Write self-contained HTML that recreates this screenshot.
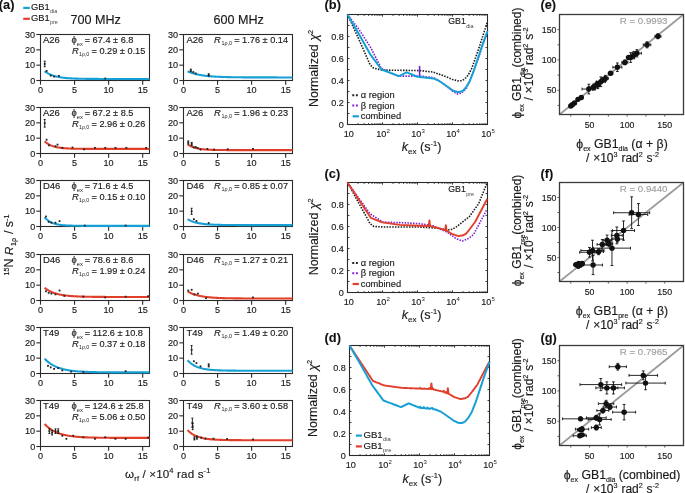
<!DOCTYPE html><html><head><meta charset="utf-8"><style>html,body{margin:0;padding:0;background:#fff;width:685px;height:493px;overflow:hidden}</style></head><body><div style="will-change:transform;width:685px;height:493px"><svg width="685" height="493" viewBox="0 0 685 493" style="display:block">
<rect width="685" height="493" fill="#fff"/>
<g font-family="'Liberation Sans', sans-serif">
<text x="-1.20" y="8.90" font-size="12.8" text-anchor="start" font-weight="bold" fill="#111" stroke="#111" stroke-width="0.1" >(a)</text>
<line x1="23.20" y1="7.90" x2="29.80" y2="7.90" stroke="#17a0d5" stroke-width="2.2" />
<text x="31.00" y="9.80" font-size="9.4" text-anchor="start" font-weight="normal" fill="#1a1a1a" stroke="#1a1a1a" stroke-width="0.15" >GB1</text>
<text x="50.00" y="13.00" font-size="5.4" text-anchor="start" font-weight="normal" fill="#444" stroke="#444" stroke-width="0" >dia</text>
<line x1="23.20" y1="18.80" x2="29.80" y2="18.80" stroke="#e23f2b" stroke-width="2.2" />
<text x="31.00" y="20.70" font-size="9.4" text-anchor="start" font-weight="normal" fill="#1a1a1a" stroke="#1a1a1a" stroke-width="0.15" >GB1</text>
<text x="50.00" y="23.90" font-size="5.4" text-anchor="start" font-weight="normal" fill="#444" stroke="#444" stroke-width="0" >pre</text>
<text x="70.50" y="23.90" font-size="12.6" text-anchor="start" font-weight="normal" fill="#1a1a1a" stroke="#1a1a1a" stroke-width="0.15" >700 MHz</text>
<text x="213.50" y="23.90" font-size="12.6" text-anchor="start" font-weight="normal" fill="#1a1a1a" stroke="#1a1a1a" stroke-width="0.15" >600 MHz</text>
<rect x="40.5" y="34.5" width="109" height="46" fill="none" stroke="#2a2a2a" stroke-width="1.1"/>
<line x1="36.30" y1="80.50" x2="40.50" y2="80.50" stroke="#2a2a2a" stroke-width="1.1" />
<text x="35.20" y="83.80" font-size="9.1" text-anchor="end" font-weight="normal" fill="#1a1a1a" stroke="#1a1a1a" stroke-width="0.15" >0</text>
<line x1="36.30" y1="65.17" x2="40.50" y2="65.17" stroke="#2a2a2a" stroke-width="1.1" />
<text x="35.20" y="68.47" font-size="9.1" text-anchor="end" font-weight="normal" fill="#1a1a1a" stroke="#1a1a1a" stroke-width="0.15" >10</text>
<line x1="36.30" y1="49.83" x2="40.50" y2="49.83" stroke="#2a2a2a" stroke-width="1.1" />
<text x="35.20" y="53.13" font-size="9.1" text-anchor="end" font-weight="normal" fill="#1a1a1a" stroke="#1a1a1a" stroke-width="0.15" >20</text>
<line x1="36.30" y1="34.50" x2="40.50" y2="34.50" stroke="#2a2a2a" stroke-width="1.1" />
<text x="35.20" y="37.80" font-size="9.1" text-anchor="end" font-weight="normal" fill="#1a1a1a" stroke="#1a1a1a" stroke-width="0.15" >30</text>
<line x1="40.50" y1="80.50" x2="40.50" y2="84.70" stroke="#2a2a2a" stroke-width="1.1" />
<text x="40.50" y="93.20" font-size="9.1" text-anchor="middle" font-weight="normal" fill="#1a1a1a" stroke="#1a1a1a" stroke-width="0.15" >0</text>
<line x1="74.56" y1="80.50" x2="74.56" y2="84.70" stroke="#2a2a2a" stroke-width="1.1" />
<text x="74.56" y="93.20" font-size="9.1" text-anchor="middle" font-weight="normal" fill="#1a1a1a" stroke="#1a1a1a" stroke-width="0.15" >5</text>
<line x1="108.62" y1="80.50" x2="108.62" y2="84.70" stroke="#2a2a2a" stroke-width="1.1" />
<text x="108.62" y="93.20" font-size="9.1" text-anchor="middle" font-weight="normal" fill="#1a1a1a" stroke="#1a1a1a" stroke-width="0.15" >10</text>
<line x1="142.69" y1="80.50" x2="142.69" y2="84.70" stroke="#2a2a2a" stroke-width="1.1" />
<text x="142.69" y="93.20" font-size="9.1" text-anchor="middle" font-weight="normal" fill="#1a1a1a" stroke="#1a1a1a" stroke-width="0.15" >15</text>
<polyline points="44.59,71.15 45.46,71.79 46.34,72.38 47.21,72.92 48.08,73.41 48.96,73.87 49.83,74.29 50.71,74.67 51.58,75.02 52.46,75.35 53.33,75.64 54.20,75.92 55.08,76.17 55.95,76.40 56.83,76.61 57.70,76.80 58.58,76.98 59.45,77.14 60.32,77.29 61.20,77.43 62.07,77.55 62.95,77.67 63.82,77.78 64.70,77.87 65.57,77.96 66.44,78.05 67.32,78.12 68.19,78.19 69.07,78.25 69.94,78.31 70.82,78.37 71.69,78.42 72.56,78.46 73.44,78.50 74.31,78.54 75.19,78.58 76.06,78.61 76.94,78.64 77.81,78.66 78.68,78.69 79.56,78.71 80.43,78.73 81.31,78.75 82.18,78.77 83.06,78.79 83.93,78.80 84.80,78.81 85.68,78.83 86.55,78.84 87.43,78.85 88.30,78.86 89.18,78.87 90.05,78.88 90.92,78.88 91.80,78.89 92.67,78.90 93.55,78.90 94.42,78.91 95.30,78.91 96.17,78.92 97.04,78.92 97.92,78.92 98.79,78.93 99.67,78.93 100.54,78.93 101.42,78.94 102.29,78.94 103.16,78.94 104.04,78.94 104.91,78.95 105.79,78.95 106.66,78.95 107.53,78.95 108.41,78.95 109.28,78.95 110.16,78.95 111.03,78.95 111.91,78.96 112.78,78.96 113.65,78.96 114.53,78.96 115.40,78.96 116.28,78.96 117.15,78.96 118.03,78.96 118.90,78.96 119.77,78.96 120.65,78.96 121.52,78.96 122.40,78.96 123.27,78.96 124.15,78.96 125.02,78.96 125.89,78.96 126.77,78.96 127.64,78.96 128.52,78.96 129.39,78.96 130.27,78.96 131.14,78.97 132.01,78.97 132.89,78.97 133.76,78.97 134.64,78.97 135.51,78.97 136.39,78.97 137.26,78.97 138.13,78.97 139.01,78.97 139.88,78.97 140.76,78.97 141.63,78.97 142.51,78.97 143.38,78.97 144.25,78.97 145.13,78.97 146.00,78.97 146.88,78.97 147.75,78.97 148.63,78.97 149.50,78.97" fill="none" stroke="#17a0d5" stroke-width="2.1" stroke-linejoin="round" />
<line x1="44.72" y1="61.18" x2="44.72" y2="66.70" stroke="#111" stroke-width="0.9" />
<line x1="43.72" y1="61.18" x2="45.72" y2="61.18" stroke="#111" stroke-width="0.9" />
<line x1="43.72" y1="66.70" x2="45.72" y2="66.70" stroke="#111" stroke-width="0.9" />
<rect x="43.82" y="63.04" width="1.8" height="1.8" fill="#222"/>
<rect x="45.73" y="70.09" width="1.8" height="1.8" fill="#222"/>
<rect x="49.82" y="74.69" width="1.8" height="1.8" fill="#222"/>
<rect x="53.23" y="75.61" width="1.8" height="1.8" fill="#222"/>
<rect x="57.99" y="75.00" width="1.8" height="1.8" fill="#222"/>
<rect x="104.32" y="77.61" width="1.8" height="1.8" fill="#222"/>
<text x="42.90" y="42.60" font-size="9.5" text-anchor="start" font-weight="normal" fill="#1a1a1a" stroke="#1a1a1a" stroke-width="0.15" >A26</text>
<text x="71.50" y="42.60" font-size="9.4" text-anchor="start" font-weight="normal" fill="#1a1a1a" stroke="#1a1a1a" stroke-width="0.15" >ϕ</text>
<text x="76.80" y="45.80" font-size="5.8" text-anchor="start" font-weight="normal" fill="#1a1a1a" stroke="#1a1a1a" stroke-width="0" >ex</text>
<text x="84.70" y="42.60" font-size="9.2" text-anchor="start" font-weight="normal" fill="#1a1a1a" stroke="#1a1a1a" stroke-width="0.15" >= 67.4 ± 6.8</text>
<text x="71.90" y="54.00" font-size="9.4" text-anchor="start" font-weight="normal" fill="#1a1a1a" stroke="#1a1a1a" stroke-width="0.15" font-style="italic">R</text>
<text x="79.10" y="56.30" font-size="5.2" text-anchor="start" font-weight="normal" fill="#1a1a1a" stroke="#1a1a1a" stroke-width="0" >1ρ,0</text>
<text x="91.50" y="54.00" font-size="9.2" text-anchor="start" font-weight="normal" fill="#1a1a1a" stroke="#1a1a1a" stroke-width="0.15" >= 0.29 ± 0.15</text>
<rect x="183.5" y="34.5" width="109" height="46" fill="none" stroke="#2a2a2a" stroke-width="1.1"/>
<line x1="179.30" y1="80.50" x2="183.50" y2="80.50" stroke="#2a2a2a" stroke-width="1.1" />
<text x="178.20" y="83.80" font-size="9.1" text-anchor="end" font-weight="normal" fill="#1a1a1a" stroke="#1a1a1a" stroke-width="0.15" >0</text>
<line x1="179.30" y1="65.17" x2="183.50" y2="65.17" stroke="#2a2a2a" stroke-width="1.1" />
<text x="178.20" y="68.47" font-size="9.1" text-anchor="end" font-weight="normal" fill="#1a1a1a" stroke="#1a1a1a" stroke-width="0.15" >10</text>
<line x1="179.30" y1="49.83" x2="183.50" y2="49.83" stroke="#2a2a2a" stroke-width="1.1" />
<text x="178.20" y="53.13" font-size="9.1" text-anchor="end" font-weight="normal" fill="#1a1a1a" stroke="#1a1a1a" stroke-width="0.15" >20</text>
<line x1="179.30" y1="34.50" x2="183.50" y2="34.50" stroke="#2a2a2a" stroke-width="1.1" />
<text x="178.20" y="37.80" font-size="9.1" text-anchor="end" font-weight="normal" fill="#1a1a1a" stroke="#1a1a1a" stroke-width="0.15" >30</text>
<line x1="183.50" y1="80.50" x2="183.50" y2="84.70" stroke="#2a2a2a" stroke-width="1.1" />
<text x="183.50" y="93.20" font-size="9.1" text-anchor="middle" font-weight="normal" fill="#1a1a1a" stroke="#1a1a1a" stroke-width="0.15" >0</text>
<line x1="217.56" y1="80.50" x2="217.56" y2="84.70" stroke="#2a2a2a" stroke-width="1.1" />
<text x="217.56" y="93.20" font-size="9.1" text-anchor="middle" font-weight="normal" fill="#1a1a1a" stroke="#1a1a1a" stroke-width="0.15" >5</text>
<line x1="251.62" y1="80.50" x2="251.62" y2="84.70" stroke="#2a2a2a" stroke-width="1.1" />
<text x="251.62" y="93.20" font-size="9.1" text-anchor="middle" font-weight="normal" fill="#1a1a1a" stroke="#1a1a1a" stroke-width="0.15" >10</text>
<line x1="285.69" y1="80.50" x2="285.69" y2="84.70" stroke="#2a2a2a" stroke-width="1.1" />
<text x="285.69" y="93.20" font-size="9.1" text-anchor="middle" font-weight="normal" fill="#1a1a1a" stroke="#1a1a1a" stroke-width="0.15" >15</text>
<polyline points="187.59,71.30 188.46,71.68 189.34,72.04 190.21,72.37 191.08,72.69 191.96,72.98 192.83,73.26 193.71,73.52 194.58,73.76 195.46,73.99 196.33,74.20 197.20,74.41 198.08,74.59 198.95,74.77 199.83,74.94 200.70,75.09 201.58,75.24 202.45,75.37 203.32,75.50 204.20,75.62 205.07,75.73 205.95,75.84 206.82,75.94 207.70,76.03 208.57,76.12 209.44,76.20 210.32,76.28 211.19,76.35 212.07,76.42 212.94,76.48 213.82,76.54 214.69,76.59 215.56,76.65 216.44,76.70 217.31,76.74 218.19,76.78 219.06,76.82 219.94,76.86 220.81,76.90 221.68,76.93 222.56,76.96 223.43,76.99 224.31,77.02 225.18,77.04 226.06,77.07 226.93,77.09 227.80,77.11 228.68,77.13 229.55,77.15 230.43,77.17 231.30,77.19 232.18,77.20 233.05,77.22 233.92,77.23 234.80,77.24 235.67,77.25 236.55,77.26 237.42,77.28 238.30,77.28 239.17,77.29 240.04,77.30 240.92,77.31 241.79,77.32 242.67,77.33 243.54,77.33 244.42,77.34 245.29,77.34 246.16,77.35 247.04,77.36 247.91,77.36 248.79,77.36 249.66,77.37 250.53,77.37 251.41,77.38 252.28,77.38 253.16,77.38 254.03,77.39 254.91,77.39 255.78,77.39 256.65,77.39 257.53,77.40 258.40,77.40 259.28,77.40 260.15,77.40 261.03,77.41 261.90,77.41 262.77,77.41 263.65,77.41 264.52,77.41 265.40,77.41 266.27,77.41 267.15,77.42 268.02,77.42 268.89,77.42 269.77,77.42 270.64,77.42 271.52,77.42 272.39,77.42 273.27,77.42 274.14,77.42 275.01,77.42 275.89,77.42 276.76,77.42 277.64,77.43 278.51,77.43 279.39,77.43 280.26,77.43 281.13,77.43 282.01,77.43 282.88,77.43 283.76,77.43 284.63,77.43 285.51,77.43 286.38,77.43 287.25,77.43 288.13,77.43 289.00,77.43 289.88,77.43 290.75,77.43 291.63,77.43 292.50,77.43" fill="none" stroke="#17a0d5" stroke-width="2.1" stroke-linejoin="round" />
<line x1="190.79" y1="69.15" x2="190.79" y2="71.61" stroke="#111" stroke-width="0.9" />
<line x1="189.79" y1="69.15" x2="191.79" y2="69.15" stroke="#111" stroke-width="0.9" />
<line x1="189.79" y1="71.61" x2="191.79" y2="71.61" stroke="#111" stroke-width="0.9" />
<rect x="189.89" y="69.48" width="1.8" height="1.8" fill="#222"/>
<rect x="192.41" y="71.17" width="1.8" height="1.8" fill="#222"/>
<rect x="194.86" y="72.55" width="1.8" height="1.8" fill="#222"/>
<line x1="208.71" y1="73.75" x2="208.71" y2="76.21" stroke="#111" stroke-width="0.9" />
<line x1="207.71" y1="73.75" x2="209.71" y2="73.75" stroke="#111" stroke-width="0.9" />
<line x1="207.71" y1="76.21" x2="209.71" y2="76.21" stroke="#111" stroke-width="0.9" />
<rect x="207.81" y="74.08" width="1.8" height="1.8" fill="#222"/>
<text x="186.50" y="42.60" font-size="9.5" text-anchor="start" font-weight="normal" fill="#1a1a1a" stroke="#1a1a1a" stroke-width="0.15" >A26</text>
<text x="214.10" y="42.60" font-size="9.4" text-anchor="start" font-weight="normal" fill="#1a1a1a" stroke="#1a1a1a" stroke-width="0.15" font-style="italic">R</text>
<text x="221.50" y="45.10" font-size="5.4" text-anchor="start" font-weight="normal" fill="#1a1a1a" stroke="#1a1a1a" stroke-width="0" >1ρ,0</text>
<text x="234.20" y="42.60" font-size="9.2" text-anchor="start" font-weight="normal" fill="#1a1a1a" stroke="#1a1a1a" stroke-width="0.15" >= 1.76 ± 0.14</text>
<rect x="40.5" y="107.5" width="109" height="46" fill="none" stroke="#2a2a2a" stroke-width="1.1"/>
<line x1="36.30" y1="153.50" x2="40.50" y2="153.50" stroke="#2a2a2a" stroke-width="1.1" />
<text x="35.20" y="156.80" font-size="9.1" text-anchor="end" font-weight="normal" fill="#1a1a1a" stroke="#1a1a1a" stroke-width="0.15" >0</text>
<line x1="36.30" y1="138.17" x2="40.50" y2="138.17" stroke="#2a2a2a" stroke-width="1.1" />
<text x="35.20" y="141.47" font-size="9.1" text-anchor="end" font-weight="normal" fill="#1a1a1a" stroke="#1a1a1a" stroke-width="0.15" >10</text>
<line x1="36.30" y1="122.83" x2="40.50" y2="122.83" stroke="#2a2a2a" stroke-width="1.1" />
<text x="35.20" y="126.13" font-size="9.1" text-anchor="end" font-weight="normal" fill="#1a1a1a" stroke="#1a1a1a" stroke-width="0.15" >20</text>
<line x1="36.30" y1="107.50" x2="40.50" y2="107.50" stroke="#2a2a2a" stroke-width="1.1" />
<text x="35.20" y="110.80" font-size="9.1" text-anchor="end" font-weight="normal" fill="#1a1a1a" stroke="#1a1a1a" stroke-width="0.15" >30</text>
<line x1="40.50" y1="153.50" x2="40.50" y2="157.70" stroke="#2a2a2a" stroke-width="1.1" />
<text x="40.50" y="166.20" font-size="9.1" text-anchor="middle" font-weight="normal" fill="#1a1a1a" stroke="#1a1a1a" stroke-width="0.15" >0</text>
<line x1="74.56" y1="153.50" x2="74.56" y2="157.70" stroke="#2a2a2a" stroke-width="1.1" />
<text x="74.56" y="166.20" font-size="9.1" text-anchor="middle" font-weight="normal" fill="#1a1a1a" stroke="#1a1a1a" stroke-width="0.15" >5</text>
<line x1="108.62" y1="153.50" x2="108.62" y2="157.70" stroke="#2a2a2a" stroke-width="1.1" />
<text x="108.62" y="166.20" font-size="9.1" text-anchor="middle" font-weight="normal" fill="#1a1a1a" stroke="#1a1a1a" stroke-width="0.15" >10</text>
<line x1="142.69" y1="153.50" x2="142.69" y2="157.70" stroke="#2a2a2a" stroke-width="1.1" />
<text x="142.69" y="166.20" font-size="9.1" text-anchor="middle" font-weight="normal" fill="#1a1a1a" stroke="#1a1a1a" stroke-width="0.15" >15</text>
<polyline points="44.59,141.23 45.46,142.01 46.34,142.71 47.21,143.34 48.08,143.90 48.96,144.41 49.83,144.86 50.71,145.27 51.58,145.64 52.46,145.97 53.33,146.27 54.20,146.54 55.08,146.78 55.95,146.99 56.83,147.18 57.70,147.36 58.58,147.51 59.45,147.66 60.32,147.78 61.20,147.90 62.07,148.00 62.95,148.09 63.82,148.17 64.70,148.24 65.57,148.31 66.44,148.37 67.32,148.42 68.19,148.47 69.07,148.52 69.94,148.56 70.82,148.59 71.69,148.62 72.56,148.65 73.44,148.68 74.31,148.70 75.19,148.72 76.06,148.74 76.94,148.75 77.81,148.77 78.68,148.78 79.56,148.79 80.43,148.80 81.31,148.81 82.18,148.82 83.06,148.83 83.93,148.84 84.80,148.84 85.68,148.85 86.55,148.85 87.43,148.86 88.30,148.86 89.18,148.87 90.05,148.87 90.92,148.87 91.80,148.88 92.67,148.88 93.55,148.88 94.42,148.88 95.30,148.88 96.17,148.89 97.04,148.89 97.92,148.89 98.79,148.89 99.67,148.89 100.54,148.89 101.42,148.89 102.29,148.89 103.16,148.89 104.04,148.89 104.91,148.90 105.79,148.90 106.66,148.90 107.53,148.90 108.41,148.90 109.28,148.90 110.16,148.90 111.03,148.90 111.91,148.90 112.78,148.90 113.65,148.90 114.53,148.90 115.40,148.90 116.28,148.90 117.15,148.90 118.03,148.90 118.90,148.90 119.77,148.90 120.65,148.90 121.52,148.90 122.40,148.90 123.27,148.90 124.15,148.90 125.02,148.90 125.89,148.90 126.77,148.90 127.64,148.90 128.52,148.90 129.39,148.90 130.27,148.90 131.14,148.90 132.01,148.90 132.89,148.90 133.76,148.90 134.64,148.90 135.51,148.90 136.39,148.90 137.26,148.90 138.13,148.90 139.01,148.90 139.88,148.90 140.76,148.90 141.63,148.90 142.51,148.90 143.38,148.90 144.25,148.90 145.13,148.90 146.00,148.90 146.88,148.90 147.75,148.90 148.63,148.90 149.50,148.90" fill="none" stroke="#e23f2b" stroke-width="2.1" stroke-linejoin="round" />
<line x1="44.72" y1="119.46" x2="44.72" y2="127.13" stroke="#111" stroke-width="0.9" />
<line x1="43.72" y1="119.46" x2="45.72" y2="119.46" stroke="#111" stroke-width="0.9" />
<line x1="43.72" y1="127.13" x2="45.72" y2="127.13" stroke="#111" stroke-width="0.9" />
<rect x="43.82" y="122.39" width="1.8" height="1.8" fill="#222"/>
<rect x="45.73" y="138.80" width="1.8" height="1.8" fill="#222"/>
<rect x="48.12" y="144.47" width="1.8" height="1.8" fill="#222"/>
<rect x="54.59" y="145.39" width="1.8" height="1.8" fill="#222"/>
<rect x="56.63" y="143.71" width="1.8" height="1.8" fill="#222"/>
<rect x="61.40" y="146.93" width="1.8" height="1.8" fill="#222"/>
<rect x="71.62" y="146.62" width="1.8" height="1.8" fill="#222"/>
<rect x="83.20" y="148.46" width="1.8" height="1.8" fill="#222"/>
<rect x="94.10" y="146.93" width="1.8" height="1.8" fill="#222"/>
<rect x="104.32" y="146.93" width="1.8" height="1.8" fill="#222"/>
<rect x="114.54" y="146.93" width="1.8" height="1.8" fill="#222"/>
<rect x="125.44" y="146.93" width="1.8" height="1.8" fill="#222"/>
<rect x="145.19" y="146.93" width="1.8" height="1.8" fill="#222"/>
<text x="42.90" y="115.60" font-size="9.5" text-anchor="start" font-weight="normal" fill="#1a1a1a" stroke="#1a1a1a" stroke-width="0.15" >A26</text>
<text x="71.50" y="115.60" font-size="9.4" text-anchor="start" font-weight="normal" fill="#1a1a1a" stroke="#1a1a1a" stroke-width="0.15" >ϕ</text>
<text x="76.80" y="118.80" font-size="5.8" text-anchor="start" font-weight="normal" fill="#1a1a1a" stroke="#1a1a1a" stroke-width="0" >ex</text>
<text x="84.70" y="115.60" font-size="9.2" text-anchor="start" font-weight="normal" fill="#1a1a1a" stroke="#1a1a1a" stroke-width="0.15" >= 67.2 ± 8.5</text>
<text x="71.90" y="127.00" font-size="9.4" text-anchor="start" font-weight="normal" fill="#1a1a1a" stroke="#1a1a1a" stroke-width="0.15" font-style="italic">R</text>
<text x="79.10" y="129.30" font-size="5.2" text-anchor="start" font-weight="normal" fill="#1a1a1a" stroke="#1a1a1a" stroke-width="0" >1ρ,0</text>
<text x="91.50" y="127.00" font-size="9.2" text-anchor="start" font-weight="normal" fill="#1a1a1a" stroke="#1a1a1a" stroke-width="0.15" >= 2.96 ± 0.26</text>
<rect x="183.5" y="107.5" width="109" height="46" fill="none" stroke="#2a2a2a" stroke-width="1.1"/>
<line x1="179.30" y1="153.50" x2="183.50" y2="153.50" stroke="#2a2a2a" stroke-width="1.1" />
<text x="178.20" y="156.80" font-size="9.1" text-anchor="end" font-weight="normal" fill="#1a1a1a" stroke="#1a1a1a" stroke-width="0.15" >0</text>
<line x1="179.30" y1="138.17" x2="183.50" y2="138.17" stroke="#2a2a2a" stroke-width="1.1" />
<text x="178.20" y="141.47" font-size="9.1" text-anchor="end" font-weight="normal" fill="#1a1a1a" stroke="#1a1a1a" stroke-width="0.15" >10</text>
<line x1="179.30" y1="122.83" x2="183.50" y2="122.83" stroke="#2a2a2a" stroke-width="1.1" />
<text x="178.20" y="126.13" font-size="9.1" text-anchor="end" font-weight="normal" fill="#1a1a1a" stroke="#1a1a1a" stroke-width="0.15" >20</text>
<line x1="179.30" y1="107.50" x2="183.50" y2="107.50" stroke="#2a2a2a" stroke-width="1.1" />
<text x="178.20" y="110.80" font-size="9.1" text-anchor="end" font-weight="normal" fill="#1a1a1a" stroke="#1a1a1a" stroke-width="0.15" >30</text>
<line x1="183.50" y1="153.50" x2="183.50" y2="157.70" stroke="#2a2a2a" stroke-width="1.1" />
<text x="183.50" y="166.20" font-size="9.1" text-anchor="middle" font-weight="normal" fill="#1a1a1a" stroke="#1a1a1a" stroke-width="0.15" >0</text>
<line x1="217.56" y1="153.50" x2="217.56" y2="157.70" stroke="#2a2a2a" stroke-width="1.1" />
<text x="217.56" y="166.20" font-size="9.1" text-anchor="middle" font-weight="normal" fill="#1a1a1a" stroke="#1a1a1a" stroke-width="0.15" >5</text>
<line x1="251.62" y1="153.50" x2="251.62" y2="157.70" stroke="#2a2a2a" stroke-width="1.1" />
<text x="251.62" y="166.20" font-size="9.1" text-anchor="middle" font-weight="normal" fill="#1a1a1a" stroke="#1a1a1a" stroke-width="0.15" >10</text>
<line x1="285.69" y1="153.50" x2="285.69" y2="157.70" stroke="#2a2a2a" stroke-width="1.1" />
<text x="285.69" y="166.20" font-size="9.1" text-anchor="middle" font-weight="normal" fill="#1a1a1a" stroke="#1a1a1a" stroke-width="0.15" >15</text>
<polyline points="187.59,144.30 188.46,144.89 189.34,145.42 190.21,145.90 191.08,146.33 191.96,146.71 192.83,147.06 193.71,147.37 194.58,147.65 195.46,147.90 196.33,148.13 197.20,148.33 198.08,148.51 198.95,148.68 199.83,148.82 200.70,148.96 201.58,149.07 202.45,149.18 203.32,149.28 204.20,149.36 205.07,149.44 205.95,149.51 206.82,149.57 207.70,149.63 208.57,149.68 209.44,149.72 210.32,149.77 211.19,149.80 212.07,149.83 212.94,149.86 213.82,149.89 214.69,149.92 215.56,149.94 216.44,149.96 217.31,149.97 218.19,149.99 219.06,150.00 219.94,150.02 220.81,150.03 221.68,150.04 222.56,150.05 223.43,150.05 224.31,150.06 225.18,150.07 226.06,150.07 226.93,150.08 227.80,150.08 228.68,150.09 229.55,150.09 230.43,150.10 231.30,150.10 232.18,150.10 233.05,150.10 233.92,150.11 234.80,150.11 235.67,150.11 236.55,150.11 237.42,150.11 238.30,150.11 239.17,150.12 240.04,150.12 240.92,150.12 241.79,150.12 242.67,150.12 243.54,150.12 244.42,150.12 245.29,150.12 246.16,150.12 247.04,150.12 247.91,150.12 248.79,150.12 249.66,150.12 250.53,150.12 251.41,150.12 252.28,150.12 253.16,150.12 254.03,150.12 254.91,150.13 255.78,150.13 256.65,150.13 257.53,150.13 258.40,150.13 259.28,150.13 260.15,150.13 261.03,150.13 261.90,150.13 262.77,150.13 263.65,150.13 264.52,150.13 265.40,150.13 266.27,150.13 267.15,150.13 268.02,150.13 268.89,150.13 269.77,150.13 270.64,150.13 271.52,150.13 272.39,150.13 273.27,150.13 274.14,150.13 275.01,150.13 275.89,150.13 276.76,150.13 277.64,150.13 278.51,150.13 279.39,150.13 280.26,150.13 281.13,150.13 282.01,150.13 282.88,150.13 283.76,150.13 284.63,150.13 285.51,150.13 286.38,150.13 287.25,150.13 288.13,150.13 289.00,150.13 289.88,150.13 290.75,150.13 291.63,150.13 292.50,150.13" fill="none" stroke="#e23f2b" stroke-width="2.1" stroke-linejoin="round" />
<line x1="188.27" y1="140.93" x2="188.27" y2="143.99" stroke="#111" stroke-width="0.9" />
<line x1="187.27" y1="140.93" x2="189.27" y2="140.93" stroke="#111" stroke-width="0.9" />
<line x1="187.27" y1="143.99" x2="189.27" y2="143.99" stroke="#111" stroke-width="0.9" />
<rect x="187.37" y="141.56" width="1.8" height="1.8" fill="#222"/>
<line x1="191.68" y1="142.46" x2="191.68" y2="145.53" stroke="#111" stroke-width="0.9" />
<line x1="190.68" y1="142.46" x2="192.68" y2="142.46" stroke="#111" stroke-width="0.9" />
<line x1="190.68" y1="145.53" x2="192.68" y2="145.53" stroke="#111" stroke-width="0.9" />
<rect x="190.78" y="143.09" width="1.8" height="1.8" fill="#222"/>
<rect x="192.82" y="146.47" width="1.8" height="1.8" fill="#222"/>
<rect x="194.86" y="146.16" width="1.8" height="1.8" fill="#222"/>
<rect x="196.91" y="147.23" width="1.8" height="1.8" fill="#222"/>
<rect x="199.63" y="148.77" width="1.8" height="1.8" fill="#222"/>
<rect x="206.44" y="148.00" width="1.8" height="1.8" fill="#222"/>
<rect x="213.26" y="148.77" width="1.8" height="1.8" fill="#222"/>
<rect x="226.88" y="148.31" width="1.8" height="1.8" fill="#222"/>
<rect x="252.09" y="148.00" width="1.8" height="1.8" fill="#222"/>
<text x="186.50" y="115.60" font-size="9.5" text-anchor="start" font-weight="normal" fill="#1a1a1a" stroke="#1a1a1a" stroke-width="0.15" >A26</text>
<text x="214.10" y="115.60" font-size="9.4" text-anchor="start" font-weight="normal" fill="#1a1a1a" stroke="#1a1a1a" stroke-width="0.15" font-style="italic">R</text>
<text x="221.50" y="118.10" font-size="5.4" text-anchor="start" font-weight="normal" fill="#1a1a1a" stroke="#1a1a1a" stroke-width="0" >1ρ,0</text>
<text x="234.20" y="115.60" font-size="9.2" text-anchor="start" font-weight="normal" fill="#1a1a1a" stroke="#1a1a1a" stroke-width="0.15" >= 1.96 ± 0.23</text>
<rect x="40.5" y="180.5" width="109" height="46" fill="none" stroke="#2a2a2a" stroke-width="1.1"/>
<line x1="36.30" y1="226.50" x2="40.50" y2="226.50" stroke="#2a2a2a" stroke-width="1.1" />
<text x="35.20" y="229.80" font-size="9.1" text-anchor="end" font-weight="normal" fill="#1a1a1a" stroke="#1a1a1a" stroke-width="0.15" >0</text>
<line x1="36.30" y1="211.17" x2="40.50" y2="211.17" stroke="#2a2a2a" stroke-width="1.1" />
<text x="35.20" y="214.47" font-size="9.1" text-anchor="end" font-weight="normal" fill="#1a1a1a" stroke="#1a1a1a" stroke-width="0.15" >10</text>
<line x1="36.30" y1="195.83" x2="40.50" y2="195.83" stroke="#2a2a2a" stroke-width="1.1" />
<text x="35.20" y="199.13" font-size="9.1" text-anchor="end" font-weight="normal" fill="#1a1a1a" stroke="#1a1a1a" stroke-width="0.15" >20</text>
<line x1="36.30" y1="180.50" x2="40.50" y2="180.50" stroke="#2a2a2a" stroke-width="1.1" />
<text x="35.20" y="183.80" font-size="9.1" text-anchor="end" font-weight="normal" fill="#1a1a1a" stroke="#1a1a1a" stroke-width="0.15" >30</text>
<line x1="40.50" y1="226.50" x2="40.50" y2="230.70" stroke="#2a2a2a" stroke-width="1.1" />
<text x="40.50" y="239.20" font-size="9.1" text-anchor="middle" font-weight="normal" fill="#1a1a1a" stroke="#1a1a1a" stroke-width="0.15" >0</text>
<line x1="74.56" y1="226.50" x2="74.56" y2="230.70" stroke="#2a2a2a" stroke-width="1.1" />
<text x="74.56" y="239.20" font-size="9.1" text-anchor="middle" font-weight="normal" fill="#1a1a1a" stroke="#1a1a1a" stroke-width="0.15" >5</text>
<line x1="108.62" y1="226.50" x2="108.62" y2="230.70" stroke="#2a2a2a" stroke-width="1.1" />
<text x="108.62" y="239.20" font-size="9.1" text-anchor="middle" font-weight="normal" fill="#1a1a1a" stroke="#1a1a1a" stroke-width="0.15" >10</text>
<line x1="142.69" y1="226.50" x2="142.69" y2="230.70" stroke="#2a2a2a" stroke-width="1.1" />
<text x="142.69" y="239.20" font-size="9.1" text-anchor="middle" font-weight="normal" fill="#1a1a1a" stroke="#1a1a1a" stroke-width="0.15" >15</text>
<polyline points="44.59,217.15 45.46,218.13 46.34,219.00 47.21,219.77 48.08,220.45 48.96,221.06 49.83,221.60 50.71,222.08 51.58,222.51 52.46,222.89 53.33,223.22 54.20,223.52 55.08,223.79 55.95,224.02 56.83,224.23 57.70,224.42 58.58,224.58 59.45,224.73 60.32,224.86 61.20,224.97 62.07,225.07 62.95,225.17 63.82,225.25 64.70,225.32 65.57,225.38 66.44,225.44 67.32,225.49 68.19,225.53 69.07,225.57 69.94,225.61 70.82,225.64 71.69,225.67 72.56,225.69 73.44,225.71 74.31,225.73 75.19,225.75 76.06,225.77 76.94,225.78 77.81,225.79 78.68,225.80 79.56,225.81 80.43,225.82 81.31,225.83 82.18,225.83 83.06,225.84 83.93,225.85 84.80,225.85 85.68,225.85 86.55,225.86 87.43,225.86 88.30,225.86 89.18,225.87 90.05,225.87 90.92,225.87 91.80,225.87 92.67,225.87 93.55,225.88 94.42,225.88 95.30,225.88 96.17,225.88 97.04,225.88 97.92,225.88 98.79,225.88 99.67,225.88 100.54,225.88 101.42,225.88 102.29,225.88 103.16,225.88 104.04,225.88 104.91,225.88 105.79,225.88 106.66,225.88 107.53,225.88 108.41,225.89 109.28,225.89 110.16,225.89 111.03,225.89 111.91,225.89 112.78,225.89 113.65,225.89 114.53,225.89 115.40,225.89 116.28,225.89 117.15,225.89 118.03,225.89 118.90,225.89 119.77,225.89 120.65,225.89 121.52,225.89 122.40,225.89 123.27,225.89 124.15,225.89 125.02,225.89 125.89,225.89 126.77,225.89 127.64,225.89 128.52,225.89 129.39,225.89 130.27,225.89 131.14,225.89 132.01,225.89 132.89,225.89 133.76,225.89 134.64,225.89 135.51,225.89 136.39,225.89 137.26,225.89 138.13,225.89 139.01,225.89 139.88,225.89 140.76,225.89 141.63,225.89 142.51,225.89 143.38,225.89 144.25,225.89 145.13,225.89 146.00,225.89 146.88,225.89 147.75,225.89 148.63,225.89 149.50,225.89" fill="none" stroke="#17a0d5" stroke-width="2.1" stroke-linejoin="round" />
<rect x="45.05" y="215.63" width="1.8" height="1.8" fill="#222"/>
<rect x="47.77" y="221.00" width="1.8" height="1.8" fill="#222"/>
<rect x="50.50" y="221.77" width="1.8" height="1.8" fill="#222"/>
<rect x="54.59" y="221.77" width="1.8" height="1.8" fill="#222"/>
<rect x="58.68" y="220.23" width="1.8" height="1.8" fill="#222"/>
<rect x="83.88" y="224.68" width="1.8" height="1.8" fill="#222"/>
<rect x="124.76" y="224.68" width="1.8" height="1.8" fill="#222"/>
<text x="42.90" y="188.60" font-size="9.5" text-anchor="start" font-weight="normal" fill="#1a1a1a" stroke="#1a1a1a" stroke-width="0.15" >D46</text>
<text x="71.50" y="188.60" font-size="9.4" text-anchor="start" font-weight="normal" fill="#1a1a1a" stroke="#1a1a1a" stroke-width="0.15" >ϕ</text>
<text x="76.80" y="191.80" font-size="5.8" text-anchor="start" font-weight="normal" fill="#1a1a1a" stroke="#1a1a1a" stroke-width="0" >ex</text>
<text x="84.70" y="188.60" font-size="9.2" text-anchor="start" font-weight="normal" fill="#1a1a1a" stroke="#1a1a1a" stroke-width="0.15" >= 71.6 ± 4.5</text>
<text x="71.90" y="200.00" font-size="9.4" text-anchor="start" font-weight="normal" fill="#1a1a1a" stroke="#1a1a1a" stroke-width="0.15" font-style="italic">R</text>
<text x="79.10" y="202.30" font-size="5.2" text-anchor="start" font-weight="normal" fill="#1a1a1a" stroke="#1a1a1a" stroke-width="0" >1ρ,0</text>
<text x="91.50" y="200.00" font-size="9.2" text-anchor="start" font-weight="normal" fill="#1a1a1a" stroke="#1a1a1a" stroke-width="0.15" >= 0.15 ± 0.10</text>
<rect x="183.5" y="180.5" width="109" height="46" fill="none" stroke="#2a2a2a" stroke-width="1.1"/>
<line x1="179.30" y1="226.50" x2="183.50" y2="226.50" stroke="#2a2a2a" stroke-width="1.1" />
<text x="178.20" y="229.80" font-size="9.1" text-anchor="end" font-weight="normal" fill="#1a1a1a" stroke="#1a1a1a" stroke-width="0.15" >0</text>
<line x1="179.30" y1="211.17" x2="183.50" y2="211.17" stroke="#2a2a2a" stroke-width="1.1" />
<text x="178.20" y="214.47" font-size="9.1" text-anchor="end" font-weight="normal" fill="#1a1a1a" stroke="#1a1a1a" stroke-width="0.15" >10</text>
<line x1="179.30" y1="195.83" x2="183.50" y2="195.83" stroke="#2a2a2a" stroke-width="1.1" />
<text x="178.20" y="199.13" font-size="9.1" text-anchor="end" font-weight="normal" fill="#1a1a1a" stroke="#1a1a1a" stroke-width="0.15" >20</text>
<line x1="179.30" y1="180.50" x2="183.50" y2="180.50" stroke="#2a2a2a" stroke-width="1.1" />
<text x="178.20" y="183.80" font-size="9.1" text-anchor="end" font-weight="normal" fill="#1a1a1a" stroke="#1a1a1a" stroke-width="0.15" >30</text>
<line x1="183.50" y1="226.50" x2="183.50" y2="230.70" stroke="#2a2a2a" stroke-width="1.1" />
<text x="183.50" y="239.20" font-size="9.1" text-anchor="middle" font-weight="normal" fill="#1a1a1a" stroke="#1a1a1a" stroke-width="0.15" >0</text>
<line x1="217.56" y1="226.50" x2="217.56" y2="230.70" stroke="#2a2a2a" stroke-width="1.1" />
<text x="217.56" y="239.20" font-size="9.1" text-anchor="middle" font-weight="normal" fill="#1a1a1a" stroke="#1a1a1a" stroke-width="0.15" >5</text>
<line x1="251.62" y1="226.50" x2="251.62" y2="230.70" stroke="#2a2a2a" stroke-width="1.1" />
<text x="251.62" y="239.20" font-size="9.1" text-anchor="middle" font-weight="normal" fill="#1a1a1a" stroke="#1a1a1a" stroke-width="0.15" >10</text>
<line x1="285.69" y1="226.50" x2="285.69" y2="230.70" stroke="#2a2a2a" stroke-width="1.1" />
<text x="285.69" y="239.20" font-size="9.1" text-anchor="middle" font-weight="normal" fill="#1a1a1a" stroke="#1a1a1a" stroke-width="0.15" >15</text>
<polyline points="187.59,219.14 188.46,219.64 189.34,220.10 190.21,220.53 191.08,220.91 191.96,221.27 192.83,221.59 193.71,221.89 194.58,222.16 195.46,222.41 196.33,222.64 197.20,222.85 198.08,223.04 198.95,223.21 199.83,223.37 200.70,223.52 201.58,223.65 202.45,223.78 203.32,223.89 204.20,223.99 205.07,224.09 205.95,224.18 206.82,224.26 207.70,224.33 208.57,224.39 209.44,224.46 210.32,224.51 211.19,224.56 212.07,224.61 212.94,224.65 213.82,224.69 214.69,224.73 215.56,224.76 216.44,224.79 217.31,224.82 218.19,224.84 219.06,224.87 219.94,224.89 220.81,224.91 221.68,224.93 222.56,224.94 223.43,224.96 224.31,224.97 225.18,224.98 226.06,224.99 226.93,225.01 227.80,225.02 228.68,225.02 229.55,225.03 230.43,225.04 231.30,225.05 232.18,225.05 233.05,225.06 233.92,225.06 234.80,225.07 235.67,225.07 236.55,225.08 237.42,225.08 238.30,225.08 239.17,225.09 240.04,225.09 240.92,225.09 241.79,225.09 242.67,225.10 243.54,225.10 244.42,225.10 245.29,225.10 246.16,225.10 247.04,225.10 247.91,225.11 248.79,225.11 249.66,225.11 250.53,225.11 251.41,225.11 252.28,225.11 253.16,225.11 254.03,225.11 254.91,225.11 255.78,225.11 256.65,225.11 257.53,225.11 258.40,225.12 259.28,225.12 260.15,225.12 261.03,225.12 261.90,225.12 262.77,225.12 263.65,225.12 264.52,225.12 265.40,225.12 266.27,225.12 267.15,225.12 268.02,225.12 268.89,225.12 269.77,225.12 270.64,225.12 271.52,225.12 272.39,225.12 273.27,225.12 274.14,225.12 275.01,225.12 275.89,225.12 276.76,225.12 277.64,225.12 278.51,225.12 279.39,225.12 280.26,225.12 281.13,225.12 282.01,225.12 282.88,225.12 283.76,225.12 284.63,225.12 285.51,225.12 286.38,225.12 287.25,225.12 288.13,225.12 289.00,225.12 289.88,225.12 290.75,225.12 291.63,225.12 292.50,225.12" fill="none" stroke="#17a0d5" stroke-width="2.1" stroke-linejoin="round" />
<line x1="191.61" y1="208.25" x2="191.61" y2="214.39" stroke="#111" stroke-width="0.9" />
<line x1="190.61" y1="208.25" x2="192.61" y2="208.25" stroke="#111" stroke-width="0.9" />
<line x1="190.61" y1="214.39" x2="192.61" y2="214.39" stroke="#111" stroke-width="0.9" />
<rect x="190.71" y="210.42" width="1.8" height="1.8" fill="#222"/>
<rect x="192.95" y="218.24" width="1.8" height="1.8" fill="#222"/>
<rect x="195.54" y="220.08" width="1.8" height="1.8" fill="#222"/>
<rect x="207.81" y="222.07" width="1.8" height="1.8" fill="#222"/>
<text x="186.50" y="188.60" font-size="9.5" text-anchor="start" font-weight="normal" fill="#1a1a1a" stroke="#1a1a1a" stroke-width="0.15" >D46</text>
<text x="214.10" y="188.60" font-size="9.4" text-anchor="start" font-weight="normal" fill="#1a1a1a" stroke="#1a1a1a" stroke-width="0.15" font-style="italic">R</text>
<text x="221.50" y="191.10" font-size="5.4" text-anchor="start" font-weight="normal" fill="#1a1a1a" stroke="#1a1a1a" stroke-width="0" >1ρ,0</text>
<text x="234.20" y="188.60" font-size="9.2" text-anchor="start" font-weight="normal" fill="#1a1a1a" stroke="#1a1a1a" stroke-width="0.15" >= 0.85 ± 0.07</text>
<rect x="40.5" y="254.5" width="109" height="46" fill="none" stroke="#2a2a2a" stroke-width="1.1"/>
<line x1="36.30" y1="300.50" x2="40.50" y2="300.50" stroke="#2a2a2a" stroke-width="1.1" />
<text x="35.20" y="303.80" font-size="9.1" text-anchor="end" font-weight="normal" fill="#1a1a1a" stroke="#1a1a1a" stroke-width="0.15" >0</text>
<line x1="36.30" y1="285.17" x2="40.50" y2="285.17" stroke="#2a2a2a" stroke-width="1.1" />
<text x="35.20" y="288.47" font-size="9.1" text-anchor="end" font-weight="normal" fill="#1a1a1a" stroke="#1a1a1a" stroke-width="0.15" >10</text>
<line x1="36.30" y1="269.83" x2="40.50" y2="269.83" stroke="#2a2a2a" stroke-width="1.1" />
<text x="35.20" y="273.13" font-size="9.1" text-anchor="end" font-weight="normal" fill="#1a1a1a" stroke="#1a1a1a" stroke-width="0.15" >20</text>
<line x1="36.30" y1="254.50" x2="40.50" y2="254.50" stroke="#2a2a2a" stroke-width="1.1" />
<text x="35.20" y="257.80" font-size="9.1" text-anchor="end" font-weight="normal" fill="#1a1a1a" stroke="#1a1a1a" stroke-width="0.15" >30</text>
<line x1="40.50" y1="300.50" x2="40.50" y2="304.70" stroke="#2a2a2a" stroke-width="1.1" />
<text x="40.50" y="313.20" font-size="9.1" text-anchor="middle" font-weight="normal" fill="#1a1a1a" stroke="#1a1a1a" stroke-width="0.15" >0</text>
<line x1="74.56" y1="300.50" x2="74.56" y2="304.70" stroke="#2a2a2a" stroke-width="1.1" />
<text x="74.56" y="313.20" font-size="9.1" text-anchor="middle" font-weight="normal" fill="#1a1a1a" stroke="#1a1a1a" stroke-width="0.15" >5</text>
<line x1="108.62" y1="300.50" x2="108.62" y2="304.70" stroke="#2a2a2a" stroke-width="1.1" />
<text x="108.62" y="313.20" font-size="9.1" text-anchor="middle" font-weight="normal" fill="#1a1a1a" stroke="#1a1a1a" stroke-width="0.15" >10</text>
<line x1="142.69" y1="300.50" x2="142.69" y2="304.70" stroke="#2a2a2a" stroke-width="1.1" />
<text x="142.69" y="313.20" font-size="9.1" text-anchor="middle" font-weight="normal" fill="#1a1a1a" stroke="#1a1a1a" stroke-width="0.15" >15</text>
<polyline points="44.59,287.77 45.46,288.44 46.34,289.06 47.21,289.64 48.08,290.17 48.96,290.67 49.83,291.12 50.71,291.55 51.58,291.94 52.46,292.31 53.33,292.65 54.20,292.96 55.08,293.25 55.95,293.53 56.83,293.78 57.70,294.01 58.58,294.22 59.45,294.42 60.32,294.61 61.20,294.78 62.07,294.94 62.95,295.09 63.82,295.23 64.70,295.35 65.57,295.47 66.44,295.58 67.32,295.68 68.19,295.77 69.07,295.86 69.94,295.94 70.82,296.02 71.69,296.09 72.56,296.15 73.44,296.21 74.31,296.27 75.19,296.32 76.06,296.37 76.94,296.41 77.81,296.45 78.68,296.49 79.56,296.52 80.43,296.56 81.31,296.59 82.18,296.62 83.06,296.64 83.93,296.67 84.80,296.69 85.68,296.71 86.55,296.73 87.43,296.75 88.30,296.76 89.18,296.78 90.05,296.79 90.92,296.80 91.80,296.82 92.67,296.83 93.55,296.84 94.42,296.85 95.30,296.86 96.17,296.87 97.04,296.87 97.92,296.88 98.79,296.89 99.67,296.89 100.54,296.90 101.42,296.91 102.29,296.91 103.16,296.91 104.04,296.92 104.91,296.92 105.79,296.93 106.66,296.93 107.53,296.93 108.41,296.94 109.28,296.94 110.16,296.94 111.03,296.94 111.91,296.95 112.78,296.95 113.65,296.95 114.53,296.95 115.40,296.95 116.28,296.95 117.15,296.96 118.03,296.96 118.90,296.96 119.77,296.96 120.65,296.96 121.52,296.96 122.40,296.96 123.27,296.96 124.15,296.96 125.02,296.96 125.89,296.97 126.77,296.97 127.64,296.97 128.52,296.97 129.39,296.97 130.27,296.97 131.14,296.97 132.01,296.97 132.89,296.97 133.76,296.97 134.64,296.97 135.51,296.97 136.39,296.97 137.26,296.97 138.13,296.97 139.01,296.97 139.88,296.97 140.76,296.97 141.63,296.97 142.51,296.97 143.38,296.97 144.25,296.97 145.13,296.97 146.00,296.97 146.88,296.97 147.75,296.97 148.63,296.97 149.50,296.97" fill="none" stroke="#e23f2b" stroke-width="2.1" stroke-linejoin="round" />
<rect x="45.05" y="290.40" width="1.8" height="1.8" fill="#222"/>
<rect x="47.77" y="291.93" width="1.8" height="1.8" fill="#222"/>
<rect x="50.50" y="292.70" width="1.8" height="1.8" fill="#222"/>
<rect x="54.59" y="293.47" width="1.8" height="1.8" fill="#222"/>
<rect x="58.68" y="289.63" width="1.8" height="1.8" fill="#222"/>
<rect x="63.44" y="295.00" width="1.8" height="1.8" fill="#222"/>
<rect x="82.52" y="295.77" width="1.8" height="1.8" fill="#222"/>
<rect x="104.32" y="296.53" width="1.8" height="1.8" fill="#222"/>
<rect x="124.76" y="295.77" width="1.8" height="1.8" fill="#222"/>
<rect x="147.24" y="295.31" width="1.8" height="1.8" fill="#222"/>
<text x="42.90" y="262.60" font-size="9.5" text-anchor="start" font-weight="normal" fill="#1a1a1a" stroke="#1a1a1a" stroke-width="0.15" >D46</text>
<text x="71.50" y="262.60" font-size="9.4" text-anchor="start" font-weight="normal" fill="#1a1a1a" stroke="#1a1a1a" stroke-width="0.15" >ϕ</text>
<text x="76.80" y="265.80" font-size="5.8" text-anchor="start" font-weight="normal" fill="#1a1a1a" stroke="#1a1a1a" stroke-width="0" >ex</text>
<text x="84.70" y="262.60" font-size="9.2" text-anchor="start" font-weight="normal" fill="#1a1a1a" stroke="#1a1a1a" stroke-width="0.15" >= 78.6 ± 8.6</text>
<text x="71.90" y="274.00" font-size="9.4" text-anchor="start" font-weight="normal" fill="#1a1a1a" stroke="#1a1a1a" stroke-width="0.15" font-style="italic">R</text>
<text x="79.10" y="276.30" font-size="5.2" text-anchor="start" font-weight="normal" fill="#1a1a1a" stroke="#1a1a1a" stroke-width="0" >1ρ,0</text>
<text x="91.50" y="274.00" font-size="9.2" text-anchor="start" font-weight="normal" fill="#1a1a1a" stroke="#1a1a1a" stroke-width="0.15" >= 1.99 ± 0.24</text>
<rect x="183.5" y="254.5" width="109" height="46" fill="none" stroke="#2a2a2a" stroke-width="1.1"/>
<line x1="179.30" y1="300.50" x2="183.50" y2="300.50" stroke="#2a2a2a" stroke-width="1.1" />
<text x="178.20" y="303.80" font-size="9.1" text-anchor="end" font-weight="normal" fill="#1a1a1a" stroke="#1a1a1a" stroke-width="0.15" >0</text>
<line x1="179.30" y1="285.17" x2="183.50" y2="285.17" stroke="#2a2a2a" stroke-width="1.1" />
<text x="178.20" y="288.47" font-size="9.1" text-anchor="end" font-weight="normal" fill="#1a1a1a" stroke="#1a1a1a" stroke-width="0.15" >10</text>
<line x1="179.30" y1="269.83" x2="183.50" y2="269.83" stroke="#2a2a2a" stroke-width="1.1" />
<text x="178.20" y="273.13" font-size="9.1" text-anchor="end" font-weight="normal" fill="#1a1a1a" stroke="#1a1a1a" stroke-width="0.15" >20</text>
<line x1="179.30" y1="254.50" x2="183.50" y2="254.50" stroke="#2a2a2a" stroke-width="1.1" />
<text x="178.20" y="257.80" font-size="9.1" text-anchor="end" font-weight="normal" fill="#1a1a1a" stroke="#1a1a1a" stroke-width="0.15" >30</text>
<line x1="183.50" y1="300.50" x2="183.50" y2="304.70" stroke="#2a2a2a" stroke-width="1.1" />
<text x="183.50" y="313.20" font-size="9.1" text-anchor="middle" font-weight="normal" fill="#1a1a1a" stroke="#1a1a1a" stroke-width="0.15" >0</text>
<line x1="217.56" y1="300.50" x2="217.56" y2="304.70" stroke="#2a2a2a" stroke-width="1.1" />
<text x="217.56" y="313.20" font-size="9.1" text-anchor="middle" font-weight="normal" fill="#1a1a1a" stroke="#1a1a1a" stroke-width="0.15" >5</text>
<line x1="251.62" y1="300.50" x2="251.62" y2="304.70" stroke="#2a2a2a" stroke-width="1.1" />
<text x="251.62" y="313.20" font-size="9.1" text-anchor="middle" font-weight="normal" fill="#1a1a1a" stroke="#1a1a1a" stroke-width="0.15" >10</text>
<line x1="285.69" y1="300.50" x2="285.69" y2="304.70" stroke="#2a2a2a" stroke-width="1.1" />
<text x="285.69" y="313.20" font-size="9.1" text-anchor="middle" font-weight="normal" fill="#1a1a1a" stroke="#1a1a1a" stroke-width="0.15" >15</text>
<polyline points="187.59,291.45 188.46,291.94 189.34,292.39 190.21,292.81 191.08,293.20 191.96,293.57 192.83,293.91 193.71,294.22 194.58,294.52 195.46,294.79 196.33,295.05 197.20,295.29 198.08,295.51 198.95,295.71 199.83,295.91 200.70,296.09 201.58,296.25 202.45,296.41 203.32,296.55 204.20,296.69 205.07,296.81 205.95,296.93 206.82,297.04 207.70,297.14 208.57,297.23 209.44,297.32 210.32,297.40 211.19,297.48 212.07,297.55 212.94,297.61 213.82,297.68 214.69,297.73 215.56,297.79 216.44,297.84 217.31,297.88 218.19,297.93 219.06,297.97 219.94,298.00 220.81,298.04 221.68,298.07 222.56,298.10 223.43,298.13 224.31,298.15 225.18,298.18 226.06,298.20 226.93,298.22 227.80,298.24 228.68,298.26 229.55,298.28 230.43,298.29 231.30,298.31 232.18,298.32 233.05,298.33 233.92,298.35 234.80,298.36 235.67,298.37 236.55,298.38 237.42,298.39 238.30,298.39 239.17,298.40 240.04,298.41 240.92,298.42 241.79,298.42 242.67,298.43 243.54,298.43 244.42,298.44 245.29,298.44 246.16,298.45 247.04,298.45 247.91,298.46 248.79,298.46 249.66,298.46 250.53,298.47 251.41,298.47 252.28,298.47 253.16,298.47 254.03,298.48 254.91,298.48 255.78,298.48 256.65,298.48 257.53,298.48 258.40,298.48 259.28,298.49 260.15,298.49 261.03,298.49 261.90,298.49 262.77,298.49 263.65,298.49 264.52,298.49 265.40,298.49 266.27,298.50 267.15,298.50 268.02,298.50 268.89,298.50 269.77,298.50 270.64,298.50 271.52,298.50 272.39,298.50 273.27,298.50 274.14,298.50 275.01,298.50 275.89,298.50 276.76,298.50 277.64,298.50 278.51,298.50 279.39,298.50 280.26,298.50 281.13,298.50 282.01,298.50 282.88,298.50 283.76,298.50 284.63,298.50 285.51,298.50 286.38,298.50 287.25,298.50 288.13,298.50 289.00,298.50 289.88,298.50 290.75,298.51 291.63,298.51 292.50,298.51" fill="none" stroke="#e23f2b" stroke-width="2.1" stroke-linejoin="round" />
<rect x="187.37" y="289.63" width="1.8" height="1.8" fill="#222"/>
<rect x="190.78" y="288.87" width="1.8" height="1.8" fill="#222"/>
<rect x="193.50" y="293.47" width="1.8" height="1.8" fill="#222"/>
<rect x="196.91" y="292.70" width="1.8" height="1.8" fill="#222"/>
<rect x="205.08" y="297.30" width="1.8" height="1.8" fill="#222"/>
<rect x="252.09" y="296.53" width="1.8" height="1.8" fill="#222"/>
<text x="186.50" y="262.60" font-size="9.5" text-anchor="start" font-weight="normal" fill="#1a1a1a" stroke="#1a1a1a" stroke-width="0.15" >D46</text>
<text x="214.10" y="262.60" font-size="9.4" text-anchor="start" font-weight="normal" fill="#1a1a1a" stroke="#1a1a1a" stroke-width="0.15" font-style="italic">R</text>
<text x="221.50" y="265.10" font-size="5.4" text-anchor="start" font-weight="normal" fill="#1a1a1a" stroke="#1a1a1a" stroke-width="0" >1ρ,0</text>
<text x="234.20" y="262.60" font-size="9.2" text-anchor="start" font-weight="normal" fill="#1a1a1a" stroke="#1a1a1a" stroke-width="0.15" >= 1.27 ± 0.21</text>
<rect x="40.5" y="327.5" width="109" height="46" fill="none" stroke="#2a2a2a" stroke-width="1.1"/>
<line x1="36.30" y1="373.50" x2="40.50" y2="373.50" stroke="#2a2a2a" stroke-width="1.1" />
<text x="35.20" y="376.80" font-size="9.1" text-anchor="end" font-weight="normal" fill="#1a1a1a" stroke="#1a1a1a" stroke-width="0.15" >0</text>
<line x1="36.30" y1="358.17" x2="40.50" y2="358.17" stroke="#2a2a2a" stroke-width="1.1" />
<text x="35.20" y="361.47" font-size="9.1" text-anchor="end" font-weight="normal" fill="#1a1a1a" stroke="#1a1a1a" stroke-width="0.15" >10</text>
<line x1="36.30" y1="342.83" x2="40.50" y2="342.83" stroke="#2a2a2a" stroke-width="1.1" />
<text x="35.20" y="346.13" font-size="9.1" text-anchor="end" font-weight="normal" fill="#1a1a1a" stroke="#1a1a1a" stroke-width="0.15" >20</text>
<line x1="36.30" y1="327.50" x2="40.50" y2="327.50" stroke="#2a2a2a" stroke-width="1.1" />
<text x="35.20" y="330.80" font-size="9.1" text-anchor="end" font-weight="normal" fill="#1a1a1a" stroke="#1a1a1a" stroke-width="0.15" >30</text>
<line x1="40.50" y1="373.50" x2="40.50" y2="377.70" stroke="#2a2a2a" stroke-width="1.1" />
<text x="40.50" y="386.20" font-size="9.1" text-anchor="middle" font-weight="normal" fill="#1a1a1a" stroke="#1a1a1a" stroke-width="0.15" >0</text>
<line x1="74.56" y1="373.50" x2="74.56" y2="377.70" stroke="#2a2a2a" stroke-width="1.1" />
<text x="74.56" y="386.20" font-size="9.1" text-anchor="middle" font-weight="normal" fill="#1a1a1a" stroke="#1a1a1a" stroke-width="0.15" >5</text>
<line x1="108.62" y1="373.50" x2="108.62" y2="377.70" stroke="#2a2a2a" stroke-width="1.1" />
<text x="108.62" y="386.20" font-size="9.1" text-anchor="middle" font-weight="normal" fill="#1a1a1a" stroke="#1a1a1a" stroke-width="0.15" >10</text>
<line x1="142.69" y1="373.50" x2="142.69" y2="377.70" stroke="#2a2a2a" stroke-width="1.1" />
<text x="142.69" y="386.20" font-size="9.1" text-anchor="middle" font-weight="normal" fill="#1a1a1a" stroke="#1a1a1a" stroke-width="0.15" >15</text>
<polyline points="44.59,358.63 45.46,359.53 46.34,360.37 47.21,361.16 48.08,361.89 48.96,362.58 49.83,363.22 50.71,363.83 51.58,364.39 52.46,364.91 53.33,365.40 54.20,365.86 55.08,366.29 55.95,366.69 56.83,367.07 57.70,367.42 58.58,367.74 59.45,368.05 60.32,368.34 61.20,368.60 62.07,368.85 62.95,369.09 63.82,369.30 64.70,369.51 65.57,369.70 66.44,369.88 67.32,370.04 68.19,370.20 69.07,370.34 69.94,370.48 70.82,370.61 71.69,370.73 72.56,370.84 73.44,370.94 74.31,371.04 75.19,371.13 76.06,371.21 76.94,371.29 77.81,371.37 78.68,371.44 79.56,371.50 80.43,371.56 81.31,371.62 82.18,371.67 83.06,371.72 83.93,371.77 84.80,371.81 85.68,371.85 86.55,371.89 87.43,371.92 88.30,371.96 89.18,371.99 90.05,372.02 90.92,372.04 91.80,372.07 92.67,372.09 93.55,372.11 94.42,372.13 95.30,372.15 96.17,372.17 97.04,372.19 97.92,372.20 98.79,372.22 99.67,372.23 100.54,372.24 101.42,372.26 102.29,372.27 103.16,372.28 104.04,372.29 104.91,372.30 105.79,372.30 106.66,372.31 107.53,372.32 108.41,372.33 109.28,372.33 110.16,372.34 111.03,372.35 111.91,372.35 112.78,372.36 113.65,372.36 114.53,372.36 115.40,372.37 116.28,372.37 117.15,372.38 118.03,372.38 118.90,372.38 119.77,372.39 120.65,372.39 121.52,372.39 122.40,372.39 123.27,372.40 124.15,372.40 125.02,372.40 125.89,372.40 126.77,372.40 127.64,372.40 128.52,372.41 129.39,372.41 130.27,372.41 131.14,372.41 132.01,372.41 132.89,372.41 133.76,372.41 134.64,372.41 135.51,372.41 136.39,372.42 137.26,372.42 138.13,372.42 139.01,372.42 139.88,372.42 140.76,372.42 141.63,372.42 142.51,372.42 143.38,372.42 144.25,372.42 145.13,372.42 146.00,372.42 146.88,372.42 147.75,372.42 148.63,372.42 149.50,372.42" fill="none" stroke="#17a0d5" stroke-width="2.1" stroke-linejoin="round" />
<rect x="47.09" y="364.93" width="1.8" height="1.8" fill="#222"/>
<rect x="49.82" y="366.47" width="1.8" height="1.8" fill="#222"/>
<rect x="53.23" y="368.00" width="1.8" height="1.8" fill="#222"/>
<rect x="57.31" y="367.23" width="1.8" height="1.8" fill="#222"/>
<rect x="61.40" y="369.53" width="1.8" height="1.8" fill="#222"/>
<rect x="70.26" y="370.76" width="1.8" height="1.8" fill="#222"/>
<rect x="82.52" y="371.07" width="1.8" height="1.8" fill="#222"/>
<rect x="124.76" y="370.30" width="1.8" height="1.8" fill="#222"/>
<text x="42.90" y="335.60" font-size="9.5" text-anchor="start" font-weight="normal" fill="#1a1a1a" stroke="#1a1a1a" stroke-width="0.15" >T49</text>
<text x="71.50" y="335.60" font-size="9.4" text-anchor="start" font-weight="normal" fill="#1a1a1a" stroke="#1a1a1a" stroke-width="0.15" >ϕ</text>
<text x="76.80" y="338.80" font-size="5.8" text-anchor="start" font-weight="normal" fill="#1a1a1a" stroke="#1a1a1a" stroke-width="0" >ex</text>
<text x="84.70" y="335.60" font-size="9.2" text-anchor="start" font-weight="normal" fill="#1a1a1a" stroke="#1a1a1a" stroke-width="0.15" >= 112.6 ± 10.8</text>
<text x="71.90" y="347.00" font-size="9.4" text-anchor="start" font-weight="normal" fill="#1a1a1a" stroke="#1a1a1a" stroke-width="0.15" font-style="italic">R</text>
<text x="79.10" y="349.30" font-size="5.2" text-anchor="start" font-weight="normal" fill="#1a1a1a" stroke="#1a1a1a" stroke-width="0" >1ρ,0</text>
<text x="91.50" y="347.00" font-size="9.2" text-anchor="start" font-weight="normal" fill="#1a1a1a" stroke="#1a1a1a" stroke-width="0.15" >= 0.37 ± 0.18</text>
<rect x="183.5" y="327.5" width="109" height="46" fill="none" stroke="#2a2a2a" stroke-width="1.1"/>
<line x1="179.30" y1="373.50" x2="183.50" y2="373.50" stroke="#2a2a2a" stroke-width="1.1" />
<text x="178.20" y="376.80" font-size="9.1" text-anchor="end" font-weight="normal" fill="#1a1a1a" stroke="#1a1a1a" stroke-width="0.15" >0</text>
<line x1="179.30" y1="358.17" x2="183.50" y2="358.17" stroke="#2a2a2a" stroke-width="1.1" />
<text x="178.20" y="361.47" font-size="9.1" text-anchor="end" font-weight="normal" fill="#1a1a1a" stroke="#1a1a1a" stroke-width="0.15" >10</text>
<line x1="179.30" y1="342.83" x2="183.50" y2="342.83" stroke="#2a2a2a" stroke-width="1.1" />
<text x="178.20" y="346.13" font-size="9.1" text-anchor="end" font-weight="normal" fill="#1a1a1a" stroke="#1a1a1a" stroke-width="0.15" >20</text>
<line x1="179.30" y1="327.50" x2="183.50" y2="327.50" stroke="#2a2a2a" stroke-width="1.1" />
<text x="178.20" y="330.80" font-size="9.1" text-anchor="end" font-weight="normal" fill="#1a1a1a" stroke="#1a1a1a" stroke-width="0.15" >30</text>
<line x1="183.50" y1="373.50" x2="183.50" y2="377.70" stroke="#2a2a2a" stroke-width="1.1" />
<text x="183.50" y="386.20" font-size="9.1" text-anchor="middle" font-weight="normal" fill="#1a1a1a" stroke="#1a1a1a" stroke-width="0.15" >0</text>
<line x1="217.56" y1="373.50" x2="217.56" y2="377.70" stroke="#2a2a2a" stroke-width="1.1" />
<text x="217.56" y="386.20" font-size="9.1" text-anchor="middle" font-weight="normal" fill="#1a1a1a" stroke="#1a1a1a" stroke-width="0.15" >5</text>
<line x1="251.62" y1="373.50" x2="251.62" y2="377.70" stroke="#2a2a2a" stroke-width="1.1" />
<text x="251.62" y="386.20" font-size="9.1" text-anchor="middle" font-weight="normal" fill="#1a1a1a" stroke="#1a1a1a" stroke-width="0.15" >10</text>
<line x1="285.69" y1="373.50" x2="285.69" y2="377.70" stroke="#2a2a2a" stroke-width="1.1" />
<text x="285.69" y="386.20" font-size="9.1" text-anchor="middle" font-weight="normal" fill="#1a1a1a" stroke="#1a1a1a" stroke-width="0.15" >15</text>
<polyline points="187.59,360.31 188.46,361.23 189.34,362.06 190.21,362.82 191.08,363.51 191.96,364.15 192.83,364.72 193.71,365.25 194.58,365.73 195.46,366.17 196.33,366.57 197.20,366.94 198.08,367.27 198.95,367.57 199.83,367.85 200.70,368.10 201.58,368.33 202.45,368.55 203.32,368.74 204.20,368.91 205.07,369.07 205.95,369.22 206.82,369.35 207.70,369.47 208.57,369.58 209.44,369.69 210.32,369.78 211.19,369.86 212.07,369.94 212.94,370.01 213.82,370.07 214.69,370.13 215.56,370.19 216.44,370.23 217.31,370.28 218.19,370.32 219.06,370.36 219.94,370.39 220.81,370.42 221.68,370.45 222.56,370.47 223.43,370.50 224.31,370.52 225.18,370.54 226.06,370.56 226.93,370.57 227.80,370.59 228.68,370.60 229.55,370.61 230.43,370.62 231.30,370.63 232.18,370.64 233.05,370.65 233.92,370.66 234.80,370.67 235.67,370.67 236.55,370.68 237.42,370.68 238.30,370.69 239.17,370.69 240.04,370.70 240.92,370.70 241.79,370.70 242.67,370.71 243.54,370.71 244.42,370.71 245.29,370.72 246.16,370.72 247.04,370.72 247.91,370.72 248.79,370.72 249.66,370.72 250.53,370.73 251.41,370.73 252.28,370.73 253.16,370.73 254.03,370.73 254.91,370.73 255.78,370.73 256.65,370.73 257.53,370.73 258.40,370.73 259.28,370.73 260.15,370.73 261.03,370.74 261.90,370.74 262.77,370.74 263.65,370.74 264.52,370.74 265.40,370.74 266.27,370.74 267.15,370.74 268.02,370.74 268.89,370.74 269.77,370.74 270.64,370.74 271.52,370.74 272.39,370.74 273.27,370.74 274.14,370.74 275.01,370.74 275.89,370.74 276.76,370.74 277.64,370.74 278.51,370.74 279.39,370.74 280.26,370.74 281.13,370.74 282.01,370.74 282.88,370.74 283.76,370.74 284.63,370.74 285.51,370.74 286.38,370.74 287.25,370.74 288.13,370.74 289.00,370.74 289.88,370.74 290.75,370.74 291.63,370.74 292.50,370.74" fill="none" stroke="#17a0d5" stroke-width="2.1" stroke-linejoin="round" />
<line x1="191.61" y1="345.59" x2="191.61" y2="354.18" stroke="#111" stroke-width="0.9" />
<line x1="190.61" y1="345.59" x2="192.61" y2="345.59" stroke="#111" stroke-width="0.9" />
<line x1="190.61" y1="354.18" x2="192.61" y2="354.18" stroke="#111" stroke-width="0.9" />
<rect x="190.71" y="348.99" width="1.8" height="1.8" fill="#222"/>
<rect x="192.95" y="360.33" width="1.8" height="1.8" fill="#222"/>
<rect x="195.54" y="362.17" width="1.8" height="1.8" fill="#222"/>
<rect x="199.63" y="365.39" width="1.8" height="1.8" fill="#222"/>
<line x1="208.71" y1="363.84" x2="208.71" y2="366.91" stroke="#111" stroke-width="0.9" />
<line x1="207.71" y1="363.84" x2="209.71" y2="363.84" stroke="#111" stroke-width="0.9" />
<line x1="207.71" y1="366.91" x2="209.71" y2="366.91" stroke="#111" stroke-width="0.9" />
<rect x="207.81" y="364.47" width="1.8" height="1.8" fill="#222"/>
<text x="186.50" y="335.60" font-size="9.5" text-anchor="start" font-weight="normal" fill="#1a1a1a" stroke="#1a1a1a" stroke-width="0.15" >T49</text>
<text x="214.10" y="335.60" font-size="9.4" text-anchor="start" font-weight="normal" fill="#1a1a1a" stroke="#1a1a1a" stroke-width="0.15" font-style="italic">R</text>
<text x="221.50" y="338.10" font-size="5.4" text-anchor="start" font-weight="normal" fill="#1a1a1a" stroke="#1a1a1a" stroke-width="0" >1ρ,0</text>
<text x="234.20" y="335.60" font-size="9.2" text-anchor="start" font-weight="normal" fill="#1a1a1a" stroke="#1a1a1a" stroke-width="0.15" >= 1.49 ± 0.20</text>
<rect x="40.5" y="400.5" width="109" height="46" fill="none" stroke="#2a2a2a" stroke-width="1.1"/>
<line x1="36.30" y1="446.50" x2="40.50" y2="446.50" stroke="#2a2a2a" stroke-width="1.1" />
<text x="35.20" y="449.80" font-size="9.1" text-anchor="end" font-weight="normal" fill="#1a1a1a" stroke="#1a1a1a" stroke-width="0.15" >0</text>
<line x1="36.30" y1="431.17" x2="40.50" y2="431.17" stroke="#2a2a2a" stroke-width="1.1" />
<text x="35.20" y="434.47" font-size="9.1" text-anchor="end" font-weight="normal" fill="#1a1a1a" stroke="#1a1a1a" stroke-width="0.15" >10</text>
<line x1="36.30" y1="415.83" x2="40.50" y2="415.83" stroke="#2a2a2a" stroke-width="1.1" />
<text x="35.20" y="419.13" font-size="9.1" text-anchor="end" font-weight="normal" fill="#1a1a1a" stroke="#1a1a1a" stroke-width="0.15" >20</text>
<line x1="36.30" y1="400.50" x2="40.50" y2="400.50" stroke="#2a2a2a" stroke-width="1.1" />
<text x="35.20" y="403.80" font-size="9.1" text-anchor="end" font-weight="normal" fill="#1a1a1a" stroke="#1a1a1a" stroke-width="0.15" >30</text>
<line x1="40.50" y1="446.50" x2="40.50" y2="450.70" stroke="#2a2a2a" stroke-width="1.1" />
<text x="40.50" y="459.20" font-size="9.1" text-anchor="middle" font-weight="normal" fill="#1a1a1a" stroke="#1a1a1a" stroke-width="0.15" >0</text>
<line x1="74.56" y1="446.50" x2="74.56" y2="450.70" stroke="#2a2a2a" stroke-width="1.1" />
<text x="74.56" y="459.20" font-size="9.1" text-anchor="middle" font-weight="normal" fill="#1a1a1a" stroke="#1a1a1a" stroke-width="0.15" >5</text>
<line x1="108.62" y1="446.50" x2="108.62" y2="450.70" stroke="#2a2a2a" stroke-width="1.1" />
<text x="108.62" y="459.20" font-size="9.1" text-anchor="middle" font-weight="normal" fill="#1a1a1a" stroke="#1a1a1a" stroke-width="0.15" >10</text>
<line x1="142.69" y1="446.50" x2="142.69" y2="450.70" stroke="#2a2a2a" stroke-width="1.1" />
<text x="142.69" y="459.20" font-size="9.1" text-anchor="middle" font-weight="normal" fill="#1a1a1a" stroke="#1a1a1a" stroke-width="0.15" >15</text>
<polyline points="44.59,423.96 45.46,424.87 46.34,425.72 47.21,426.52 48.08,427.26 48.96,427.96 49.83,428.61 50.71,429.22 51.58,429.78 52.46,430.32 53.33,430.81 54.20,431.28 55.08,431.71 55.95,432.11 56.83,432.49 57.70,432.85 58.58,433.18 59.45,433.49 60.32,433.78 61.20,434.05 62.07,434.30 62.95,434.54 63.82,434.76 64.70,434.96 65.57,435.15 66.44,435.34 67.32,435.50 68.19,435.66 69.07,435.81 69.94,435.95 70.82,436.07 71.69,436.19 72.56,436.31 73.44,436.41 74.31,436.51 75.19,436.60 76.06,436.69 76.94,436.77 77.81,436.84 78.68,436.91 79.56,436.98 80.43,437.04 81.31,437.10 82.18,437.15 83.06,437.20 83.93,437.25 84.80,437.29 85.68,437.33 86.55,437.37 87.43,437.40 88.30,437.44 89.18,437.47 90.05,437.50 90.92,437.52 91.80,437.55 92.67,437.57 93.55,437.60 94.42,437.62 95.30,437.64 96.17,437.65 97.04,437.67 97.92,437.69 98.79,437.70 99.67,437.72 100.54,437.73 101.42,437.74 102.29,437.75 103.16,437.76 104.04,437.77 104.91,437.78 105.79,437.79 106.66,437.80 107.53,437.81 108.41,437.81 109.28,437.82 110.16,437.83 111.03,437.83 111.91,437.84 112.78,437.84 113.65,437.85 114.53,437.85 115.40,437.85 116.28,437.86 117.15,437.86 118.03,437.87 118.90,437.87 119.77,437.87 120.65,437.87 121.52,437.88 122.40,437.88 123.27,437.88 124.15,437.88 125.02,437.89 125.89,437.89 126.77,437.89 127.64,437.89 128.52,437.89 129.39,437.89 130.27,437.89 131.14,437.90 132.01,437.90 132.89,437.90 133.76,437.90 134.64,437.90 135.51,437.90 136.39,437.90 137.26,437.90 138.13,437.90 139.01,437.90 139.88,437.90 140.76,437.91 141.63,437.91 142.51,437.91 143.38,437.91 144.25,437.91 145.13,437.91 146.00,437.91 146.88,437.91 147.75,437.91 148.63,437.91 149.50,437.91" fill="none" stroke="#e23f2b" stroke-width="2.1" stroke-linejoin="round" />
<line x1="49.36" y1="428.87" x2="49.36" y2="433.47" stroke="#111" stroke-width="0.9" />
<line x1="48.36" y1="428.87" x2="50.36" y2="428.87" stroke="#111" stroke-width="0.9" />
<line x1="48.36" y1="433.47" x2="50.36" y2="433.47" stroke="#111" stroke-width="0.9" />
<rect x="48.46" y="430.27" width="1.8" height="1.8" fill="#222"/>
<line x1="52.08" y1="430.40" x2="52.08" y2="435.00" stroke="#111" stroke-width="0.9" />
<line x1="51.08" y1="430.40" x2="53.08" y2="430.40" stroke="#111" stroke-width="0.9" />
<line x1="51.08" y1="435.00" x2="53.08" y2="435.00" stroke="#111" stroke-width="0.9" />
<rect x="51.18" y="431.80" width="1.8" height="1.8" fill="#222"/>
<line x1="55.49" y1="428.87" x2="55.49" y2="433.47" stroke="#111" stroke-width="0.9" />
<line x1="54.49" y1="428.87" x2="56.49" y2="428.87" stroke="#111" stroke-width="0.9" />
<line x1="54.49" y1="433.47" x2="56.49" y2="433.47" stroke="#111" stroke-width="0.9" />
<rect x="54.59" y="430.27" width="1.8" height="1.8" fill="#222"/>
<line x1="58.21" y1="428.87" x2="58.21" y2="433.47" stroke="#111" stroke-width="0.9" />
<line x1="57.21" y1="428.87" x2="59.21" y2="428.87" stroke="#111" stroke-width="0.9" />
<line x1="57.21" y1="433.47" x2="59.21" y2="433.47" stroke="#111" stroke-width="0.9" />
<rect x="57.31" y="430.27" width="1.8" height="1.8" fill="#222"/>
<rect x="61.40" y="434.87" width="1.8" height="1.8" fill="#222"/>
<rect x="65.49" y="437.93" width="1.8" height="1.8" fill="#222"/>
<rect x="72.30" y="434.87" width="1.8" height="1.8" fill="#222"/>
<rect x="82.52" y="436.40" width="1.8" height="1.8" fill="#222"/>
<rect x="94.10" y="437.93" width="1.8" height="1.8" fill="#222"/>
<rect x="104.32" y="436.40" width="1.8" height="1.8" fill="#222"/>
<rect x="114.54" y="437.93" width="1.8" height="1.8" fill="#222"/>
<rect x="124.76" y="437.93" width="1.8" height="1.8" fill="#222"/>
<rect x="147.24" y="436.71" width="1.8" height="1.8" fill="#222"/>
<text x="42.90" y="408.60" font-size="9.5" text-anchor="start" font-weight="normal" fill="#1a1a1a" stroke="#1a1a1a" stroke-width="0.15" >T49</text>
<text x="71.50" y="408.60" font-size="9.4" text-anchor="start" font-weight="normal" fill="#1a1a1a" stroke="#1a1a1a" stroke-width="0.15" >ϕ</text>
<text x="76.80" y="411.80" font-size="5.8" text-anchor="start" font-weight="normal" fill="#1a1a1a" stroke="#1a1a1a" stroke-width="0" >ex</text>
<text x="84.70" y="408.60" font-size="9.2" text-anchor="start" font-weight="normal" fill="#1a1a1a" stroke="#1a1a1a" stroke-width="0.15" >= 124.6 ± 25.8</text>
<text x="71.90" y="420.00" font-size="9.4" text-anchor="start" font-weight="normal" fill="#1a1a1a" stroke="#1a1a1a" stroke-width="0.15" font-style="italic">R</text>
<text x="79.10" y="422.30" font-size="5.2" text-anchor="start" font-weight="normal" fill="#1a1a1a" stroke="#1a1a1a" stroke-width="0" >1ρ,0</text>
<text x="91.50" y="420.00" font-size="9.2" text-anchor="start" font-weight="normal" fill="#1a1a1a" stroke="#1a1a1a" stroke-width="0.15" >= 5.06 ± 0.50</text>
<rect x="183.5" y="400.5" width="109" height="46" fill="none" stroke="#2a2a2a" stroke-width="1.1"/>
<line x1="179.30" y1="446.50" x2="183.50" y2="446.50" stroke="#2a2a2a" stroke-width="1.1" />
<text x="178.20" y="449.80" font-size="9.1" text-anchor="end" font-weight="normal" fill="#1a1a1a" stroke="#1a1a1a" stroke-width="0.15" >0</text>
<line x1="179.30" y1="431.17" x2="183.50" y2="431.17" stroke="#2a2a2a" stroke-width="1.1" />
<text x="178.20" y="434.47" font-size="9.1" text-anchor="end" font-weight="normal" fill="#1a1a1a" stroke="#1a1a1a" stroke-width="0.15" >10</text>
<line x1="179.30" y1="415.83" x2="183.50" y2="415.83" stroke="#2a2a2a" stroke-width="1.1" />
<text x="178.20" y="419.13" font-size="9.1" text-anchor="end" font-weight="normal" fill="#1a1a1a" stroke="#1a1a1a" stroke-width="0.15" >20</text>
<line x1="179.30" y1="400.50" x2="183.50" y2="400.50" stroke="#2a2a2a" stroke-width="1.1" />
<text x="178.20" y="403.80" font-size="9.1" text-anchor="end" font-weight="normal" fill="#1a1a1a" stroke="#1a1a1a" stroke-width="0.15" >30</text>
<line x1="183.50" y1="446.50" x2="183.50" y2="450.70" stroke="#2a2a2a" stroke-width="1.1" />
<text x="183.50" y="459.20" font-size="9.1" text-anchor="middle" font-weight="normal" fill="#1a1a1a" stroke="#1a1a1a" stroke-width="0.15" >0</text>
<line x1="217.56" y1="446.50" x2="217.56" y2="450.70" stroke="#2a2a2a" stroke-width="1.1" />
<text x="217.56" y="459.20" font-size="9.1" text-anchor="middle" font-weight="normal" fill="#1a1a1a" stroke="#1a1a1a" stroke-width="0.15" >5</text>
<line x1="251.62" y1="446.50" x2="251.62" y2="450.70" stroke="#2a2a2a" stroke-width="1.1" />
<text x="251.62" y="459.20" font-size="9.1" text-anchor="middle" font-weight="normal" fill="#1a1a1a" stroke="#1a1a1a" stroke-width="0.15" >10</text>
<line x1="285.69" y1="446.50" x2="285.69" y2="450.70" stroke="#2a2a2a" stroke-width="1.1" />
<text x="285.69" y="459.20" font-size="9.1" text-anchor="middle" font-weight="normal" fill="#1a1a1a" stroke="#1a1a1a" stroke-width="0.15" >15</text>
<polyline points="187.59,430.09 188.46,430.97 189.34,431.77 190.21,432.50 191.08,433.16 191.96,433.77 192.83,434.33 193.71,434.84 194.58,435.30 195.46,435.73 196.33,436.11 197.20,436.47 198.08,436.79 198.95,437.09 199.83,437.36 200.70,437.60 201.58,437.83 202.45,438.04 203.32,438.22 204.20,438.40 205.07,438.55 205.95,438.70 206.82,438.83 207.70,438.95 208.57,439.06 209.44,439.16 210.32,439.25 211.19,439.33 212.07,439.41 212.94,439.48 213.82,439.54 214.69,439.60 215.56,439.65 216.44,439.70 217.31,439.74 218.19,439.79 219.06,439.82 219.94,439.86 220.81,439.89 221.68,439.92 222.56,439.94 223.43,439.96 224.31,439.99 225.18,440.01 226.06,440.02 226.93,440.04 227.80,440.05 228.68,440.07 229.55,440.08 230.43,440.09 231.30,440.10 232.18,440.11 233.05,440.12 233.92,440.13 234.80,440.14 235.67,440.14 236.55,440.15 237.42,440.15 238.30,440.16 239.17,440.16 240.04,440.17 240.92,440.17 241.79,440.18 242.67,440.18 243.54,440.18 244.42,440.18 245.29,440.19 246.16,440.19 247.04,440.19 247.91,440.19 248.79,440.20 249.66,440.20 250.53,440.20 251.41,440.20 252.28,440.20 253.16,440.20 254.03,440.20 254.91,440.20 255.78,440.20 256.65,440.21 257.53,440.21 258.40,440.21 259.28,440.21 260.15,440.21 261.03,440.21 261.90,440.21 262.77,440.21 263.65,440.21 264.52,440.21 265.40,440.21 266.27,440.21 267.15,440.21 268.02,440.21 268.89,440.21 269.77,440.21 270.64,440.21 271.52,440.21 272.39,440.21 273.27,440.21 274.14,440.21 275.01,440.21 275.89,440.21 276.76,440.21 277.64,440.21 278.51,440.21 279.39,440.21 280.26,440.21 281.13,440.21 282.01,440.21 282.88,440.21 283.76,440.21 284.63,440.21 285.51,440.21 286.38,440.21 287.25,440.21 288.13,440.21 289.00,440.21 289.88,440.21 290.75,440.21 291.63,440.21 292.50,440.21" fill="none" stroke="#e23f2b" stroke-width="2.1" stroke-linejoin="round" />
<line x1="192.36" y1="418.13" x2="192.36" y2="427.33" stroke="#111" stroke-width="0.9" />
<line x1="191.36" y1="418.13" x2="193.36" y2="418.13" stroke="#111" stroke-width="0.9" />
<line x1="191.36" y1="427.33" x2="193.36" y2="427.33" stroke="#111" stroke-width="0.9" />
<rect x="191.46" y="421.83" width="1.8" height="1.8" fill="#222"/>
<line x1="192.70" y1="423.50" x2="192.70" y2="429.63" stroke="#111" stroke-width="0.9" />
<line x1="191.70" y1="423.50" x2="193.70" y2="423.50" stroke="#111" stroke-width="0.9" />
<line x1="191.70" y1="429.63" x2="193.70" y2="429.63" stroke="#111" stroke-width="0.9" />
<rect x="191.80" y="425.67" width="1.8" height="1.8" fill="#222"/>
<line x1="194.40" y1="436.84" x2="194.40" y2="439.91" stroke="#111" stroke-width="0.9" />
<line x1="193.40" y1="436.84" x2="195.40" y2="436.84" stroke="#111" stroke-width="0.9" />
<line x1="193.40" y1="439.91" x2="195.40" y2="439.91" stroke="#111" stroke-width="0.9" />
<rect x="193.50" y="437.47" width="1.8" height="1.8" fill="#222"/>
<line x1="196.92" y1="436.07" x2="196.92" y2="439.14" stroke="#111" stroke-width="0.9" />
<line x1="195.92" y1="436.07" x2="197.92" y2="436.07" stroke="#111" stroke-width="0.9" />
<line x1="195.92" y1="439.14" x2="197.92" y2="439.14" stroke="#111" stroke-width="0.9" />
<rect x="196.02" y="436.71" width="1.8" height="1.8" fill="#222"/>
<rect x="200.31" y="436.71" width="1.8" height="1.8" fill="#222"/>
<rect x="204.60" y="437.78" width="1.8" height="1.8" fill="#222"/>
<rect x="212.57" y="437.78" width="1.8" height="1.8" fill="#222"/>
<rect x="226.20" y="438.09" width="1.8" height="1.8" fill="#222"/>
<rect x="252.09" y="438.55" width="1.8" height="1.8" fill="#222"/>
<text x="186.50" y="408.60" font-size="9.5" text-anchor="start" font-weight="normal" fill="#1a1a1a" stroke="#1a1a1a" stroke-width="0.15" >T49</text>
<text x="214.10" y="408.60" font-size="9.4" text-anchor="start" font-weight="normal" fill="#1a1a1a" stroke="#1a1a1a" stroke-width="0.15" font-style="italic">R</text>
<text x="221.50" y="411.10" font-size="5.4" text-anchor="start" font-weight="normal" fill="#1a1a1a" stroke="#1a1a1a" stroke-width="0" >1ρ,0</text>
<text x="234.20" y="408.60" font-size="9.2" text-anchor="start" font-weight="normal" fill="#1a1a1a" stroke="#1a1a1a" stroke-width="0.15" >= 3.60 ± 0.58</text>
<text transform="translate(13.2,245) rotate(-90)" font-size="12.4" text-anchor="middle" fill="#1a1a1a" stroke="#1a1a1a" stroke-width="0.15"><tspan font-size="7.2" dy="-4.6">15</tspan><tspan dy="4.6">N </tspan><tspan font-style="italic" font-size="11.6">R</tspan><tspan font-size="7.2" dy="3" dx="0.6">1ρ</tspan><tspan dy="-3" dx="0.4"> / s</tspan><tspan font-size="7.2" dy="-4.6">-1</tspan></text>
<text x="167.80" y="477.60" font-size="11.6" text-anchor="middle" font-weight="normal" fill="#1a1a1a" stroke="#1a1a1a" stroke-width="0.15" letter-spacing="0.15">ω<tspan font-size="7.5" dy="3">rf</tspan><tspan dy="-3"> / ×10</tspan><tspan font-size="7.5" dy="-4.5">4</tspan><tspan dy="4.5"> rad s</tspan><tspan font-size="7.5" dy="-4.5">-1</tspan></text>
<text x="324.60" y="8.70" font-size="12.8" text-anchor="start" font-weight="bold" fill="#111" stroke="#111" stroke-width="0.1" >(b)</text>
<rect x="347.5" y="14.5" width="140.00" height="110.00" fill="none" stroke="#2a2a2a" stroke-width="1.1"/>
<line x1="347.50" y1="113.50" x2="349.50" y2="113.50" stroke="#2a2a2a" stroke-width="0.9" />
<line x1="485.50" y1="113.50" x2="487.50" y2="113.50" stroke="#2a2a2a" stroke-width="0.9" />
<line x1="347.50" y1="102.50" x2="349.50" y2="102.50" stroke="#2a2a2a" stroke-width="0.9" />
<line x1="485.50" y1="102.50" x2="487.50" y2="102.50" stroke="#2a2a2a" stroke-width="0.9" />
<line x1="347.50" y1="91.50" x2="349.50" y2="91.50" stroke="#2a2a2a" stroke-width="0.9" />
<line x1="485.50" y1="91.50" x2="487.50" y2="91.50" stroke="#2a2a2a" stroke-width="0.9" />
<line x1="347.50" y1="80.50" x2="349.50" y2="80.50" stroke="#2a2a2a" stroke-width="0.9" />
<line x1="485.50" y1="80.50" x2="487.50" y2="80.50" stroke="#2a2a2a" stroke-width="0.9" />
<line x1="347.50" y1="69.50" x2="349.50" y2="69.50" stroke="#2a2a2a" stroke-width="0.9" />
<line x1="485.50" y1="69.50" x2="487.50" y2="69.50" stroke="#2a2a2a" stroke-width="0.9" />
<line x1="347.50" y1="58.50" x2="349.50" y2="58.50" stroke="#2a2a2a" stroke-width="0.9" />
<line x1="485.50" y1="58.50" x2="487.50" y2="58.50" stroke="#2a2a2a" stroke-width="0.9" />
<line x1="347.50" y1="47.50" x2="349.50" y2="47.50" stroke="#2a2a2a" stroke-width="0.9" />
<line x1="485.50" y1="47.50" x2="487.50" y2="47.50" stroke="#2a2a2a" stroke-width="0.9" />
<line x1="347.50" y1="36.50" x2="349.50" y2="36.50" stroke="#2a2a2a" stroke-width="0.9" />
<line x1="485.50" y1="36.50" x2="487.50" y2="36.50" stroke="#2a2a2a" stroke-width="0.9" />
<line x1="347.50" y1="25.50" x2="349.50" y2="25.50" stroke="#2a2a2a" stroke-width="0.9" />
<line x1="485.50" y1="25.50" x2="487.50" y2="25.50" stroke="#2a2a2a" stroke-width="0.9" />
<text x="343.90" y="127.70" font-size="9.1" text-anchor="end" font-weight="normal" fill="#1a1a1a" stroke="#1a1a1a" stroke-width="0.15" >0</text>
<text x="343.90" y="105.70" font-size="9.1" text-anchor="end" font-weight="normal" fill="#1a1a1a" stroke="#1a1a1a" stroke-width="0.15" >0.2</text>
<text x="343.90" y="83.70" font-size="9.1" text-anchor="end" font-weight="normal" fill="#1a1a1a" stroke="#1a1a1a" stroke-width="0.15" >0.4</text>
<text x="343.90" y="61.70" font-size="9.1" text-anchor="end" font-weight="normal" fill="#1a1a1a" stroke="#1a1a1a" stroke-width="0.15" >0.6</text>
<text x="343.90" y="39.70" font-size="9.1" text-anchor="end" font-weight="normal" fill="#1a1a1a" stroke="#1a1a1a" stroke-width="0.15" >0.8</text>
<line x1="358.04" y1="124.50" x2="358.04" y2="123.10" stroke="#2a2a2a" stroke-width="0.9" />
<line x1="358.04" y1="14.50" x2="358.04" y2="15.90" stroke="#2a2a2a" stroke-width="0.9" />
<line x1="364.20" y1="124.50" x2="364.20" y2="123.10" stroke="#2a2a2a" stroke-width="0.9" />
<line x1="364.20" y1="14.50" x2="364.20" y2="15.90" stroke="#2a2a2a" stroke-width="0.9" />
<line x1="368.57" y1="124.50" x2="368.57" y2="123.10" stroke="#2a2a2a" stroke-width="0.9" />
<line x1="368.57" y1="14.50" x2="368.57" y2="15.90" stroke="#2a2a2a" stroke-width="0.9" />
<line x1="371.96" y1="124.50" x2="371.96" y2="123.10" stroke="#2a2a2a" stroke-width="0.9" />
<line x1="371.96" y1="14.50" x2="371.96" y2="15.90" stroke="#2a2a2a" stroke-width="0.9" />
<line x1="374.74" y1="124.50" x2="374.74" y2="123.10" stroke="#2a2a2a" stroke-width="0.9" />
<line x1="374.74" y1="14.50" x2="374.74" y2="15.90" stroke="#2a2a2a" stroke-width="0.9" />
<line x1="377.08" y1="124.50" x2="377.08" y2="123.10" stroke="#2a2a2a" stroke-width="0.9" />
<line x1="377.08" y1="14.50" x2="377.08" y2="15.90" stroke="#2a2a2a" stroke-width="0.9" />
<line x1="379.11" y1="124.50" x2="379.11" y2="123.10" stroke="#2a2a2a" stroke-width="0.9" />
<line x1="379.11" y1="14.50" x2="379.11" y2="15.90" stroke="#2a2a2a" stroke-width="0.9" />
<line x1="380.90" y1="124.50" x2="380.90" y2="123.10" stroke="#2a2a2a" stroke-width="0.9" />
<line x1="380.90" y1="14.50" x2="380.90" y2="15.90" stroke="#2a2a2a" stroke-width="0.9" />
<line x1="382.50" y1="124.50" x2="382.50" y2="122.30" stroke="#2a2a2a" stroke-width="0.9" />
<line x1="382.50" y1="14.50" x2="382.50" y2="16.70" stroke="#2a2a2a" stroke-width="0.9" />
<line x1="393.04" y1="124.50" x2="393.04" y2="123.10" stroke="#2a2a2a" stroke-width="0.9" />
<line x1="393.04" y1="14.50" x2="393.04" y2="15.90" stroke="#2a2a2a" stroke-width="0.9" />
<line x1="399.20" y1="124.50" x2="399.20" y2="123.10" stroke="#2a2a2a" stroke-width="0.9" />
<line x1="399.20" y1="14.50" x2="399.20" y2="15.90" stroke="#2a2a2a" stroke-width="0.9" />
<line x1="403.57" y1="124.50" x2="403.57" y2="123.10" stroke="#2a2a2a" stroke-width="0.9" />
<line x1="403.57" y1="14.50" x2="403.57" y2="15.90" stroke="#2a2a2a" stroke-width="0.9" />
<line x1="406.96" y1="124.50" x2="406.96" y2="123.10" stroke="#2a2a2a" stroke-width="0.9" />
<line x1="406.96" y1="14.50" x2="406.96" y2="15.90" stroke="#2a2a2a" stroke-width="0.9" />
<line x1="409.74" y1="124.50" x2="409.74" y2="123.10" stroke="#2a2a2a" stroke-width="0.9" />
<line x1="409.74" y1="14.50" x2="409.74" y2="15.90" stroke="#2a2a2a" stroke-width="0.9" />
<line x1="412.08" y1="124.50" x2="412.08" y2="123.10" stroke="#2a2a2a" stroke-width="0.9" />
<line x1="412.08" y1="14.50" x2="412.08" y2="15.90" stroke="#2a2a2a" stroke-width="0.9" />
<line x1="414.11" y1="124.50" x2="414.11" y2="123.10" stroke="#2a2a2a" stroke-width="0.9" />
<line x1="414.11" y1="14.50" x2="414.11" y2="15.90" stroke="#2a2a2a" stroke-width="0.9" />
<line x1="415.90" y1="124.50" x2="415.90" y2="123.10" stroke="#2a2a2a" stroke-width="0.9" />
<line x1="415.90" y1="14.50" x2="415.90" y2="15.90" stroke="#2a2a2a" stroke-width="0.9" />
<line x1="417.50" y1="124.50" x2="417.50" y2="122.30" stroke="#2a2a2a" stroke-width="0.9" />
<line x1="417.50" y1="14.50" x2="417.50" y2="16.70" stroke="#2a2a2a" stroke-width="0.9" />
<line x1="428.04" y1="124.50" x2="428.04" y2="123.10" stroke="#2a2a2a" stroke-width="0.9" />
<line x1="428.04" y1="14.50" x2="428.04" y2="15.90" stroke="#2a2a2a" stroke-width="0.9" />
<line x1="434.20" y1="124.50" x2="434.20" y2="123.10" stroke="#2a2a2a" stroke-width="0.9" />
<line x1="434.20" y1="14.50" x2="434.20" y2="15.90" stroke="#2a2a2a" stroke-width="0.9" />
<line x1="438.57" y1="124.50" x2="438.57" y2="123.10" stroke="#2a2a2a" stroke-width="0.9" />
<line x1="438.57" y1="14.50" x2="438.57" y2="15.90" stroke="#2a2a2a" stroke-width="0.9" />
<line x1="441.96" y1="124.50" x2="441.96" y2="123.10" stroke="#2a2a2a" stroke-width="0.9" />
<line x1="441.96" y1="14.50" x2="441.96" y2="15.90" stroke="#2a2a2a" stroke-width="0.9" />
<line x1="444.74" y1="124.50" x2="444.74" y2="123.10" stroke="#2a2a2a" stroke-width="0.9" />
<line x1="444.74" y1="14.50" x2="444.74" y2="15.90" stroke="#2a2a2a" stroke-width="0.9" />
<line x1="447.08" y1="124.50" x2="447.08" y2="123.10" stroke="#2a2a2a" stroke-width="0.9" />
<line x1="447.08" y1="14.50" x2="447.08" y2="15.90" stroke="#2a2a2a" stroke-width="0.9" />
<line x1="449.11" y1="124.50" x2="449.11" y2="123.10" stroke="#2a2a2a" stroke-width="0.9" />
<line x1="449.11" y1="14.50" x2="449.11" y2="15.90" stroke="#2a2a2a" stroke-width="0.9" />
<line x1="450.90" y1="124.50" x2="450.90" y2="123.10" stroke="#2a2a2a" stroke-width="0.9" />
<line x1="450.90" y1="14.50" x2="450.90" y2="15.90" stroke="#2a2a2a" stroke-width="0.9" />
<line x1="452.50" y1="124.50" x2="452.50" y2="122.30" stroke="#2a2a2a" stroke-width="0.9" />
<line x1="452.50" y1="14.50" x2="452.50" y2="16.70" stroke="#2a2a2a" stroke-width="0.9" />
<line x1="463.04" y1="124.50" x2="463.04" y2="123.10" stroke="#2a2a2a" stroke-width="0.9" />
<line x1="463.04" y1="14.50" x2="463.04" y2="15.90" stroke="#2a2a2a" stroke-width="0.9" />
<line x1="469.20" y1="124.50" x2="469.20" y2="123.10" stroke="#2a2a2a" stroke-width="0.9" />
<line x1="469.20" y1="14.50" x2="469.20" y2="15.90" stroke="#2a2a2a" stroke-width="0.9" />
<line x1="473.57" y1="124.50" x2="473.57" y2="123.10" stroke="#2a2a2a" stroke-width="0.9" />
<line x1="473.57" y1="14.50" x2="473.57" y2="15.90" stroke="#2a2a2a" stroke-width="0.9" />
<line x1="476.96" y1="124.50" x2="476.96" y2="123.10" stroke="#2a2a2a" stroke-width="0.9" />
<line x1="476.96" y1="14.50" x2="476.96" y2="15.90" stroke="#2a2a2a" stroke-width="0.9" />
<line x1="479.74" y1="124.50" x2="479.74" y2="123.10" stroke="#2a2a2a" stroke-width="0.9" />
<line x1="479.74" y1="14.50" x2="479.74" y2="15.90" stroke="#2a2a2a" stroke-width="0.9" />
<line x1="482.08" y1="124.50" x2="482.08" y2="123.10" stroke="#2a2a2a" stroke-width="0.9" />
<line x1="482.08" y1="14.50" x2="482.08" y2="15.90" stroke="#2a2a2a" stroke-width="0.9" />
<line x1="484.11" y1="124.50" x2="484.11" y2="123.10" stroke="#2a2a2a" stroke-width="0.9" />
<line x1="484.11" y1="14.50" x2="484.11" y2="15.90" stroke="#2a2a2a" stroke-width="0.9" />
<line x1="485.90" y1="124.50" x2="485.90" y2="123.10" stroke="#2a2a2a" stroke-width="0.9" />
<line x1="485.90" y1="14.50" x2="485.90" y2="15.90" stroke="#2a2a2a" stroke-width="0.9" />
<text x="348.70" y="136.50" font-size="9.1" text-anchor="middle" font-weight="normal" fill="#1a1a1a" stroke="#1a1a1a" stroke-width="0.15" >10</text>
<text x="381.20" y="136.50" font-size="9.1" text-anchor="middle" font-weight="normal" fill="#1a1a1a" stroke="#1a1a1a" stroke-width="0.15" >10</text>
<text x="386.50" y="132.70" font-size="6.0" text-anchor="start" font-weight="normal" fill="#1a1a1a" stroke="#1a1a1a" stroke-width="0" >2</text>
<text x="416.20" y="136.50" font-size="9.1" text-anchor="middle" font-weight="normal" fill="#1a1a1a" stroke="#1a1a1a" stroke-width="0.15" >10</text>
<text x="421.50" y="132.70" font-size="6.0" text-anchor="start" font-weight="normal" fill="#1a1a1a" stroke="#1a1a1a" stroke-width="0" >3</text>
<text x="451.20" y="136.50" font-size="9.1" text-anchor="middle" font-weight="normal" fill="#1a1a1a" stroke="#1a1a1a" stroke-width="0.15" >10</text>
<text x="456.50" y="132.70" font-size="6.0" text-anchor="start" font-weight="normal" fill="#1a1a1a" stroke="#1a1a1a" stroke-width="0" >4</text>
<text x="486.20" y="136.50" font-size="9.1" text-anchor="middle" font-weight="normal" fill="#1a1a1a" stroke="#1a1a1a" stroke-width="0.15" >10</text>
<text x="491.50" y="132.70" font-size="6.0" text-anchor="start" font-weight="normal" fill="#1a1a1a" stroke="#1a1a1a" stroke-width="0" >5</text>
<text transform="translate(318.4,68.4) rotate(-90)" font-size="12.4" text-anchor="middle" fill="#1a1a1a" stroke="#1a1a1a" stroke-width="0.15">Normalized <tspan font-style="italic">χ</tspan><tspan font-size="7.5" dy="-5.5">2</tspan></text>
<text x="421.60" y="151.20" font-size="12.6" text-anchor="middle" font-weight="normal" fill="#1a1a1a" stroke="#1a1a1a" stroke-width="0.15" ><tspan font-style="italic">k</tspan><tspan font-size="8" dy="3">ex</tspan><tspan dy="-3"> (s</tspan><tspan font-size="7.5" dy="-5">-1</tspan><tspan dy="5">)</tspan></text>
<text x="324.60" y="178.30" font-size="12.8" text-anchor="start" font-weight="bold" fill="#111" stroke="#111" stroke-width="0.1" >(c)</text>
<rect x="347.5" y="182.5" width="140.00" height="110.00" fill="none" stroke="#2a2a2a" stroke-width="1.1"/>
<line x1="347.50" y1="281.50" x2="349.50" y2="281.50" stroke="#2a2a2a" stroke-width="0.9" />
<line x1="485.50" y1="281.50" x2="487.50" y2="281.50" stroke="#2a2a2a" stroke-width="0.9" />
<line x1="347.50" y1="270.50" x2="349.50" y2="270.50" stroke="#2a2a2a" stroke-width="0.9" />
<line x1="485.50" y1="270.50" x2="487.50" y2="270.50" stroke="#2a2a2a" stroke-width="0.9" />
<line x1="347.50" y1="259.50" x2="349.50" y2="259.50" stroke="#2a2a2a" stroke-width="0.9" />
<line x1="485.50" y1="259.50" x2="487.50" y2="259.50" stroke="#2a2a2a" stroke-width="0.9" />
<line x1="347.50" y1="248.50" x2="349.50" y2="248.50" stroke="#2a2a2a" stroke-width="0.9" />
<line x1="485.50" y1="248.50" x2="487.50" y2="248.50" stroke="#2a2a2a" stroke-width="0.9" />
<line x1="347.50" y1="237.50" x2="349.50" y2="237.50" stroke="#2a2a2a" stroke-width="0.9" />
<line x1="485.50" y1="237.50" x2="487.50" y2="237.50" stroke="#2a2a2a" stroke-width="0.9" />
<line x1="347.50" y1="226.50" x2="349.50" y2="226.50" stroke="#2a2a2a" stroke-width="0.9" />
<line x1="485.50" y1="226.50" x2="487.50" y2="226.50" stroke="#2a2a2a" stroke-width="0.9" />
<line x1="347.50" y1="215.50" x2="349.50" y2="215.50" stroke="#2a2a2a" stroke-width="0.9" />
<line x1="485.50" y1="215.50" x2="487.50" y2="215.50" stroke="#2a2a2a" stroke-width="0.9" />
<line x1="347.50" y1="204.50" x2="349.50" y2="204.50" stroke="#2a2a2a" stroke-width="0.9" />
<line x1="485.50" y1="204.50" x2="487.50" y2="204.50" stroke="#2a2a2a" stroke-width="0.9" />
<line x1="347.50" y1="193.50" x2="349.50" y2="193.50" stroke="#2a2a2a" stroke-width="0.9" />
<line x1="485.50" y1="193.50" x2="487.50" y2="193.50" stroke="#2a2a2a" stroke-width="0.9" />
<text x="343.90" y="295.70" font-size="9.1" text-anchor="end" font-weight="normal" fill="#1a1a1a" stroke="#1a1a1a" stroke-width="0.15" >0</text>
<text x="343.90" y="273.70" font-size="9.1" text-anchor="end" font-weight="normal" fill="#1a1a1a" stroke="#1a1a1a" stroke-width="0.15" >0.2</text>
<text x="343.90" y="251.70" font-size="9.1" text-anchor="end" font-weight="normal" fill="#1a1a1a" stroke="#1a1a1a" stroke-width="0.15" >0.4</text>
<text x="343.90" y="229.70" font-size="9.1" text-anchor="end" font-weight="normal" fill="#1a1a1a" stroke="#1a1a1a" stroke-width="0.15" >0.6</text>
<text x="343.90" y="207.70" font-size="9.1" text-anchor="end" font-weight="normal" fill="#1a1a1a" stroke="#1a1a1a" stroke-width="0.15" >0.8</text>
<line x1="358.04" y1="292.50" x2="358.04" y2="291.10" stroke="#2a2a2a" stroke-width="0.9" />
<line x1="358.04" y1="182.50" x2="358.04" y2="183.90" stroke="#2a2a2a" stroke-width="0.9" />
<line x1="364.20" y1="292.50" x2="364.20" y2="291.10" stroke="#2a2a2a" stroke-width="0.9" />
<line x1="364.20" y1="182.50" x2="364.20" y2="183.90" stroke="#2a2a2a" stroke-width="0.9" />
<line x1="368.57" y1="292.50" x2="368.57" y2="291.10" stroke="#2a2a2a" stroke-width="0.9" />
<line x1="368.57" y1="182.50" x2="368.57" y2="183.90" stroke="#2a2a2a" stroke-width="0.9" />
<line x1="371.96" y1="292.50" x2="371.96" y2="291.10" stroke="#2a2a2a" stroke-width="0.9" />
<line x1="371.96" y1="182.50" x2="371.96" y2="183.90" stroke="#2a2a2a" stroke-width="0.9" />
<line x1="374.74" y1="292.50" x2="374.74" y2="291.10" stroke="#2a2a2a" stroke-width="0.9" />
<line x1="374.74" y1="182.50" x2="374.74" y2="183.90" stroke="#2a2a2a" stroke-width="0.9" />
<line x1="377.08" y1="292.50" x2="377.08" y2="291.10" stroke="#2a2a2a" stroke-width="0.9" />
<line x1="377.08" y1="182.50" x2="377.08" y2="183.90" stroke="#2a2a2a" stroke-width="0.9" />
<line x1="379.11" y1="292.50" x2="379.11" y2="291.10" stroke="#2a2a2a" stroke-width="0.9" />
<line x1="379.11" y1="182.50" x2="379.11" y2="183.90" stroke="#2a2a2a" stroke-width="0.9" />
<line x1="380.90" y1="292.50" x2="380.90" y2="291.10" stroke="#2a2a2a" stroke-width="0.9" />
<line x1="380.90" y1="182.50" x2="380.90" y2="183.90" stroke="#2a2a2a" stroke-width="0.9" />
<line x1="382.50" y1="292.50" x2="382.50" y2="290.30" stroke="#2a2a2a" stroke-width="0.9" />
<line x1="382.50" y1="182.50" x2="382.50" y2="184.70" stroke="#2a2a2a" stroke-width="0.9" />
<line x1="393.04" y1="292.50" x2="393.04" y2="291.10" stroke="#2a2a2a" stroke-width="0.9" />
<line x1="393.04" y1="182.50" x2="393.04" y2="183.90" stroke="#2a2a2a" stroke-width="0.9" />
<line x1="399.20" y1="292.50" x2="399.20" y2="291.10" stroke="#2a2a2a" stroke-width="0.9" />
<line x1="399.20" y1="182.50" x2="399.20" y2="183.90" stroke="#2a2a2a" stroke-width="0.9" />
<line x1="403.57" y1="292.50" x2="403.57" y2="291.10" stroke="#2a2a2a" stroke-width="0.9" />
<line x1="403.57" y1="182.50" x2="403.57" y2="183.90" stroke="#2a2a2a" stroke-width="0.9" />
<line x1="406.96" y1="292.50" x2="406.96" y2="291.10" stroke="#2a2a2a" stroke-width="0.9" />
<line x1="406.96" y1="182.50" x2="406.96" y2="183.90" stroke="#2a2a2a" stroke-width="0.9" />
<line x1="409.74" y1="292.50" x2="409.74" y2="291.10" stroke="#2a2a2a" stroke-width="0.9" />
<line x1="409.74" y1="182.50" x2="409.74" y2="183.90" stroke="#2a2a2a" stroke-width="0.9" />
<line x1="412.08" y1="292.50" x2="412.08" y2="291.10" stroke="#2a2a2a" stroke-width="0.9" />
<line x1="412.08" y1="182.50" x2="412.08" y2="183.90" stroke="#2a2a2a" stroke-width="0.9" />
<line x1="414.11" y1="292.50" x2="414.11" y2="291.10" stroke="#2a2a2a" stroke-width="0.9" />
<line x1="414.11" y1="182.50" x2="414.11" y2="183.90" stroke="#2a2a2a" stroke-width="0.9" />
<line x1="415.90" y1="292.50" x2="415.90" y2="291.10" stroke="#2a2a2a" stroke-width="0.9" />
<line x1="415.90" y1="182.50" x2="415.90" y2="183.90" stroke="#2a2a2a" stroke-width="0.9" />
<line x1="417.50" y1="292.50" x2="417.50" y2="290.30" stroke="#2a2a2a" stroke-width="0.9" />
<line x1="417.50" y1="182.50" x2="417.50" y2="184.70" stroke="#2a2a2a" stroke-width="0.9" />
<line x1="428.04" y1="292.50" x2="428.04" y2="291.10" stroke="#2a2a2a" stroke-width="0.9" />
<line x1="428.04" y1="182.50" x2="428.04" y2="183.90" stroke="#2a2a2a" stroke-width="0.9" />
<line x1="434.20" y1="292.50" x2="434.20" y2="291.10" stroke="#2a2a2a" stroke-width="0.9" />
<line x1="434.20" y1="182.50" x2="434.20" y2="183.90" stroke="#2a2a2a" stroke-width="0.9" />
<line x1="438.57" y1="292.50" x2="438.57" y2="291.10" stroke="#2a2a2a" stroke-width="0.9" />
<line x1="438.57" y1="182.50" x2="438.57" y2="183.90" stroke="#2a2a2a" stroke-width="0.9" />
<line x1="441.96" y1="292.50" x2="441.96" y2="291.10" stroke="#2a2a2a" stroke-width="0.9" />
<line x1="441.96" y1="182.50" x2="441.96" y2="183.90" stroke="#2a2a2a" stroke-width="0.9" />
<line x1="444.74" y1="292.50" x2="444.74" y2="291.10" stroke="#2a2a2a" stroke-width="0.9" />
<line x1="444.74" y1="182.50" x2="444.74" y2="183.90" stroke="#2a2a2a" stroke-width="0.9" />
<line x1="447.08" y1="292.50" x2="447.08" y2="291.10" stroke="#2a2a2a" stroke-width="0.9" />
<line x1="447.08" y1="182.50" x2="447.08" y2="183.90" stroke="#2a2a2a" stroke-width="0.9" />
<line x1="449.11" y1="292.50" x2="449.11" y2="291.10" stroke="#2a2a2a" stroke-width="0.9" />
<line x1="449.11" y1="182.50" x2="449.11" y2="183.90" stroke="#2a2a2a" stroke-width="0.9" />
<line x1="450.90" y1="292.50" x2="450.90" y2="291.10" stroke="#2a2a2a" stroke-width="0.9" />
<line x1="450.90" y1="182.50" x2="450.90" y2="183.90" stroke="#2a2a2a" stroke-width="0.9" />
<line x1="452.50" y1="292.50" x2="452.50" y2="290.30" stroke="#2a2a2a" stroke-width="0.9" />
<line x1="452.50" y1="182.50" x2="452.50" y2="184.70" stroke="#2a2a2a" stroke-width="0.9" />
<line x1="463.04" y1="292.50" x2="463.04" y2="291.10" stroke="#2a2a2a" stroke-width="0.9" />
<line x1="463.04" y1="182.50" x2="463.04" y2="183.90" stroke="#2a2a2a" stroke-width="0.9" />
<line x1="469.20" y1="292.50" x2="469.20" y2="291.10" stroke="#2a2a2a" stroke-width="0.9" />
<line x1="469.20" y1="182.50" x2="469.20" y2="183.90" stroke="#2a2a2a" stroke-width="0.9" />
<line x1="473.57" y1="292.50" x2="473.57" y2="291.10" stroke="#2a2a2a" stroke-width="0.9" />
<line x1="473.57" y1="182.50" x2="473.57" y2="183.90" stroke="#2a2a2a" stroke-width="0.9" />
<line x1="476.96" y1="292.50" x2="476.96" y2="291.10" stroke="#2a2a2a" stroke-width="0.9" />
<line x1="476.96" y1="182.50" x2="476.96" y2="183.90" stroke="#2a2a2a" stroke-width="0.9" />
<line x1="479.74" y1="292.50" x2="479.74" y2="291.10" stroke="#2a2a2a" stroke-width="0.9" />
<line x1="479.74" y1="182.50" x2="479.74" y2="183.90" stroke="#2a2a2a" stroke-width="0.9" />
<line x1="482.08" y1="292.50" x2="482.08" y2="291.10" stroke="#2a2a2a" stroke-width="0.9" />
<line x1="482.08" y1="182.50" x2="482.08" y2="183.90" stroke="#2a2a2a" stroke-width="0.9" />
<line x1="484.11" y1="292.50" x2="484.11" y2="291.10" stroke="#2a2a2a" stroke-width="0.9" />
<line x1="484.11" y1="182.50" x2="484.11" y2="183.90" stroke="#2a2a2a" stroke-width="0.9" />
<line x1="485.90" y1="292.50" x2="485.90" y2="291.10" stroke="#2a2a2a" stroke-width="0.9" />
<line x1="485.90" y1="182.50" x2="485.90" y2="183.90" stroke="#2a2a2a" stroke-width="0.9" />
<text x="348.70" y="304.50" font-size="9.1" text-anchor="middle" font-weight="normal" fill="#1a1a1a" stroke="#1a1a1a" stroke-width="0.15" >10</text>
<text x="381.20" y="304.50" font-size="9.1" text-anchor="middle" font-weight="normal" fill="#1a1a1a" stroke="#1a1a1a" stroke-width="0.15" >10</text>
<text x="386.50" y="300.70" font-size="6.0" text-anchor="start" font-weight="normal" fill="#1a1a1a" stroke="#1a1a1a" stroke-width="0" >2</text>
<text x="416.20" y="304.50" font-size="9.1" text-anchor="middle" font-weight="normal" fill="#1a1a1a" stroke="#1a1a1a" stroke-width="0.15" >10</text>
<text x="421.50" y="300.70" font-size="6.0" text-anchor="start" font-weight="normal" fill="#1a1a1a" stroke="#1a1a1a" stroke-width="0" >3</text>
<text x="451.20" y="304.50" font-size="9.1" text-anchor="middle" font-weight="normal" fill="#1a1a1a" stroke="#1a1a1a" stroke-width="0.15" >10</text>
<text x="456.50" y="300.70" font-size="6.0" text-anchor="start" font-weight="normal" fill="#1a1a1a" stroke="#1a1a1a" stroke-width="0" >4</text>
<text x="486.20" y="304.50" font-size="9.1" text-anchor="middle" font-weight="normal" fill="#1a1a1a" stroke="#1a1a1a" stroke-width="0.15" >10</text>
<text x="491.50" y="300.70" font-size="6.0" text-anchor="start" font-weight="normal" fill="#1a1a1a" stroke="#1a1a1a" stroke-width="0" >5</text>
<text transform="translate(318.4,236.8) rotate(-90)" font-size="12.4" text-anchor="middle" fill="#1a1a1a" stroke="#1a1a1a" stroke-width="0.15">Normalized <tspan font-style="italic">χ</tspan><tspan font-size="7.5" dy="-5.5">2</tspan></text>
<text x="421.60" y="319.20" font-size="12.6" text-anchor="middle" font-weight="normal" fill="#1a1a1a" stroke="#1a1a1a" stroke-width="0.15" ><tspan font-style="italic">k</tspan><tspan font-size="8" dy="3">ex</tspan><tspan dy="-3"> (s</tspan><tspan font-size="7.5" dy="-5">-1</tspan><tspan dy="5">)</tspan></text>
<text x="324.60" y="341.50" font-size="12.8" text-anchor="start" font-weight="bold" fill="#111" stroke="#111" stroke-width="0.1" >(d)</text>
<rect x="349.5" y="345.5" width="140.00" height="110.00" fill="none" stroke="#2a2a2a" stroke-width="1.1"/>
<line x1="349.50" y1="444.50" x2="351.50" y2="444.50" stroke="#2a2a2a" stroke-width="0.9" />
<line x1="487.50" y1="444.50" x2="489.50" y2="444.50" stroke="#2a2a2a" stroke-width="0.9" />
<line x1="349.50" y1="433.50" x2="351.50" y2="433.50" stroke="#2a2a2a" stroke-width="0.9" />
<line x1="487.50" y1="433.50" x2="489.50" y2="433.50" stroke="#2a2a2a" stroke-width="0.9" />
<line x1="349.50" y1="422.50" x2="351.50" y2="422.50" stroke="#2a2a2a" stroke-width="0.9" />
<line x1="487.50" y1="422.50" x2="489.50" y2="422.50" stroke="#2a2a2a" stroke-width="0.9" />
<line x1="349.50" y1="411.50" x2="351.50" y2="411.50" stroke="#2a2a2a" stroke-width="0.9" />
<line x1="487.50" y1="411.50" x2="489.50" y2="411.50" stroke="#2a2a2a" stroke-width="0.9" />
<line x1="349.50" y1="400.50" x2="351.50" y2="400.50" stroke="#2a2a2a" stroke-width="0.9" />
<line x1="487.50" y1="400.50" x2="489.50" y2="400.50" stroke="#2a2a2a" stroke-width="0.9" />
<line x1="349.50" y1="389.50" x2="351.50" y2="389.50" stroke="#2a2a2a" stroke-width="0.9" />
<line x1="487.50" y1="389.50" x2="489.50" y2="389.50" stroke="#2a2a2a" stroke-width="0.9" />
<line x1="349.50" y1="378.50" x2="351.50" y2="378.50" stroke="#2a2a2a" stroke-width="0.9" />
<line x1="487.50" y1="378.50" x2="489.50" y2="378.50" stroke="#2a2a2a" stroke-width="0.9" />
<line x1="349.50" y1="367.50" x2="351.50" y2="367.50" stroke="#2a2a2a" stroke-width="0.9" />
<line x1="487.50" y1="367.50" x2="489.50" y2="367.50" stroke="#2a2a2a" stroke-width="0.9" />
<line x1="349.50" y1="356.50" x2="351.50" y2="356.50" stroke="#2a2a2a" stroke-width="0.9" />
<line x1="487.50" y1="356.50" x2="489.50" y2="356.50" stroke="#2a2a2a" stroke-width="0.9" />
<text x="345.90" y="458.70" font-size="9.1" text-anchor="end" font-weight="normal" fill="#1a1a1a" stroke="#1a1a1a" stroke-width="0.15" >0</text>
<text x="345.90" y="436.70" font-size="9.1" text-anchor="end" font-weight="normal" fill="#1a1a1a" stroke="#1a1a1a" stroke-width="0.15" >0.2</text>
<text x="345.90" y="414.70" font-size="9.1" text-anchor="end" font-weight="normal" fill="#1a1a1a" stroke="#1a1a1a" stroke-width="0.15" >0.4</text>
<text x="345.90" y="392.70" font-size="9.1" text-anchor="end" font-weight="normal" fill="#1a1a1a" stroke="#1a1a1a" stroke-width="0.15" >0.6</text>
<text x="345.90" y="370.70" font-size="9.1" text-anchor="end" font-weight="normal" fill="#1a1a1a" stroke="#1a1a1a" stroke-width="0.15" >0.8</text>
<line x1="360.04" y1="455.50" x2="360.04" y2="454.10" stroke="#2a2a2a" stroke-width="0.9" />
<line x1="360.04" y1="345.50" x2="360.04" y2="346.90" stroke="#2a2a2a" stroke-width="0.9" />
<line x1="366.20" y1="455.50" x2="366.20" y2="454.10" stroke="#2a2a2a" stroke-width="0.9" />
<line x1="366.20" y1="345.50" x2="366.20" y2="346.90" stroke="#2a2a2a" stroke-width="0.9" />
<line x1="370.57" y1="455.50" x2="370.57" y2="454.10" stroke="#2a2a2a" stroke-width="0.9" />
<line x1="370.57" y1="345.50" x2="370.57" y2="346.90" stroke="#2a2a2a" stroke-width="0.9" />
<line x1="373.96" y1="455.50" x2="373.96" y2="454.10" stroke="#2a2a2a" stroke-width="0.9" />
<line x1="373.96" y1="345.50" x2="373.96" y2="346.90" stroke="#2a2a2a" stroke-width="0.9" />
<line x1="376.74" y1="455.50" x2="376.74" y2="454.10" stroke="#2a2a2a" stroke-width="0.9" />
<line x1="376.74" y1="345.50" x2="376.74" y2="346.90" stroke="#2a2a2a" stroke-width="0.9" />
<line x1="379.08" y1="455.50" x2="379.08" y2="454.10" stroke="#2a2a2a" stroke-width="0.9" />
<line x1="379.08" y1="345.50" x2="379.08" y2="346.90" stroke="#2a2a2a" stroke-width="0.9" />
<line x1="381.11" y1="455.50" x2="381.11" y2="454.10" stroke="#2a2a2a" stroke-width="0.9" />
<line x1="381.11" y1="345.50" x2="381.11" y2="346.90" stroke="#2a2a2a" stroke-width="0.9" />
<line x1="382.90" y1="455.50" x2="382.90" y2="454.10" stroke="#2a2a2a" stroke-width="0.9" />
<line x1="382.90" y1="345.50" x2="382.90" y2="346.90" stroke="#2a2a2a" stroke-width="0.9" />
<line x1="384.50" y1="455.50" x2="384.50" y2="453.30" stroke="#2a2a2a" stroke-width="0.9" />
<line x1="384.50" y1="345.50" x2="384.50" y2="347.70" stroke="#2a2a2a" stroke-width="0.9" />
<line x1="395.04" y1="455.50" x2="395.04" y2="454.10" stroke="#2a2a2a" stroke-width="0.9" />
<line x1="395.04" y1="345.50" x2="395.04" y2="346.90" stroke="#2a2a2a" stroke-width="0.9" />
<line x1="401.20" y1="455.50" x2="401.20" y2="454.10" stroke="#2a2a2a" stroke-width="0.9" />
<line x1="401.20" y1="345.50" x2="401.20" y2="346.90" stroke="#2a2a2a" stroke-width="0.9" />
<line x1="405.57" y1="455.50" x2="405.57" y2="454.10" stroke="#2a2a2a" stroke-width="0.9" />
<line x1="405.57" y1="345.50" x2="405.57" y2="346.90" stroke="#2a2a2a" stroke-width="0.9" />
<line x1="408.96" y1="455.50" x2="408.96" y2="454.10" stroke="#2a2a2a" stroke-width="0.9" />
<line x1="408.96" y1="345.50" x2="408.96" y2="346.90" stroke="#2a2a2a" stroke-width="0.9" />
<line x1="411.74" y1="455.50" x2="411.74" y2="454.10" stroke="#2a2a2a" stroke-width="0.9" />
<line x1="411.74" y1="345.50" x2="411.74" y2="346.90" stroke="#2a2a2a" stroke-width="0.9" />
<line x1="414.08" y1="455.50" x2="414.08" y2="454.10" stroke="#2a2a2a" stroke-width="0.9" />
<line x1="414.08" y1="345.50" x2="414.08" y2="346.90" stroke="#2a2a2a" stroke-width="0.9" />
<line x1="416.11" y1="455.50" x2="416.11" y2="454.10" stroke="#2a2a2a" stroke-width="0.9" />
<line x1="416.11" y1="345.50" x2="416.11" y2="346.90" stroke="#2a2a2a" stroke-width="0.9" />
<line x1="417.90" y1="455.50" x2="417.90" y2="454.10" stroke="#2a2a2a" stroke-width="0.9" />
<line x1="417.90" y1="345.50" x2="417.90" y2="346.90" stroke="#2a2a2a" stroke-width="0.9" />
<line x1="419.50" y1="455.50" x2="419.50" y2="453.30" stroke="#2a2a2a" stroke-width="0.9" />
<line x1="419.50" y1="345.50" x2="419.50" y2="347.70" stroke="#2a2a2a" stroke-width="0.9" />
<line x1="430.04" y1="455.50" x2="430.04" y2="454.10" stroke="#2a2a2a" stroke-width="0.9" />
<line x1="430.04" y1="345.50" x2="430.04" y2="346.90" stroke="#2a2a2a" stroke-width="0.9" />
<line x1="436.20" y1="455.50" x2="436.20" y2="454.10" stroke="#2a2a2a" stroke-width="0.9" />
<line x1="436.20" y1="345.50" x2="436.20" y2="346.90" stroke="#2a2a2a" stroke-width="0.9" />
<line x1="440.57" y1="455.50" x2="440.57" y2="454.10" stroke="#2a2a2a" stroke-width="0.9" />
<line x1="440.57" y1="345.50" x2="440.57" y2="346.90" stroke="#2a2a2a" stroke-width="0.9" />
<line x1="443.96" y1="455.50" x2="443.96" y2="454.10" stroke="#2a2a2a" stroke-width="0.9" />
<line x1="443.96" y1="345.50" x2="443.96" y2="346.90" stroke="#2a2a2a" stroke-width="0.9" />
<line x1="446.74" y1="455.50" x2="446.74" y2="454.10" stroke="#2a2a2a" stroke-width="0.9" />
<line x1="446.74" y1="345.50" x2="446.74" y2="346.90" stroke="#2a2a2a" stroke-width="0.9" />
<line x1="449.08" y1="455.50" x2="449.08" y2="454.10" stroke="#2a2a2a" stroke-width="0.9" />
<line x1="449.08" y1="345.50" x2="449.08" y2="346.90" stroke="#2a2a2a" stroke-width="0.9" />
<line x1="451.11" y1="455.50" x2="451.11" y2="454.10" stroke="#2a2a2a" stroke-width="0.9" />
<line x1="451.11" y1="345.50" x2="451.11" y2="346.90" stroke="#2a2a2a" stroke-width="0.9" />
<line x1="452.90" y1="455.50" x2="452.90" y2="454.10" stroke="#2a2a2a" stroke-width="0.9" />
<line x1="452.90" y1="345.50" x2="452.90" y2="346.90" stroke="#2a2a2a" stroke-width="0.9" />
<line x1="454.50" y1="455.50" x2="454.50" y2="453.30" stroke="#2a2a2a" stroke-width="0.9" />
<line x1="454.50" y1="345.50" x2="454.50" y2="347.70" stroke="#2a2a2a" stroke-width="0.9" />
<line x1="465.04" y1="455.50" x2="465.04" y2="454.10" stroke="#2a2a2a" stroke-width="0.9" />
<line x1="465.04" y1="345.50" x2="465.04" y2="346.90" stroke="#2a2a2a" stroke-width="0.9" />
<line x1="471.20" y1="455.50" x2="471.20" y2="454.10" stroke="#2a2a2a" stroke-width="0.9" />
<line x1="471.20" y1="345.50" x2="471.20" y2="346.90" stroke="#2a2a2a" stroke-width="0.9" />
<line x1="475.57" y1="455.50" x2="475.57" y2="454.10" stroke="#2a2a2a" stroke-width="0.9" />
<line x1="475.57" y1="345.50" x2="475.57" y2="346.90" stroke="#2a2a2a" stroke-width="0.9" />
<line x1="478.96" y1="455.50" x2="478.96" y2="454.10" stroke="#2a2a2a" stroke-width="0.9" />
<line x1="478.96" y1="345.50" x2="478.96" y2="346.90" stroke="#2a2a2a" stroke-width="0.9" />
<line x1="481.74" y1="455.50" x2="481.74" y2="454.10" stroke="#2a2a2a" stroke-width="0.9" />
<line x1="481.74" y1="345.50" x2="481.74" y2="346.90" stroke="#2a2a2a" stroke-width="0.9" />
<line x1="484.08" y1="455.50" x2="484.08" y2="454.10" stroke="#2a2a2a" stroke-width="0.9" />
<line x1="484.08" y1="345.50" x2="484.08" y2="346.90" stroke="#2a2a2a" stroke-width="0.9" />
<line x1="486.11" y1="455.50" x2="486.11" y2="454.10" stroke="#2a2a2a" stroke-width="0.9" />
<line x1="486.11" y1="345.50" x2="486.11" y2="346.90" stroke="#2a2a2a" stroke-width="0.9" />
<line x1="487.90" y1="455.50" x2="487.90" y2="454.10" stroke="#2a2a2a" stroke-width="0.9" />
<line x1="487.90" y1="345.50" x2="487.90" y2="346.90" stroke="#2a2a2a" stroke-width="0.9" />
<text x="350.70" y="467.50" font-size="9.1" text-anchor="middle" font-weight="normal" fill="#1a1a1a" stroke="#1a1a1a" stroke-width="0.15" >10</text>
<text x="383.20" y="467.50" font-size="9.1" text-anchor="middle" font-weight="normal" fill="#1a1a1a" stroke="#1a1a1a" stroke-width="0.15" >10</text>
<text x="388.50" y="463.70" font-size="6.0" text-anchor="start" font-weight="normal" fill="#1a1a1a" stroke="#1a1a1a" stroke-width="0" >2</text>
<text x="418.20" y="467.50" font-size="9.1" text-anchor="middle" font-weight="normal" fill="#1a1a1a" stroke="#1a1a1a" stroke-width="0.15" >10</text>
<text x="423.50" y="463.70" font-size="6.0" text-anchor="start" font-weight="normal" fill="#1a1a1a" stroke="#1a1a1a" stroke-width="0" >3</text>
<text x="453.20" y="467.50" font-size="9.1" text-anchor="middle" font-weight="normal" fill="#1a1a1a" stroke="#1a1a1a" stroke-width="0.15" >10</text>
<text x="458.50" y="463.70" font-size="6.0" text-anchor="start" font-weight="normal" fill="#1a1a1a" stroke="#1a1a1a" stroke-width="0" >4</text>
<text x="488.20" y="467.50" font-size="9.1" text-anchor="middle" font-weight="normal" fill="#1a1a1a" stroke="#1a1a1a" stroke-width="0.15" >10</text>
<text x="493.50" y="463.70" font-size="6.0" text-anchor="start" font-weight="normal" fill="#1a1a1a" stroke="#1a1a1a" stroke-width="0" >5</text>
<text transform="translate(317.2,398.4) rotate(-90)" font-size="12.4" text-anchor="middle" fill="#1a1a1a" stroke="#1a1a1a" stroke-width="0.15">Normalized <tspan font-style="italic">χ</tspan><tspan font-size="7.5" dy="-5.5">2</tspan></text>
<text x="422.30" y="482.70" font-size="12.6" text-anchor="middle" font-weight="normal" fill="#1a1a1a" stroke="#1a1a1a" stroke-width="0.15" ><tspan font-style="italic">k</tspan><tspan font-size="8" dy="3">ex</tspan><tspan dy="-3"> (s</tspan><tspan font-size="7.5" dy="-5">-1</tspan><tspan dy="5">)</tspan></text>
<polyline points="347.50,14.50 358.70,38.92 370.11,64.77 373.05,67.85 381.45,70.05 419.60,70.60 433.25,72.03 445.85,76.65 452.50,79.40 457.75,80.83 461.25,80.72 464.40,79.40 468.25,75.00 471.75,68.40 478.75,48.60 487.15,22.75" fill="none" stroke="#1a1a1a" stroke-width="1.6" stroke-linejoin="round" stroke-dasharray="1.5,1.3"/>
<polyline points="347.50,14.50 358.70,29.02 370.11,46.51 381.45,68.62 398.25,76.10 419.60,76.10 419.60,66.53 419.60,76.10 433.25,77.53 442.35,83.03 451.45,90.40 454.95,92.60 457.75,93.92 461.25,93.15 466.15,88.53 469.65,81.60 477.00,61.80 487.50,31.88" fill="none" stroke="#7b1fd1" stroke-width="1.6" stroke-linejoin="round" stroke-dasharray="1.5,1.3"/>
<polyline points="347.50,14.50 358.70,33.64 370.11,54.10 381.45,69.50 398.95,76.10 406.65,72.36 417.50,76.76 433.25,78.41 438.50,80.50 442.35,83.03 447.25,86.55 451.45,89.52 454.95,91.28 457.75,92.05 460.55,91.83 463.35,90.29 466.50,86.55 469.65,81.16 473.50,71.70 477.00,61.14 482.25,45.30 487.50,31.00" fill="none" stroke="#17a0d5" stroke-width="2.0" stroke-linejoin="round" />
<text x="448.20" y="24.30" font-size="8.8" text-anchor="start" font-weight="normal" fill="#1a1a1a" stroke="#1a1a1a" stroke-width="0.15" >GB1</text>
<text x="466.30" y="27.80" font-size="5.4" text-anchor="start" font-weight="normal" fill="#444" stroke="#444" stroke-width="0" >dia</text>
<line x1="352.3" y1="95.2" x2="358" y2="95.2" stroke="#1a1a1a" stroke-width="2" stroke-dasharray="1.9,1.7"/>
<text x="360.80" y="98.30" font-size="9.3" text-anchor="start" font-weight="normal" fill="#1a1a1a" stroke="#1a1a1a" stroke-width="0.15" >α region</text>
<line x1="352.3" y1="105.60000000000001" x2="358" y2="105.60000000000001" stroke="#7b1fd1" stroke-width="2" stroke-dasharray="1.9,1.7"/>
<text x="360.80" y="108.70" font-size="9.3" text-anchor="start" font-weight="normal" fill="#1a1a1a" stroke="#1a1a1a" stroke-width="0.15" >β region</text>
<line x1="352.60" y1="116.30" x2="358.90" y2="116.30" stroke="#17a0d5" stroke-width="2.2" />
<text x="360.80" y="119.10" font-size="9.3" text-anchor="start" font-weight="normal" fill="#1a1a1a" stroke="#1a1a1a" stroke-width="0.15" >combined</text>
<polyline points="347.50,182.50 370.11,223.64 373.75,226.39 382.85,227.05 419.60,227.05 436.75,228.15 447.95,230.02 452.50,229.25 457.05,226.39 469.65,216.27 478.75,203.51 487.15,182.61" fill="none" stroke="#1a1a1a" stroke-width="1.6" stroke-linejoin="round" stroke-dasharray="1.5,1.3"/>
<polyline points="347.50,182.50 370.11,213.85 382.85,222.10 405.95,222.87 419.60,223.64 433.25,225.84 447.95,232.66 456.00,238.60 462.30,241.02 468.25,238.60 473.50,234.64 487.15,209.01" fill="none" stroke="#7b1fd1" stroke-width="1.6" stroke-linejoin="round" stroke-dasharray="1.5,1.3"/>
<polyline points="347.50,182.50 370.95,217.92 382.15,222.43 399.65,224.85 419.60,225.73 428.70,226.06 429.40,220.45 430.10,226.17 438.85,228.15 445.15,230.35 445.85,225.18 446.55,230.68 452.50,234.20 458.45,236.07 463.00,235.30 466.15,233.65 469.65,229.25 475.25,221.77 487.15,199.00" fill="none" stroke="#e23f2b" stroke-width="1.9" stroke-linejoin="round" />
<text x="448.20" y="192.30" font-size="8.8" text-anchor="start" font-weight="normal" fill="#1a1a1a" stroke="#1a1a1a" stroke-width="0.15" >GB1</text>
<text x="466.30" y="195.80" font-size="5.4" text-anchor="start" font-weight="normal" fill="#444" stroke="#444" stroke-width="0" >pre</text>
<line x1="352.3" y1="262.9" x2="358" y2="262.9" stroke="#1a1a1a" stroke-width="2" stroke-dasharray="1.9,1.7"/>
<text x="360.80" y="266.00" font-size="9.3" text-anchor="start" font-weight="normal" fill="#1a1a1a" stroke="#1a1a1a" stroke-width="0.15" >α region</text>
<line x1="352.3" y1="273.29999999999995" x2="358" y2="273.29999999999995" stroke="#7b1fd1" stroke-width="2" stroke-dasharray="1.9,1.7"/>
<text x="360.80" y="276.40" font-size="9.3" text-anchor="start" font-weight="normal" fill="#1a1a1a" stroke="#1a1a1a" stroke-width="0.15" >β region</text>
<line x1="352.60" y1="284.00" x2="358.90" y2="284.00" stroke="#e23f2b" stroke-width="2.2" />
<text x="360.80" y="286.80" font-size="9.3" text-anchor="start" font-weight="normal" fill="#1a1a1a" stroke="#1a1a1a" stroke-width="0.15" >combined</text>
<polyline points="349.50,345.50 350.21,346.57 350.92,347.65 351.63,348.72 352.34,349.79 353.05,350.87 353.76,351.94 354.47,353.01 355.18,354.09 355.90,355.16 356.61,356.23 357.32,357.31 358.03,358.38 358.74,359.45 359.45,360.53 360.16,361.60 360.87,362.67 361.58,363.75 362.29,364.82 363.00,365.89 363.71,366.97 364.42,368.04 365.13,369.11 365.84,370.19 366.55,371.26 367.27,372.33 367.98,373.41 368.69,374.48 369.40,375.55 370.11,376.63 370.82,377.70 371.53,378.77 372.24,379.85 372.95,380.92 373.65,381.20 374.35,381.48 375.05,381.77 375.75,382.05 376.45,382.33 377.15,382.61 377.85,382.89 378.55,383.18 379.25,383.46 379.95,383.74 380.65,384.02 381.35,384.30 382.05,384.58 382.75,384.87 383.45,385.15 384.15,385.43 384.85,385.53 385.55,385.62 386.25,385.72 386.95,385.82 387.65,385.91 388.35,386.01 389.05,386.11 389.75,386.20 390.45,386.30 391.15,386.40 391.85,386.49 392.55,386.59 393.25,386.69 393.95,386.79 394.65,386.88 395.35,386.98 396.05,387.08 396.75,387.17 397.45,387.27 398.15,387.37 398.85,387.46 399.55,387.56 400.25,387.66 400.95,387.75 401.65,387.85 402.36,387.88 403.07,387.91 403.79,387.94 404.50,387.98 405.21,388.01 405.93,388.04 406.64,388.07 407.35,388.10 408.06,388.13 408.77,388.16 409.49,388.20 410.20,388.23 410.91,388.26 411.62,388.29 412.34,388.32 413.05,388.35 413.76,388.38 414.48,388.42 415.19,388.45 415.90,388.48 416.61,388.51 417.32,388.54 418.04,388.57 418.75,388.60 419.46,388.64 420.18,387.83 420.89,388.70 421.60,388.73 422.36,388.76 423.12,388.76 423.88,388.81 424.63,388.48 425.39,388.87 426.15,388.89 426.91,388.92 427.67,388.95 428.43,388.98 429.18,388.03 429.94,389.03 430.70,389.06 431.40,383.45 432.10,389.17 432.83,388.17 433.56,389.50 434.29,389.62 435.02,389.83 435.75,390.00 436.48,390.16 437.20,390.32 437.93,390.49 438.66,390.66 439.39,390.82 440.12,390.99 440.85,391.15 441.55,391.39 442.25,391.64 442.95,391.67 443.65,390.64 444.35,392.37 445.05,392.62 445.75,392.08 446.45,393.11 447.15,393.35 447.85,388.18 448.55,393.68 449.29,394.12 450.04,394.56 450.78,395.00 451.52,395.44 452.27,395.88 453.01,396.32 453.76,396.76 454.50,397.20 455.24,397.43 455.99,397.67 456.73,397.90 457.48,398.13 458.22,398.37 458.96,398.60 459.71,398.84 460.45,399.07 461.21,398.94 461.97,398.81 462.72,398.69 463.48,398.56 464.24,398.43 465.00,398.30 465.79,397.89 466.57,397.48 467.36,397.06 468.15,396.65 468.85,395.77 469.55,394.89 470.25,394.01 470.95,393.13 471.65,392.25 472.35,391.31 473.05,390.38 473.75,389.44 474.45,388.51 475.15,387.57 475.85,386.64 476.55,385.70 477.25,384.77 477.99,383.35 478.74,381.92 479.48,380.50 480.23,379.08 480.97,377.65 481.71,376.23 482.46,374.81 483.20,373.38 483.94,371.96 484.69,370.54 485.43,369.12 486.18,367.69 486.92,366.27 487.66,364.85 488.41,363.42 489.15,362.00" fill="none" stroke="#e23f2b" stroke-width="1.9" stroke-linejoin="round" />
<polyline points="349.50,345.50 350.20,346.70 350.90,347.89 351.60,349.09 352.30,350.28 353.00,351.48 353.70,352.68 354.40,353.87 355.10,355.07 355.80,356.27 356.50,357.46 357.20,358.66 357.90,359.86 358.60,361.05 359.30,362.25 360.00,363.44 360.70,364.64 361.41,365.92 362.13,367.20 362.84,368.48 363.55,369.75 364.27,371.03 364.98,372.31 365.69,373.59 366.41,374.87 367.12,376.15 367.83,377.43 368.54,378.71 369.26,379.99 369.97,381.26 370.68,382.54 371.40,383.82 372.11,385.10 372.82,386.06 373.53,387.02 374.24,387.99 374.94,388.95 375.65,389.91 376.36,390.88 377.07,391.84 377.78,392.80 378.49,393.76 379.20,394.73 379.91,395.69 380.62,396.65 381.32,397.61 382.03,398.57 382.74,399.54 383.45,400.50 384.15,400.76 384.85,401.03 385.55,401.29 386.25,401.56 386.95,401.82 387.65,402.08 388.35,402.35 389.05,402.61 389.75,402.88 390.45,403.14 391.15,403.40 391.85,403.67 392.55,403.93 393.25,404.20 393.95,404.46 394.65,404.72 395.35,404.99 396.05,405.25 396.75,405.52 397.45,405.78 398.15,406.04 398.85,406.31 399.55,406.57 400.25,406.84 400.95,407.10 401.72,406.73 402.49,406.35 403.26,405.98 404.03,405.60 404.80,405.23 405.57,404.86 406.34,404.48 407.11,404.11 407.88,403.73 408.65,403.36 409.37,403.65 410.10,403.95 410.82,404.24 411.54,404.53 412.27,404.83 412.99,405.12 413.71,405.41 414.44,405.71 415.16,406.00 415.88,406.29 416.61,406.59 417.33,406.88 418.05,407.17 418.78,407.47 419.50,407.76 420.22,406.70 420.93,407.91 421.65,407.99 422.36,408.06 423.08,408.13 423.80,407.11 424.51,408.28 425.23,408.28 425.94,408.44 426.66,408.51 427.38,407.53 428.09,408.66 428.81,408.35 429.52,408.81 430.24,408.88 430.95,408.15 431.67,408.09 432.39,407.95 433.10,409.19 433.82,409.26 434.53,409.33 435.25,409.41 436.00,409.71 436.75,410.01 437.50,410.31 438.25,410.60 439.00,410.90 439.75,411.20 440.50,411.50 441.27,412.01 442.04,412.51 442.81,413.02 443.58,413.52 444.35,414.03 445.05,414.53 445.75,415.04 446.45,415.54 447.15,416.04 447.85,416.54 448.55,417.05 449.25,417.55 449.95,418.05 450.65,418.54 451.35,419.03 452.05,419.53 452.75,420.02 453.45,420.52 454.15,420.87 454.85,421.22 455.55,421.58 456.25,421.93 456.95,422.28 457.65,422.47 458.35,422.67 459.05,422.86 459.75,423.05 460.45,423.00 461.15,422.94 461.85,422.88 462.55,422.83 463.48,422.32 464.42,421.80 465.35,421.29 466.14,420.36 466.93,419.42 467.71,418.49 468.50,417.55 469.29,416.20 470.08,414.86 470.86,413.51 471.65,412.16 472.42,410.27 473.19,408.38 473.96,406.48 474.73,404.59 475.50,402.70 476.20,400.59 476.90,398.48 477.60,396.36 478.30,394.25 479.00,392.14 479.75,389.88 480.50,387.61 481.25,385.35 482.00,383.09 482.75,380.83 483.50,378.56 484.25,376.30 485.00,374.26 485.75,372.21 486.50,370.17 487.25,368.13 488.00,366.09 488.75,364.04 489.50,362.00" fill="none" stroke="#17a0d5" stroke-width="2.0" stroke-linejoin="round" />
<line x1="355.90" y1="435.60" x2="361.90" y2="435.60" stroke="#17a0d5" stroke-width="2.2" />
<text x="363.50" y="437.80" font-size="9.6" text-anchor="start" font-weight="normal" fill="#1a1a1a" stroke="#1a1a1a" stroke-width="0.15" >GB1</text>
<text x="383.00" y="441.00" font-size="5.8" text-anchor="start" font-weight="normal" fill="#444" stroke="#444" stroke-width="0" >dia</text>
<line x1="355.90" y1="446.40" x2="361.90" y2="446.40" stroke="#e23f2b" stroke-width="2.2" />
<text x="363.50" y="448.60" font-size="9.6" text-anchor="start" font-weight="normal" fill="#1a1a1a" stroke="#1a1a1a" stroke-width="0.15" >GB1</text>
<text x="383.00" y="451.80" font-size="5.8" text-anchor="start" font-weight="normal" fill="#444" stroke="#444" stroke-width="0" >pre</text>
<line x1="559.5" y1="114.5" x2="683.5" y2="14.5" stroke="#9a9a9a" stroke-width="1.7"/>
<rect x="559.5" y="14.5" width="124.00" height="100.00" fill="none" stroke="#3a3a3a" stroke-width="1.3"/>
<line x1="570.77" y1="114.50" x2="570.77" y2="116.50" stroke="#444" stroke-width="0.9" />
<line x1="557.50" y1="105.41" x2="559.50" y2="105.41" stroke="#444" stroke-width="0.9" />
<line x1="589.56" y1="114.50" x2="589.56" y2="116.50" stroke="#444" stroke-width="0.9" />
<line x1="557.50" y1="90.26" x2="559.50" y2="90.26" stroke="#444" stroke-width="0.9" />
<line x1="608.35" y1="114.50" x2="608.35" y2="116.50" stroke="#444" stroke-width="0.9" />
<line x1="557.50" y1="75.11" x2="559.50" y2="75.11" stroke="#444" stroke-width="0.9" />
<line x1="627.14" y1="114.50" x2="627.14" y2="116.50" stroke="#444" stroke-width="0.9" />
<line x1="557.50" y1="59.95" x2="559.50" y2="59.95" stroke="#444" stroke-width="0.9" />
<line x1="645.92" y1="114.50" x2="645.92" y2="116.50" stroke="#444" stroke-width="0.9" />
<line x1="557.50" y1="44.80" x2="559.50" y2="44.80" stroke="#444" stroke-width="0.9" />
<line x1="664.71" y1="114.50" x2="664.71" y2="116.50" stroke="#444" stroke-width="0.9" />
<line x1="557.50" y1="29.65" x2="559.50" y2="29.65" stroke="#444" stroke-width="0.9" />
<text x="589.56" y="127.80" font-size="8.8" text-anchor="middle" font-weight="normal" fill="#1a1a1a" stroke="#1a1a1a" stroke-width="0.15" >50</text>
<text x="556.50" y="93.36" font-size="8.8" text-anchor="end" font-weight="normal" fill="#1a1a1a" stroke="#1a1a1a" stroke-width="0.15" >50</text>
<text x="627.14" y="127.80" font-size="8.8" text-anchor="middle" font-weight="normal" fill="#1a1a1a" stroke="#1a1a1a" stroke-width="0.15" >100</text>
<text x="556.50" y="63.05" font-size="8.8" text-anchor="end" font-weight="normal" fill="#1a1a1a" stroke="#1a1a1a" stroke-width="0.15" >100</text>
<text x="664.71" y="127.80" font-size="8.8" text-anchor="middle" font-weight="normal" fill="#1a1a1a" stroke="#1a1a1a" stroke-width="0.15" >150</text>
<text x="556.50" y="32.75" font-size="8.8" text-anchor="end" font-weight="normal" fill="#1a1a1a" stroke="#1a1a1a" stroke-width="0.15" >150</text>
<text x="667.50" y="24.40" font-size="9.7" text-anchor="end" font-weight="normal" fill="#a0a0a0" stroke="#a0a0a0" stroke-width="0.15" >R = 0.9993</text>
<line x1="654.94" y1="36.32" x2="660.95" y2="36.32" stroke="#111" stroke-width="0.9" />
<line x1="654.94" y1="34.92" x2="654.94" y2="37.72" stroke="#111" stroke-width="0.9" />
<line x1="660.95" y1="34.92" x2="660.95" y2="37.72" stroke="#111" stroke-width="0.9" />
<line x1="657.95" y1="33.89" x2="657.95" y2="38.74" stroke="#111" stroke-width="0.9" />
<line x1="656.55" y1="33.89" x2="659.35" y2="33.89" stroke="#111" stroke-width="0.9" />
<line x1="656.55" y1="38.74" x2="659.35" y2="38.74" stroke="#111" stroke-width="0.9" />
<circle cx="657.95" cy="36.32" r="2.7" fill="#111"/>
<line x1="643.29" y1="44.80" x2="650.81" y2="44.80" stroke="#111" stroke-width="0.9" />
<line x1="643.29" y1="43.40" x2="643.29" y2="46.20" stroke="#111" stroke-width="0.9" />
<line x1="650.81" y1="43.40" x2="650.81" y2="46.20" stroke="#111" stroke-width="0.9" />
<line x1="647.05" y1="41.77" x2="647.05" y2="47.83" stroke="#111" stroke-width="0.9" />
<line x1="645.65" y1="41.77" x2="648.45" y2="41.77" stroke="#111" stroke-width="0.9" />
<line x1="645.65" y1="47.83" x2="648.45" y2="47.83" stroke="#111" stroke-width="0.9" />
<circle cx="647.05" cy="44.80" r="2.7" fill="#111"/>
<line x1="632.40" y1="53.29" x2="641.42" y2="53.29" stroke="#111" stroke-width="0.9" />
<line x1="632.40" y1="51.89" x2="632.40" y2="54.69" stroke="#111" stroke-width="0.9" />
<line x1="641.42" y1="51.89" x2="641.42" y2="54.69" stroke="#111" stroke-width="0.9" />
<line x1="636.91" y1="49.65" x2="636.91" y2="56.92" stroke="#111" stroke-width="0.9" />
<line x1="635.51" y1="49.65" x2="638.31" y2="49.65" stroke="#111" stroke-width="0.9" />
<line x1="635.51" y1="56.92" x2="638.31" y2="56.92" stroke="#111" stroke-width="0.9" />
<circle cx="636.91" cy="53.29" r="2.7" fill="#111"/>
<line x1="626.91" y1="57.53" x2="634.43" y2="57.53" stroke="#111" stroke-width="0.9" />
<line x1="626.91" y1="56.13" x2="626.91" y2="58.93" stroke="#111" stroke-width="0.9" />
<line x1="634.43" y1="56.13" x2="634.43" y2="58.93" stroke="#111" stroke-width="0.9" />
<line x1="630.67" y1="52.68" x2="630.67" y2="62.38" stroke="#111" stroke-width="0.9" />
<line x1="629.27" y1="52.68" x2="632.07" y2="52.68" stroke="#111" stroke-width="0.9" />
<line x1="629.27" y1="62.38" x2="632.07" y2="62.38" stroke="#111" stroke-width="0.9" />
<circle cx="630.67" cy="57.53" r="2.7" fill="#111"/>
<line x1="621.88" y1="62.38" x2="627.89" y2="62.38" stroke="#111" stroke-width="0.9" />
<line x1="621.88" y1="60.98" x2="621.88" y2="63.78" stroke="#111" stroke-width="0.9" />
<line x1="627.89" y1="60.98" x2="627.89" y2="63.78" stroke="#111" stroke-width="0.9" />
<line x1="624.88" y1="59.95" x2="624.88" y2="64.80" stroke="#111" stroke-width="0.9" />
<line x1="623.48" y1="59.95" x2="626.28" y2="59.95" stroke="#111" stroke-width="0.9" />
<line x1="623.48" y1="64.80" x2="626.28" y2="64.80" stroke="#111" stroke-width="0.9" />
<circle cx="624.88" cy="62.38" r="2.7" fill="#111"/>
<line x1="612.86" y1="67.23" x2="621.88" y2="67.23" stroke="#111" stroke-width="0.9" />
<line x1="612.86" y1="65.83" x2="612.86" y2="68.63" stroke="#111" stroke-width="0.9" />
<line x1="621.88" y1="65.83" x2="621.88" y2="68.63" stroke="#111" stroke-width="0.9" />
<line x1="617.37" y1="62.98" x2="617.37" y2="71.47" stroke="#111" stroke-width="0.9" />
<line x1="615.97" y1="62.98" x2="618.77" y2="62.98" stroke="#111" stroke-width="0.9" />
<line x1="615.97" y1="71.47" x2="618.77" y2="71.47" stroke="#111" stroke-width="0.9" />
<circle cx="617.37" cy="67.23" r="2.7" fill="#111"/>
<line x1="608.35" y1="73.29" x2="612.86" y2="73.29" stroke="#111" stroke-width="0.9" />
<line x1="608.35" y1="71.89" x2="608.35" y2="74.69" stroke="#111" stroke-width="0.9" />
<line x1="612.86" y1="71.89" x2="612.86" y2="74.69" stroke="#111" stroke-width="0.9" />
<line x1="610.60" y1="71.47" x2="610.60" y2="75.11" stroke="#111" stroke-width="0.9" />
<line x1="609.20" y1="71.47" x2="612.00" y2="71.47" stroke="#111" stroke-width="0.9" />
<line x1="609.20" y1="75.11" x2="612.00" y2="75.11" stroke="#111" stroke-width="0.9" />
<circle cx="610.60" cy="73.29" r="2.7" fill="#111"/>
<line x1="602.34" y1="78.38" x2="608.35" y2="78.38" stroke="#111" stroke-width="0.9" />
<line x1="602.34" y1="76.98" x2="602.34" y2="79.78" stroke="#111" stroke-width="0.9" />
<line x1="608.35" y1="76.98" x2="608.35" y2="79.78" stroke="#111" stroke-width="0.9" />
<line x1="605.34" y1="75.35" x2="605.34" y2="81.41" stroke="#111" stroke-width="0.9" />
<line x1="603.94" y1="75.35" x2="606.74" y2="75.35" stroke="#111" stroke-width="0.9" />
<line x1="603.94" y1="81.41" x2="606.74" y2="81.41" stroke="#111" stroke-width="0.9" />
<circle cx="605.34" cy="78.38" r="2.7" fill="#111"/>
<line x1="596.32" y1="81.77" x2="605.34" y2="81.77" stroke="#111" stroke-width="0.9" />
<line x1="596.32" y1="80.37" x2="596.32" y2="83.17" stroke="#111" stroke-width="0.9" />
<line x1="605.34" y1="80.37" x2="605.34" y2="83.17" stroke="#111" stroke-width="0.9" />
<line x1="600.83" y1="76.92" x2="600.83" y2="86.62" stroke="#111" stroke-width="0.9" />
<line x1="599.43" y1="76.92" x2="602.23" y2="76.92" stroke="#111" stroke-width="0.9" />
<line x1="599.43" y1="86.62" x2="602.23" y2="86.62" stroke="#111" stroke-width="0.9" />
<circle cx="600.83" cy="81.77" r="2.7" fill="#111"/>
<line x1="595.57" y1="84.98" x2="600.08" y2="84.98" stroke="#111" stroke-width="0.9" />
<line x1="595.57" y1="83.58" x2="595.57" y2="86.38" stroke="#111" stroke-width="0.9" />
<line x1="600.08" y1="83.58" x2="600.08" y2="86.38" stroke="#111" stroke-width="0.9" />
<line x1="597.83" y1="81.35" x2="597.83" y2="88.62" stroke="#111" stroke-width="0.9" />
<line x1="596.43" y1="81.35" x2="599.23" y2="81.35" stroke="#111" stroke-width="0.9" />
<line x1="596.43" y1="88.62" x2="599.23" y2="88.62" stroke="#111" stroke-width="0.9" />
<circle cx="597.83" cy="84.98" r="2.7" fill="#111"/>
<line x1="589.56" y1="87.23" x2="597.08" y2="87.23" stroke="#111" stroke-width="0.9" />
<line x1="589.56" y1="85.83" x2="589.56" y2="88.63" stroke="#111" stroke-width="0.9" />
<line x1="597.08" y1="85.83" x2="597.08" y2="88.63" stroke="#111" stroke-width="0.9" />
<line x1="593.32" y1="84.20" x2="593.32" y2="90.26" stroke="#111" stroke-width="0.9" />
<line x1="591.92" y1="84.20" x2="594.72" y2="84.20" stroke="#111" stroke-width="0.9" />
<line x1="591.92" y1="90.26" x2="594.72" y2="90.26" stroke="#111" stroke-width="0.9" />
<circle cx="593.32" cy="87.23" r="2.7" fill="#111"/>
<line x1="582.05" y1="89.05" x2="595.57" y2="89.05" stroke="#111" stroke-width="0.9" />
<line x1="582.05" y1="87.65" x2="582.05" y2="90.45" stroke="#111" stroke-width="0.9" />
<line x1="595.57" y1="87.65" x2="595.57" y2="90.45" stroke="#111" stroke-width="0.9" />
<line x1="588.81" y1="84.20" x2="588.81" y2="93.89" stroke="#111" stroke-width="0.9" />
<line x1="587.41" y1="84.20" x2="590.21" y2="84.20" stroke="#111" stroke-width="0.9" />
<line x1="587.41" y1="93.89" x2="590.21" y2="93.89" stroke="#111" stroke-width="0.9" />
<circle cx="588.81" cy="89.05" r="2.7" fill="#111"/>
<line x1="579.79" y1="97.53" x2="582.80" y2="97.53" stroke="#111" stroke-width="0.9" />
<line x1="579.79" y1="96.13" x2="579.79" y2="98.93" stroke="#111" stroke-width="0.9" />
<line x1="582.80" y1="96.13" x2="582.80" y2="98.93" stroke="#111" stroke-width="0.9" />
<line x1="581.29" y1="96.32" x2="581.29" y2="98.74" stroke="#111" stroke-width="0.9" />
<line x1="579.89" y1="96.32" x2="582.69" y2="96.32" stroke="#111" stroke-width="0.9" />
<line x1="579.89" y1="98.74" x2="582.69" y2="98.74" stroke="#111" stroke-width="0.9" />
<circle cx="581.29" cy="97.53" r="2.7" fill="#111"/>
<line x1="576.48" y1="99.35" x2="579.49" y2="99.35" stroke="#111" stroke-width="0.9" />
<line x1="576.48" y1="97.95" x2="576.48" y2="100.75" stroke="#111" stroke-width="0.9" />
<line x1="579.49" y1="97.95" x2="579.49" y2="100.75" stroke="#111" stroke-width="0.9" />
<line x1="577.99" y1="98.14" x2="577.99" y2="100.56" stroke="#111" stroke-width="0.9" />
<line x1="576.59" y1="98.14" x2="579.39" y2="98.14" stroke="#111" stroke-width="0.9" />
<line x1="576.59" y1="100.56" x2="579.39" y2="100.56" stroke="#111" stroke-width="0.9" />
<circle cx="577.99" cy="99.35" r="2.7" fill="#111"/>
<line x1="570.77" y1="104.80" x2="573.78" y2="104.80" stroke="#111" stroke-width="0.9" />
<line x1="570.77" y1="103.40" x2="570.77" y2="106.20" stroke="#111" stroke-width="0.9" />
<line x1="573.78" y1="103.40" x2="573.78" y2="106.20" stroke="#111" stroke-width="0.9" />
<line x1="572.28" y1="103.59" x2="572.28" y2="106.02" stroke="#111" stroke-width="0.9" />
<line x1="570.88" y1="103.59" x2="573.68" y2="103.59" stroke="#111" stroke-width="0.9" />
<line x1="570.88" y1="106.02" x2="573.68" y2="106.02" stroke="#111" stroke-width="0.9" />
<circle cx="572.28" cy="104.80" r="2.7" fill="#111"/>
<line x1="569.27" y1="106.02" x2="572.28" y2="106.02" stroke="#111" stroke-width="0.9" />
<line x1="569.27" y1="104.62" x2="569.27" y2="107.42" stroke="#111" stroke-width="0.9" />
<line x1="572.28" y1="104.62" x2="572.28" y2="107.42" stroke="#111" stroke-width="0.9" />
<line x1="570.77" y1="104.80" x2="570.77" y2="107.23" stroke="#111" stroke-width="0.9" />
<line x1="569.37" y1="104.80" x2="572.17" y2="104.80" stroke="#111" stroke-width="0.9" />
<line x1="569.37" y1="107.23" x2="572.17" y2="107.23" stroke="#111" stroke-width="0.9" />
<circle cx="570.77" cy="106.02" r="2.7" fill="#111"/>
<line x1="573.78" y1="102.98" x2="575.28" y2="102.98" stroke="#111" stroke-width="0.9" />
<line x1="573.78" y1="101.58" x2="573.78" y2="104.38" stroke="#111" stroke-width="0.9" />
<line x1="575.28" y1="101.58" x2="575.28" y2="104.38" stroke="#111" stroke-width="0.9" />
<line x1="574.53" y1="102.38" x2="574.53" y2="103.59" stroke="#111" stroke-width="0.9" />
<line x1="573.13" y1="102.38" x2="575.93" y2="102.38" stroke="#111" stroke-width="0.9" />
<line x1="573.13" y1="103.59" x2="575.93" y2="103.59" stroke="#111" stroke-width="0.9" />
<circle cx="574.53" cy="102.98" r="2.7" fill="#111"/>
<line x1="594.07" y1="84.20" x2="600.08" y2="84.20" stroke="#111" stroke-width="0.9" />
<line x1="594.07" y1="82.80" x2="594.07" y2="85.60" stroke="#111" stroke-width="0.9" />
<line x1="600.08" y1="82.80" x2="600.08" y2="85.60" stroke="#111" stroke-width="0.9" />
<line x1="597.08" y1="81.77" x2="597.08" y2="86.62" stroke="#111" stroke-width="0.9" />
<line x1="595.68" y1="81.77" x2="598.48" y2="81.77" stroke="#111" stroke-width="0.9" />
<line x1="595.68" y1="86.62" x2="598.48" y2="86.62" stroke="#111" stroke-width="0.9" />
<circle cx="597.08" cy="84.20" r="2.7" fill="#111"/>
<line x1="600.83" y1="79.95" x2="605.34" y2="79.95" stroke="#111" stroke-width="0.9" />
<line x1="600.83" y1="78.55" x2="600.83" y2="81.35" stroke="#111" stroke-width="0.9" />
<line x1="605.34" y1="78.55" x2="605.34" y2="81.35" stroke="#111" stroke-width="0.9" />
<line x1="603.09" y1="78.14" x2="603.09" y2="81.77" stroke="#111" stroke-width="0.9" />
<line x1="601.69" y1="78.14" x2="604.49" y2="78.14" stroke="#111" stroke-width="0.9" />
<line x1="601.69" y1="81.77" x2="604.49" y2="81.77" stroke="#111" stroke-width="0.9" />
<circle cx="603.09" cy="79.95" r="2.7" fill="#111"/>
<line x1="630.89" y1="55.11" x2="636.91" y2="55.11" stroke="#111" stroke-width="0.9" />
<line x1="630.89" y1="53.71" x2="630.89" y2="56.51" stroke="#111" stroke-width="0.9" />
<line x1="636.91" y1="53.71" x2="636.91" y2="56.51" stroke="#111" stroke-width="0.9" />
<line x1="633.90" y1="51.47" x2="633.90" y2="58.74" stroke="#111" stroke-width="0.9" />
<line x1="632.50" y1="51.47" x2="635.30" y2="51.47" stroke="#111" stroke-width="0.9" />
<line x1="632.50" y1="58.74" x2="635.30" y2="58.74" stroke="#111" stroke-width="0.9" />
<circle cx="633.90" cy="55.11" r="2.7" fill="#111"/>
<line x1="626.38" y1="57.53" x2="630.89" y2="57.53" stroke="#111" stroke-width="0.9" />
<line x1="626.38" y1="56.13" x2="626.38" y2="58.93" stroke="#111" stroke-width="0.9" />
<line x1="630.89" y1="56.13" x2="630.89" y2="58.93" stroke="#111" stroke-width="0.9" />
<line x1="628.64" y1="55.71" x2="628.64" y2="59.35" stroke="#111" stroke-width="0.9" />
<line x1="627.24" y1="55.71" x2="630.04" y2="55.71" stroke="#111" stroke-width="0.9" />
<line x1="627.24" y1="59.35" x2="630.04" y2="59.35" stroke="#111" stroke-width="0.9" />
<circle cx="628.64" cy="57.53" r="2.7" fill="#111"/>
<text x="540.40" y="8.70" font-size="12.8" text-anchor="start" font-weight="bold" fill="#111" stroke="#111" stroke-width="0.1" >(e)</text>
<text transform="translate(521.2,63.0) rotate(-90)" font-size="12" text-anchor="middle" fill="#1a1a1a" stroke="#1a1a1a" stroke-width="0.15">ϕ<tspan font-size="7" dy="3.2">ex</tspan><tspan dy="-3.2"> GB1</tspan><tspan font-size="7" dy="3.8">dia</tspan><tspan dy="-3.8">(combined)</tspan></text>
<text transform="translate(533.0,63.9) rotate(-90)" font-size="12" text-anchor="middle" fill="#1a1a1a" stroke="#1a1a1a" stroke-width="0.15" word-spacing="0.5">/ ×10<tspan font-size="7.2" dy="-4.8">3</tspan><tspan dy="4.8"> rad</tspan><tspan font-size="7.2" dy="-4.8">2</tspan><tspan dy="4.8"> s</tspan><tspan font-size="7.2" dy="-4.8">-2</tspan></text>
<text x="622.00" y="147.50" font-size="12.3" text-anchor="middle" font-weight="normal" fill="#1a1a1a" stroke="#1a1a1a" stroke-width="0.15" >ϕ<tspan font-size="7" dy="3.2">ex</tspan><tspan dy="-3.2"> GB1</tspan><tspan font-size="7" dy="3.8">dia</tspan><tspan dy="-3.8"> (α + β)</tspan></text>
<text x="622.50" y="161.90" font-size="12" text-anchor="middle" font-weight="normal" fill="#1a1a1a" stroke="#1a1a1a" stroke-width="0.15" word-spacing="0.5">/ ×10<tspan font-size="7.2" dy="-4.8">3</tspan><tspan dy="4.8"> rad</tspan><tspan font-size="7.2" dy="-4.8">2</tspan><tspan dy="4.8"> s</tspan><tspan font-size="7.2" dy="-4.8">-2</tspan></text>
<line x1="559.5" y1="281.5" x2="683.5" y2="182.5" stroke="#9a9a9a" stroke-width="1.7"/>
<rect x="559.5" y="182.5" width="124.00" height="99.00" fill="none" stroke="#3a3a3a" stroke-width="1.3"/>
<line x1="570.77" y1="281.50" x2="570.77" y2="283.50" stroke="#444" stroke-width="0.9" />
<line x1="557.50" y1="272.50" x2="559.50" y2="272.50" stroke="#444" stroke-width="0.9" />
<line x1="589.56" y1="281.50" x2="589.56" y2="283.50" stroke="#444" stroke-width="0.9" />
<line x1="557.50" y1="257.50" x2="559.50" y2="257.50" stroke="#444" stroke-width="0.9" />
<line x1="608.35" y1="281.50" x2="608.35" y2="283.50" stroke="#444" stroke-width="0.9" />
<line x1="557.50" y1="242.50" x2="559.50" y2="242.50" stroke="#444" stroke-width="0.9" />
<line x1="627.14" y1="281.50" x2="627.14" y2="283.50" stroke="#444" stroke-width="0.9" />
<line x1="557.50" y1="227.50" x2="559.50" y2="227.50" stroke="#444" stroke-width="0.9" />
<line x1="645.92" y1="281.50" x2="645.92" y2="283.50" stroke="#444" stroke-width="0.9" />
<line x1="557.50" y1="212.50" x2="559.50" y2="212.50" stroke="#444" stroke-width="0.9" />
<line x1="664.71" y1="281.50" x2="664.71" y2="283.50" stroke="#444" stroke-width="0.9" />
<line x1="557.50" y1="197.50" x2="559.50" y2="197.50" stroke="#444" stroke-width="0.9" />
<text x="589.56" y="294.80" font-size="8.8" text-anchor="middle" font-weight="normal" fill="#1a1a1a" stroke="#1a1a1a" stroke-width="0.15" >50</text>
<text x="556.50" y="260.60" font-size="8.8" text-anchor="end" font-weight="normal" fill="#1a1a1a" stroke="#1a1a1a" stroke-width="0.15" >50</text>
<text x="627.14" y="294.80" font-size="8.8" text-anchor="middle" font-weight="normal" fill="#1a1a1a" stroke="#1a1a1a" stroke-width="0.15" >100</text>
<text x="556.50" y="230.60" font-size="8.8" text-anchor="end" font-weight="normal" fill="#1a1a1a" stroke="#1a1a1a" stroke-width="0.15" >100</text>
<text x="664.71" y="294.80" font-size="8.8" text-anchor="middle" font-weight="normal" fill="#1a1a1a" stroke="#1a1a1a" stroke-width="0.15" >150</text>
<text x="556.50" y="200.60" font-size="8.8" text-anchor="end" font-weight="normal" fill="#1a1a1a" stroke="#1a1a1a" stroke-width="0.15" >150</text>
<text x="667.50" y="192.40" font-size="9.7" text-anchor="end" font-weight="normal" fill="#a0a0a0" stroke="#a0a0a0" stroke-width="0.15" >R = 0.9440</text>
<line x1="613.61" y1="212.74" x2="649.68" y2="212.74" stroke="#111" stroke-width="0.9" />
<line x1="613.61" y1="211.34" x2="613.61" y2="214.14" stroke="#111" stroke-width="0.9" />
<line x1="649.68" y1="211.34" x2="649.68" y2="214.14" stroke="#111" stroke-width="0.9" />
<line x1="631.65" y1="196.84" x2="631.65" y2="228.64" stroke="#111" stroke-width="0.9" />
<line x1="630.25" y1="196.84" x2="633.05" y2="196.84" stroke="#111" stroke-width="0.9" />
<line x1="630.25" y1="228.64" x2="633.05" y2="228.64" stroke="#111" stroke-width="0.9" />
<circle cx="631.65" cy="212.74" r="2.7" fill="#111"/>
<line x1="629.09" y1="214.54" x2="647.73" y2="214.54" stroke="#111" stroke-width="0.9" />
<line x1="629.09" y1="213.14" x2="629.09" y2="215.94" stroke="#111" stroke-width="0.9" />
<line x1="647.73" y1="213.14" x2="647.73" y2="215.94" stroke="#111" stroke-width="0.9" />
<line x1="638.41" y1="203.56" x2="638.41" y2="225.52" stroke="#111" stroke-width="0.9" />
<line x1="637.01" y1="203.56" x2="639.81" y2="203.56" stroke="#111" stroke-width="0.9" />
<line x1="637.01" y1="225.52" x2="639.81" y2="225.52" stroke="#111" stroke-width="0.9" />
<circle cx="638.41" cy="214.54" r="2.7" fill="#111"/>
<line x1="612.56" y1="230.56" x2="634.50" y2="230.56" stroke="#111" stroke-width="0.9" />
<line x1="612.56" y1="229.16" x2="612.56" y2="231.96" stroke="#111" stroke-width="0.9" />
<line x1="634.50" y1="229.16" x2="634.50" y2="231.96" stroke="#111" stroke-width="0.9" />
<line x1="623.53" y1="220.96" x2="623.53" y2="240.16" stroke="#111" stroke-width="0.9" />
<line x1="622.13" y1="220.96" x2="624.93" y2="220.96" stroke="#111" stroke-width="0.9" />
<line x1="622.13" y1="240.16" x2="624.93" y2="240.16" stroke="#111" stroke-width="0.9" />
<circle cx="623.53" cy="230.56" r="2.7" fill="#111"/>
<line x1="611.35" y1="235.42" x2="622.33" y2="235.42" stroke="#111" stroke-width="0.9" />
<line x1="611.35" y1="234.02" x2="611.35" y2="236.82" stroke="#111" stroke-width="0.9" />
<line x1="622.33" y1="234.02" x2="622.33" y2="236.82" stroke="#111" stroke-width="0.9" />
<line x1="616.84" y1="227.02" x2="616.84" y2="243.82" stroke="#111" stroke-width="0.9" />
<line x1="615.44" y1="227.02" x2="618.24" y2="227.02" stroke="#111" stroke-width="0.9" />
<line x1="615.44" y1="243.82" x2="618.24" y2="243.82" stroke="#111" stroke-width="0.9" />
<circle cx="616.84" cy="235.42" r="2.7" fill="#111"/>
<line x1="611.66" y1="239.08" x2="623.23" y2="239.08" stroke="#111" stroke-width="0.9" />
<line x1="611.66" y1="237.68" x2="611.66" y2="240.48" stroke="#111" stroke-width="0.9" />
<line x1="623.23" y1="237.68" x2="623.23" y2="240.48" stroke="#111" stroke-width="0.9" />
<line x1="617.44" y1="236.08" x2="617.44" y2="242.08" stroke="#111" stroke-width="0.9" />
<line x1="616.04" y1="236.08" x2="618.84" y2="236.08" stroke="#111" stroke-width="0.9" />
<line x1="616.04" y1="242.08" x2="618.84" y2="242.08" stroke="#111" stroke-width="0.9" />
<circle cx="617.44" cy="239.08" r="2.7" fill="#111"/>
<line x1="603.31" y1="240.28" x2="610.83" y2="240.28" stroke="#111" stroke-width="0.9" />
<line x1="603.31" y1="238.88" x2="603.31" y2="241.68" stroke="#111" stroke-width="0.9" />
<line x1="610.83" y1="238.88" x2="610.83" y2="241.68" stroke="#111" stroke-width="0.9" />
<line x1="607.07" y1="235.12" x2="607.07" y2="245.44" stroke="#111" stroke-width="0.9" />
<line x1="605.67" y1="235.12" x2="608.47" y2="235.12" stroke="#111" stroke-width="0.9" />
<line x1="605.67" y1="245.44" x2="608.47" y2="245.44" stroke="#111" stroke-width="0.9" />
<circle cx="607.07" cy="240.28" r="2.7" fill="#111"/>
<line x1="605.19" y1="243.82" x2="612.71" y2="243.82" stroke="#111" stroke-width="0.9" />
<line x1="605.19" y1="242.42" x2="605.19" y2="245.22" stroke="#111" stroke-width="0.9" />
<line x1="612.71" y1="242.42" x2="612.71" y2="245.22" stroke="#111" stroke-width="0.9" />
<line x1="608.95" y1="240.82" x2="608.95" y2="246.82" stroke="#111" stroke-width="0.9" />
<line x1="607.55" y1="240.82" x2="610.35" y2="240.82" stroke="#111" stroke-width="0.9" />
<line x1="607.55" y1="246.82" x2="610.35" y2="246.82" stroke="#111" stroke-width="0.9" />
<circle cx="608.95" cy="243.82" r="2.7" fill="#111"/>
<line x1="597.08" y1="244.42" x2="607.45" y2="244.42" stroke="#111" stroke-width="0.9" />
<line x1="597.08" y1="243.02" x2="597.08" y2="245.82" stroke="#111" stroke-width="0.9" />
<line x1="607.45" y1="243.02" x2="607.45" y2="245.82" stroke="#111" stroke-width="0.9" />
<line x1="602.26" y1="239.56" x2="602.26" y2="249.28" stroke="#111" stroke-width="0.9" />
<line x1="600.86" y1="239.56" x2="603.66" y2="239.56" stroke="#111" stroke-width="0.9" />
<line x1="600.86" y1="249.28" x2="603.66" y2="249.28" stroke="#111" stroke-width="0.9" />
<circle cx="602.26" cy="244.42" r="2.7" fill="#111"/>
<line x1="593.39" y1="248.14" x2="630.52" y2="248.14" stroke="#111" stroke-width="0.9" />
<line x1="593.39" y1="246.74" x2="593.39" y2="249.54" stroke="#111" stroke-width="0.9" />
<line x1="630.52" y1="246.74" x2="630.52" y2="249.54" stroke="#111" stroke-width="0.9" />
<line x1="611.96" y1="230.74" x2="611.96" y2="265.54" stroke="#111" stroke-width="0.9" />
<line x1="610.56" y1="230.74" x2="613.36" y2="230.74" stroke="#111" stroke-width="0.9" />
<line x1="610.56" y1="265.54" x2="613.36" y2="265.54" stroke="#111" stroke-width="0.9" />
<circle cx="611.96" cy="248.14" r="2.7" fill="#111"/>
<line x1="593.69" y1="251.68" x2="603.46" y2="251.68" stroke="#111" stroke-width="0.9" />
<line x1="593.69" y1="250.28" x2="593.69" y2="253.08" stroke="#111" stroke-width="0.9" />
<line x1="603.46" y1="250.28" x2="603.46" y2="253.08" stroke="#111" stroke-width="0.9" />
<line x1="598.58" y1="248.68" x2="598.58" y2="254.68" stroke="#111" stroke-width="0.9" />
<line x1="597.18" y1="248.68" x2="599.98" y2="248.68" stroke="#111" stroke-width="0.9" />
<line x1="597.18" y1="254.68" x2="599.98" y2="254.68" stroke="#111" stroke-width="0.9" />
<circle cx="598.58" cy="251.68" r="2.7" fill="#111"/>
<line x1="580.92" y1="250.54" x2="604.06" y2="250.54" stroke="#111" stroke-width="0.9" />
<line x1="580.92" y1="249.14" x2="580.92" y2="251.94" stroke="#111" stroke-width="0.9" />
<line x1="604.06" y1="249.14" x2="604.06" y2="251.94" stroke="#111" stroke-width="0.9" />
<line x1="592.49" y1="240.22" x2="592.49" y2="260.86" stroke="#111" stroke-width="0.9" />
<line x1="591.09" y1="240.22" x2="593.89" y2="240.22" stroke="#111" stroke-width="0.9" />
<line x1="591.09" y1="260.86" x2="593.89" y2="260.86" stroke="#111" stroke-width="0.9" />
<circle cx="592.49" cy="250.54" r="2.7" fill="#111"/>
<line x1="579.72" y1="252.28" x2="599.26" y2="252.28" stroke="#111" stroke-width="0.9" />
<line x1="579.72" y1="250.88" x2="579.72" y2="253.68" stroke="#111" stroke-width="0.9" />
<line x1="599.26" y1="250.88" x2="599.26" y2="253.68" stroke="#111" stroke-width="0.9" />
<line x1="589.49" y1="247.48" x2="589.49" y2="257.08" stroke="#111" stroke-width="0.9" />
<line x1="588.09" y1="247.48" x2="590.89" y2="247.48" stroke="#111" stroke-width="0.9" />
<line x1="588.09" y1="257.08" x2="590.89" y2="257.08" stroke="#111" stroke-width="0.9" />
<circle cx="589.49" cy="252.28" r="2.7" fill="#111"/>
<line x1="583.70" y1="265.00" x2="602.49" y2="265.00" stroke="#111" stroke-width="0.9" />
<line x1="583.70" y1="263.60" x2="583.70" y2="266.40" stroke="#111" stroke-width="0.9" />
<line x1="602.49" y1="263.60" x2="602.49" y2="266.40" stroke="#111" stroke-width="0.9" />
<line x1="593.09" y1="255.40" x2="593.09" y2="274.60" stroke="#111" stroke-width="0.9" />
<line x1="591.69" y1="255.40" x2="594.49" y2="255.40" stroke="#111" stroke-width="0.9" />
<line x1="591.69" y1="274.60" x2="594.49" y2="274.60" stroke="#111" stroke-width="0.9" />
<circle cx="593.09" cy="265.00" r="2.7" fill="#111"/>
<line x1="575.51" y1="263.80" x2="581.52" y2="263.80" stroke="#111" stroke-width="0.9" />
<line x1="575.51" y1="262.40" x2="575.51" y2="265.20" stroke="#111" stroke-width="0.9" />
<line x1="581.52" y1="262.40" x2="581.52" y2="265.20" stroke="#111" stroke-width="0.9" />
<line x1="578.51" y1="261.40" x2="578.51" y2="266.20" stroke="#111" stroke-width="0.9" />
<line x1="577.11" y1="261.40" x2="579.91" y2="261.40" stroke="#111" stroke-width="0.9" />
<line x1="577.11" y1="266.20" x2="579.91" y2="266.20" stroke="#111" stroke-width="0.9" />
<circle cx="578.51" cy="263.80" r="2.7" fill="#111"/>
<line x1="573.78" y1="264.70" x2="578.29" y2="264.70" stroke="#111" stroke-width="0.9" />
<line x1="573.78" y1="263.30" x2="573.78" y2="266.10" stroke="#111" stroke-width="0.9" />
<line x1="578.29" y1="263.30" x2="578.29" y2="266.10" stroke="#111" stroke-width="0.9" />
<line x1="576.03" y1="262.90" x2="576.03" y2="266.50" stroke="#111" stroke-width="0.9" />
<line x1="574.63" y1="262.90" x2="577.43" y2="262.90" stroke="#111" stroke-width="0.9" />
<line x1="574.63" y1="266.50" x2="577.43" y2="266.50" stroke="#111" stroke-width="0.9" />
<circle cx="576.03" cy="264.70" r="2.7" fill="#111"/>
<line x1="577.54" y1="264.70" x2="583.55" y2="264.70" stroke="#111" stroke-width="0.9" />
<line x1="577.54" y1="263.30" x2="577.54" y2="266.10" stroke="#111" stroke-width="0.9" />
<line x1="583.55" y1="263.30" x2="583.55" y2="266.10" stroke="#111" stroke-width="0.9" />
<line x1="580.54" y1="262.30" x2="580.54" y2="267.10" stroke="#111" stroke-width="0.9" />
<line x1="579.14" y1="262.30" x2="581.94" y2="262.30" stroke="#111" stroke-width="0.9" />
<line x1="579.14" y1="267.10" x2="581.94" y2="267.10" stroke="#111" stroke-width="0.9" />
<circle cx="580.54" cy="264.70" r="2.7" fill="#111"/>
<line x1="576.03" y1="265.90" x2="580.54" y2="265.90" stroke="#111" stroke-width="0.9" />
<line x1="576.03" y1="264.50" x2="576.03" y2="267.30" stroke="#111" stroke-width="0.9" />
<line x1="580.54" y1="264.50" x2="580.54" y2="267.30" stroke="#111" stroke-width="0.9" />
<line x1="578.29" y1="263.50" x2="578.29" y2="268.30" stroke="#111" stroke-width="0.9" />
<line x1="576.89" y1="263.50" x2="579.69" y2="263.50" stroke="#111" stroke-width="0.9" />
<line x1="576.89" y1="268.30" x2="579.69" y2="268.30" stroke="#111" stroke-width="0.9" />
<circle cx="578.29" cy="265.90" r="2.7" fill="#111"/>
<line x1="579.79" y1="263.50" x2="584.30" y2="263.50" stroke="#111" stroke-width="0.9" />
<line x1="579.79" y1="262.10" x2="579.79" y2="264.90" stroke="#111" stroke-width="0.9" />
<line x1="584.30" y1="262.10" x2="584.30" y2="264.90" stroke="#111" stroke-width="0.9" />
<line x1="582.05" y1="261.70" x2="582.05" y2="265.30" stroke="#111" stroke-width="0.9" />
<line x1="580.65" y1="261.70" x2="583.45" y2="261.70" stroke="#111" stroke-width="0.9" />
<line x1="580.65" y1="265.30" x2="583.45" y2="265.30" stroke="#111" stroke-width="0.9" />
<circle cx="582.05" cy="263.50" r="2.7" fill="#111"/>
<text x="540.40" y="178.20" font-size="12.8" text-anchor="start" font-weight="bold" fill="#111" stroke="#111" stroke-width="0.1" >(f)</text>
<text transform="translate(521.2,230.5) rotate(-90)" font-size="12" text-anchor="middle" fill="#1a1a1a" stroke="#1a1a1a" stroke-width="0.15">ϕ<tspan font-size="7" dy="3.2">ex</tspan><tspan dy="-3.2"> GB1</tspan><tspan font-size="7" dy="3.8">pre</tspan><tspan dy="-3.8">(combined)</tspan></text>
<text transform="translate(533.0,231.4) rotate(-90)" font-size="12" text-anchor="middle" fill="#1a1a1a" stroke="#1a1a1a" stroke-width="0.15" word-spacing="0.5">/ ×10<tspan font-size="7.2" dy="-4.8">3</tspan><tspan dy="4.8"> rad</tspan><tspan font-size="7.2" dy="-4.8">2</tspan><tspan dy="4.8"> s</tspan><tspan font-size="7.2" dy="-4.8">-2</tspan></text>
<text x="622.00" y="314.50" font-size="12.3" text-anchor="middle" font-weight="normal" fill="#1a1a1a" stroke="#1a1a1a" stroke-width="0.15" >ϕ<tspan font-size="7" dy="3.2">ex</tspan><tspan dy="-3.2"> GB1</tspan><tspan font-size="7" dy="3.8">pre</tspan><tspan dy="-3.8"> (α + β)</tspan></text>
<text x="622.50" y="328.90" font-size="12" text-anchor="middle" font-weight="normal" fill="#1a1a1a" stroke="#1a1a1a" stroke-width="0.15" word-spacing="0.5">/ ×10<tspan font-size="7.2" dy="-4.8">3</tspan><tspan dy="4.8"> rad</tspan><tspan font-size="7.2" dy="-4.8">2</tspan><tspan dy="4.8"> s</tspan><tspan font-size="7.2" dy="-4.8">-2</tspan></text>
<line x1="559.5" y1="445.5" x2="683.5" y2="345.5" stroke="#9a9a9a" stroke-width="1.7"/>
<rect x="559.5" y="345.5" width="124.00" height="100.00" fill="none" stroke="#3a3a3a" stroke-width="1.3"/>
<line x1="570.77" y1="445.50" x2="570.77" y2="447.50" stroke="#444" stroke-width="0.9" />
<line x1="557.50" y1="436.41" x2="559.50" y2="436.41" stroke="#444" stroke-width="0.9" />
<line x1="589.56" y1="445.50" x2="589.56" y2="447.50" stroke="#444" stroke-width="0.9" />
<line x1="557.50" y1="421.26" x2="559.50" y2="421.26" stroke="#444" stroke-width="0.9" />
<line x1="608.35" y1="445.50" x2="608.35" y2="447.50" stroke="#444" stroke-width="0.9" />
<line x1="557.50" y1="406.11" x2="559.50" y2="406.11" stroke="#444" stroke-width="0.9" />
<line x1="627.14" y1="445.50" x2="627.14" y2="447.50" stroke="#444" stroke-width="0.9" />
<line x1="557.50" y1="390.95" x2="559.50" y2="390.95" stroke="#444" stroke-width="0.9" />
<line x1="645.92" y1="445.50" x2="645.92" y2="447.50" stroke="#444" stroke-width="0.9" />
<line x1="557.50" y1="375.80" x2="559.50" y2="375.80" stroke="#444" stroke-width="0.9" />
<line x1="664.71" y1="445.50" x2="664.71" y2="447.50" stroke="#444" stroke-width="0.9" />
<line x1="557.50" y1="360.65" x2="559.50" y2="360.65" stroke="#444" stroke-width="0.9" />
<text x="589.56" y="458.80" font-size="8.8" text-anchor="middle" font-weight="normal" fill="#1a1a1a" stroke="#1a1a1a" stroke-width="0.15" >50</text>
<text x="556.50" y="424.36" font-size="8.8" text-anchor="end" font-weight="normal" fill="#1a1a1a" stroke="#1a1a1a" stroke-width="0.15" >50</text>
<text x="627.14" y="458.80" font-size="8.8" text-anchor="middle" font-weight="normal" fill="#1a1a1a" stroke="#1a1a1a" stroke-width="0.15" >100</text>
<text x="556.50" y="394.05" font-size="8.8" text-anchor="end" font-weight="normal" fill="#1a1a1a" stroke="#1a1a1a" stroke-width="0.15" >100</text>
<text x="664.71" y="458.80" font-size="8.8" text-anchor="middle" font-weight="normal" fill="#1a1a1a" stroke="#1a1a1a" stroke-width="0.15" >150</text>
<text x="556.50" y="363.75" font-size="8.8" text-anchor="end" font-weight="normal" fill="#1a1a1a" stroke="#1a1a1a" stroke-width="0.15" >150</text>
<text x="667.50" y="355.40" font-size="9.7" text-anchor="end" font-weight="normal" fill="#a0a0a0" stroke="#a0a0a0" stroke-width="0.15" >R = 0.7965</text>
<line x1="609.25" y1="366.71" x2="626.38" y2="366.71" stroke="#111" stroke-width="0.9" />
<line x1="609.25" y1="365.31" x2="609.25" y2="368.11" stroke="#111" stroke-width="0.9" />
<line x1="626.38" y1="365.31" x2="626.38" y2="368.11" stroke="#111" stroke-width="0.9" />
<line x1="617.82" y1="363.38" x2="617.82" y2="370.05" stroke="#111" stroke-width="0.9" />
<line x1="616.42" y1="363.38" x2="619.22" y2="363.38" stroke="#111" stroke-width="0.9" />
<line x1="616.42" y1="370.05" x2="619.22" y2="370.05" stroke="#111" stroke-width="0.9" />
<circle cx="617.82" cy="366.71" r="2.7" fill="#111"/>
<line x1="629.02" y1="375.38" x2="657.57" y2="375.38" stroke="#111" stroke-width="0.9" />
<line x1="629.02" y1="373.98" x2="629.02" y2="376.78" stroke="#111" stroke-width="0.9" />
<line x1="657.57" y1="373.98" x2="657.57" y2="376.78" stroke="#111" stroke-width="0.9" />
<line x1="643.29" y1="370.95" x2="643.29" y2="379.80" stroke="#111" stroke-width="0.9" />
<line x1="641.89" y1="370.95" x2="644.69" y2="370.95" stroke="#111" stroke-width="0.9" />
<line x1="641.89" y1="379.80" x2="644.69" y2="379.80" stroke="#111" stroke-width="0.9" />
<circle cx="643.29" cy="375.38" r="2.7" fill="#111"/>
<line x1="625.86" y1="383.08" x2="665.24" y2="383.08" stroke="#111" stroke-width="0.9" />
<line x1="625.86" y1="381.68" x2="625.86" y2="384.48" stroke="#111" stroke-width="0.9" />
<line x1="665.24" y1="381.68" x2="665.24" y2="384.48" stroke="#111" stroke-width="0.9" />
<line x1="645.55" y1="376.41" x2="645.55" y2="389.74" stroke="#111" stroke-width="0.9" />
<line x1="644.15" y1="376.41" x2="646.95" y2="376.41" stroke="#111" stroke-width="0.9" />
<line x1="644.15" y1="389.74" x2="646.95" y2="389.74" stroke="#111" stroke-width="0.9" />
<circle cx="645.55" cy="383.08" r="2.7" fill="#111"/>
<line x1="580.02" y1="384.59" x2="621.65" y2="384.59" stroke="#111" stroke-width="0.9" />
<line x1="580.02" y1="383.19" x2="580.02" y2="385.99" stroke="#111" stroke-width="0.9" />
<line x1="621.65" y1="383.19" x2="621.65" y2="385.99" stroke="#111" stroke-width="0.9" />
<line x1="600.83" y1="378.53" x2="600.83" y2="390.65" stroke="#111" stroke-width="0.9" />
<line x1="599.43" y1="378.53" x2="602.23" y2="378.53" stroke="#111" stroke-width="0.9" />
<line x1="599.43" y1="390.65" x2="602.23" y2="390.65" stroke="#111" stroke-width="0.9" />
<circle cx="600.83" cy="384.59" r="2.7" fill="#111"/>
<line x1="595.87" y1="387.92" x2="617.82" y2="387.92" stroke="#111" stroke-width="0.9" />
<line x1="595.87" y1="386.52" x2="595.87" y2="389.32" stroke="#111" stroke-width="0.9" />
<line x1="617.82" y1="386.52" x2="617.82" y2="389.32" stroke="#111" stroke-width="0.9" />
<line x1="606.85" y1="381.86" x2="606.85" y2="393.98" stroke="#111" stroke-width="0.9" />
<line x1="605.45" y1="381.86" x2="608.25" y2="381.86" stroke="#111" stroke-width="0.9" />
<line x1="605.45" y1="393.98" x2="608.25" y2="393.98" stroke="#111" stroke-width="0.9" />
<circle cx="606.85" cy="387.92" r="2.7" fill="#111"/>
<line x1="602.49" y1="387.92" x2="624.43" y2="387.92" stroke="#111" stroke-width="0.9" />
<line x1="602.49" y1="386.52" x2="602.49" y2="389.32" stroke="#111" stroke-width="0.9" />
<line x1="624.43" y1="386.52" x2="624.43" y2="389.32" stroke="#111" stroke-width="0.9" />
<line x1="613.46" y1="381.86" x2="613.46" y2="393.98" stroke="#111" stroke-width="0.9" />
<line x1="612.06" y1="381.86" x2="614.86" y2="381.86" stroke="#111" stroke-width="0.9" />
<line x1="612.06" y1="393.98" x2="614.86" y2="393.98" stroke="#111" stroke-width="0.9" />
<circle cx="613.46" cy="387.92" r="2.7" fill="#111"/>
<line x1="598.43" y1="403.68" x2="613.76" y2="403.68" stroke="#111" stroke-width="0.9" />
<line x1="598.43" y1="402.28" x2="598.43" y2="405.08" stroke="#111" stroke-width="0.9" />
<line x1="613.76" y1="402.28" x2="613.76" y2="405.08" stroke="#111" stroke-width="0.9" />
<line x1="606.09" y1="400.35" x2="606.09" y2="407.02" stroke="#111" stroke-width="0.9" />
<line x1="604.69" y1="400.35" x2="607.49" y2="400.35" stroke="#111" stroke-width="0.9" />
<line x1="604.69" y1="407.02" x2="607.49" y2="407.02" stroke="#111" stroke-width="0.9" />
<circle cx="606.09" cy="403.68" r="2.7" fill="#111"/>
<line x1="603.24" y1="407.02" x2="616.46" y2="407.02" stroke="#111" stroke-width="0.9" />
<line x1="603.24" y1="405.62" x2="603.24" y2="408.42" stroke="#111" stroke-width="0.9" />
<line x1="616.46" y1="405.62" x2="616.46" y2="408.42" stroke="#111" stroke-width="0.9" />
<line x1="609.85" y1="404.59" x2="609.85" y2="409.44" stroke="#111" stroke-width="0.9" />
<line x1="608.45" y1="404.59" x2="611.25" y2="404.59" stroke="#111" stroke-width="0.9" />
<line x1="608.45" y1="409.44" x2="611.25" y2="409.44" stroke="#111" stroke-width="0.9" />
<circle cx="609.85" cy="407.02" r="2.7" fill="#111"/>
<line x1="596.85" y1="410.59" x2="608.87" y2="410.59" stroke="#111" stroke-width="0.9" />
<line x1="596.85" y1="409.19" x2="596.85" y2="411.99" stroke="#111" stroke-width="0.9" />
<line x1="608.87" y1="409.19" x2="608.87" y2="411.99" stroke="#111" stroke-width="0.9" />
<line x1="602.86" y1="408.17" x2="602.86" y2="413.02" stroke="#111" stroke-width="0.9" />
<line x1="601.46" y1="408.17" x2="604.26" y2="408.17" stroke="#111" stroke-width="0.9" />
<line x1="601.46" y1="413.02" x2="604.26" y2="413.02" stroke="#111" stroke-width="0.9" />
<circle cx="602.86" cy="410.59" r="2.7" fill="#111"/>
<line x1="612.63" y1="412.17" x2="635.63" y2="412.17" stroke="#111" stroke-width="0.9" />
<line x1="612.63" y1="410.77" x2="612.63" y2="413.57" stroke="#111" stroke-width="0.9" />
<line x1="635.63" y1="410.77" x2="635.63" y2="413.57" stroke="#111" stroke-width="0.9" />
<line x1="624.13" y1="404.41" x2="624.13" y2="419.92" stroke="#111" stroke-width="0.9" />
<line x1="622.73" y1="404.41" x2="625.53" y2="404.41" stroke="#111" stroke-width="0.9" />
<line x1="622.73" y1="419.92" x2="625.53" y2="419.92" stroke="#111" stroke-width="0.9" />
<circle cx="624.13" cy="412.17" r="2.7" fill="#111"/>
<line x1="562.51" y1="418.83" x2="598.58" y2="418.83" stroke="#111" stroke-width="0.9" />
<line x1="562.51" y1="417.43" x2="562.51" y2="420.23" stroke="#111" stroke-width="0.9" />
<line x1="598.58" y1="417.43" x2="598.58" y2="420.23" stroke="#111" stroke-width="0.9" />
<line x1="580.54" y1="417.02" x2="580.54" y2="420.65" stroke="#111" stroke-width="0.9" />
<line x1="579.14" y1="417.02" x2="581.94" y2="417.02" stroke="#111" stroke-width="0.9" />
<line x1="579.14" y1="420.65" x2="581.94" y2="420.65" stroke="#111" stroke-width="0.9" />
<circle cx="580.54" cy="418.83" r="2.7" fill="#111"/>
<line x1="586.48" y1="417.80" x2="606.17" y2="417.80" stroke="#111" stroke-width="0.9" />
<line x1="586.48" y1="416.40" x2="586.48" y2="419.20" stroke="#111" stroke-width="0.9" />
<line x1="606.17" y1="416.40" x2="606.17" y2="419.20" stroke="#111" stroke-width="0.9" />
<line x1="596.32" y1="415.38" x2="596.32" y2="420.23" stroke="#111" stroke-width="0.9" />
<line x1="594.92" y1="415.38" x2="597.72" y2="415.38" stroke="#111" stroke-width="0.9" />
<line x1="594.92" y1="420.23" x2="597.72" y2="420.23" stroke="#111" stroke-width="0.9" />
<circle cx="596.32" cy="417.80" r="2.7" fill="#111"/>
<line x1="588.13" y1="419.44" x2="611.13" y2="419.44" stroke="#111" stroke-width="0.9" />
<line x1="588.13" y1="418.04" x2="588.13" y2="420.84" stroke="#111" stroke-width="0.9" />
<line x1="611.13" y1="418.04" x2="611.13" y2="420.84" stroke="#111" stroke-width="0.9" />
<line x1="599.63" y1="413.92" x2="599.63" y2="424.95" stroke="#111" stroke-width="0.9" />
<line x1="598.23" y1="413.92" x2="601.03" y2="413.92" stroke="#111" stroke-width="0.9" />
<line x1="598.23" y1="424.95" x2="601.03" y2="424.95" stroke="#111" stroke-width="0.9" />
<circle cx="599.63" cy="419.44" r="2.7" fill="#111"/>
<line x1="591.36" y1="427.56" x2="601.28" y2="427.56" stroke="#111" stroke-width="0.9" />
<line x1="591.36" y1="426.16" x2="591.36" y2="428.96" stroke="#111" stroke-width="0.9" />
<line x1="601.28" y1="426.16" x2="601.28" y2="428.96" stroke="#111" stroke-width="0.9" />
<line x1="596.32" y1="425.14" x2="596.32" y2="429.98" stroke="#111" stroke-width="0.9" />
<line x1="594.92" y1="425.14" x2="597.72" y2="425.14" stroke="#111" stroke-width="0.9" />
<line x1="594.92" y1="429.98" x2="597.72" y2="429.98" stroke="#111" stroke-width="0.9" />
<circle cx="596.32" cy="427.56" r="2.7" fill="#111"/>
<line x1="575.43" y1="429.14" x2="588.66" y2="429.14" stroke="#111" stroke-width="0.9" />
<line x1="575.43" y1="427.74" x2="575.43" y2="430.54" stroke="#111" stroke-width="0.9" />
<line x1="588.66" y1="427.74" x2="588.66" y2="430.54" stroke="#111" stroke-width="0.9" />
<line x1="582.05" y1="426.71" x2="582.05" y2="431.56" stroke="#111" stroke-width="0.9" />
<line x1="580.65" y1="426.71" x2="583.45" y2="426.71" stroke="#111" stroke-width="0.9" />
<line x1="580.65" y1="431.56" x2="583.45" y2="431.56" stroke="#111" stroke-width="0.9" />
<circle cx="582.05" cy="429.14" r="2.7" fill="#111"/>
<line x1="577.54" y1="429.74" x2="583.55" y2="429.74" stroke="#111" stroke-width="0.9" />
<line x1="577.54" y1="428.34" x2="577.54" y2="431.14" stroke="#111" stroke-width="0.9" />
<line x1="583.55" y1="428.34" x2="583.55" y2="431.14" stroke="#111" stroke-width="0.9" />
<line x1="580.54" y1="427.92" x2="580.54" y2="431.56" stroke="#111" stroke-width="0.9" />
<line x1="579.14" y1="427.92" x2="581.94" y2="427.92" stroke="#111" stroke-width="0.9" />
<line x1="579.14" y1="431.56" x2="581.94" y2="431.56" stroke="#111" stroke-width="0.9" />
<circle cx="580.54" cy="429.74" r="2.7" fill="#111"/>
<line x1="573.18" y1="435.80" x2="586.40" y2="435.80" stroke="#111" stroke-width="0.9" />
<line x1="573.18" y1="434.40" x2="573.18" y2="437.20" stroke="#111" stroke-width="0.9" />
<line x1="586.40" y1="434.40" x2="586.40" y2="437.20" stroke="#111" stroke-width="0.9" />
<line x1="579.79" y1="434.59" x2="579.79" y2="437.02" stroke="#111" stroke-width="0.9" />
<line x1="578.39" y1="434.59" x2="581.19" y2="434.59" stroke="#111" stroke-width="0.9" />
<line x1="578.39" y1="437.02" x2="581.19" y2="437.02" stroke="#111" stroke-width="0.9" />
<circle cx="579.79" cy="435.80" r="2.7" fill="#111"/>
<line x1="579.04" y1="434.83" x2="585.05" y2="434.83" stroke="#111" stroke-width="0.9" />
<line x1="579.04" y1="433.43" x2="579.04" y2="436.23" stroke="#111" stroke-width="0.9" />
<line x1="585.05" y1="433.43" x2="585.05" y2="436.23" stroke="#111" stroke-width="0.9" />
<line x1="582.05" y1="433.62" x2="582.05" y2="436.05" stroke="#111" stroke-width="0.9" />
<line x1="580.65" y1="433.62" x2="583.45" y2="433.62" stroke="#111" stroke-width="0.9" />
<line x1="580.65" y1="436.05" x2="583.45" y2="436.05" stroke="#111" stroke-width="0.9" />
<circle cx="582.05" cy="434.83" r="2.7" fill="#111"/>
<text x="540.40" y="341.50" font-size="12.8" text-anchor="start" font-weight="bold" fill="#111" stroke="#111" stroke-width="0.1" >(g)</text>
<text transform="translate(521.2,394.0) rotate(-90)" font-size="12" text-anchor="middle" fill="#1a1a1a" stroke="#1a1a1a" stroke-width="0.15">ϕ<tspan font-size="7" dy="3.2">ex</tspan><tspan dy="-3.2"> GB1</tspan><tspan font-size="7" dy="3.8">pre</tspan><tspan dy="-3.8">(combined)</tspan></text>
<text transform="translate(533.0,394.9) rotate(-90)" font-size="12" text-anchor="middle" fill="#1a1a1a" stroke="#1a1a1a" stroke-width="0.15" word-spacing="0.5">/ ×10<tspan font-size="7.2" dy="-4.8">3</tspan><tspan dy="4.8"> rad</tspan><tspan font-size="7.2" dy="-4.8">2</tspan><tspan dy="4.8"> s</tspan><tspan font-size="7.2" dy="-4.8">-2</tspan></text>
<text x="622.00" y="478.50" font-size="12.3" text-anchor="middle" font-weight="normal" fill="#1a1a1a" stroke="#1a1a1a" stroke-width="0.15" >ϕ<tspan font-size="7" dy="3.2">ex</tspan><tspan dy="-3.2"> GB1</tspan><tspan font-size="7" dy="3.8">dia</tspan><tspan dy="-3.8"> (combined)</tspan></text>
<text x="622.50" y="492.90" font-size="12" text-anchor="middle" font-weight="normal" fill="#1a1a1a" stroke="#1a1a1a" stroke-width="0.15" word-spacing="0.5">/ ×10<tspan font-size="7.2" dy="-4.8">3</tspan><tspan dy="4.8"> rad</tspan><tspan font-size="7.2" dy="-4.8">2</tspan><tspan dy="4.8"> s</tspan><tspan font-size="7.2" dy="-4.8">-2</tspan></text>
</g></svg></div></body></html>
